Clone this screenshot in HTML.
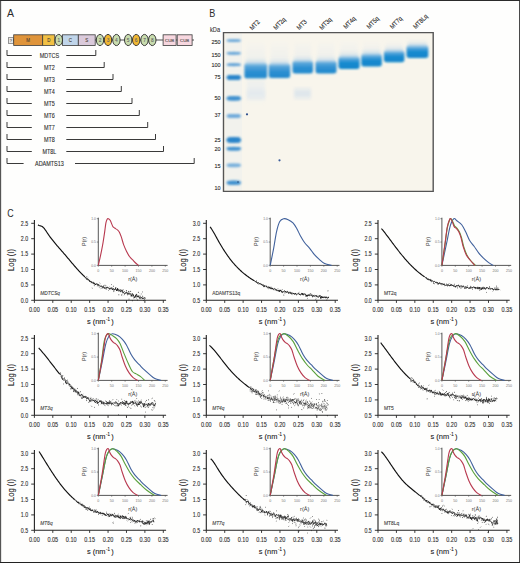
<!DOCTYPE html>
<html><head><meta charset="utf-8"><style>
html,body{margin:0;padding:0;background:#fff;}
body{width:520px;height:563px;overflow:hidden;}
svg{display:block;font-family:"Liberation Sans", sans-serif;}
</style></head><body>
<svg width="520" height="563" viewBox="0 0 520 563">
<rect x="0" y="0" width="520" height="563" fill="#fefefd"/>
<text x="7.1" y="16.8" font-size="11.2" fill="#2a2a2a" textLength="7.02" lengthAdjust="spacingAndGlyphs">A</text>
<rect x="8.3" y="37.7" width="5.2" height="5.8" fill="#e6e6e6" stroke="#555" stroke-width="0.6"/>
<text x="9.79" y="42.3" font-size="4" fill="#555" textLength="2.22" lengthAdjust="spacingAndGlyphs" stroke="#555" stroke-width="0.1">?</text>
<line x1="13" y1="40" x2="194" y2="40" stroke="#222" stroke-width="0.8"/>
<rect x="13.7" y="34.8" width="29" height="10.600000000000001" fill="#df943b" stroke="#3a3a3a" stroke-width="0.8"/>
<text x="26.33" y="41.9" font-size="5" fill="#4a4030" textLength="3.75" lengthAdjust="spacingAndGlyphs" stroke="#4a4030" stroke-width="0.1">M</text>
<rect x="42.7" y="34.8" width="12.1" height="10.600000000000001" fill="#f1c044" stroke="#3a3a3a" stroke-width="0.8"/>
<text x="47.13" y="41.9" font-size="5" fill="#4a4030" textLength="3.25" lengthAdjust="spacingAndGlyphs" stroke="#4a4030" stroke-width="0.1">D</text>
<rect x="62.5" y="34.8" width="15.8" height="10.600000000000001" fill="#c0d5ea" stroke="#3a3a3a" stroke-width="0.8"/>
<text x="68.78" y="41.9" font-size="5" fill="#4a4030" textLength="3.25" lengthAdjust="spacingAndGlyphs" stroke="#4a4030" stroke-width="0.1">C</text>
<rect x="78.3" y="34.8" width="16.9" height="10.600000000000001" fill="#dacadb" stroke="#3a3a3a" stroke-width="0.8"/>
<text x="85.25" y="41.9" font-size="5" fill="#4a4030" textLength="3" lengthAdjust="spacingAndGlyphs" stroke="#4a4030" stroke-width="0.1">S</text>
<rect x="163.1" y="34.8" width="13" height="10.600000000000001" fill="#f7d7df" stroke="#3a3a3a" stroke-width="0.8"/>
<rect x="177.2" y="34.8" width="14.9" height="10.600000000000001" fill="#f7d7df" stroke="#3a3a3a" stroke-width="0.8"/>
<text x="165.06" y="41.7" font-size="4.3" fill="#444" textLength="9.08" lengthAdjust="spacingAndGlyphs" stroke="#444" stroke-width="0.1">CUB</text>
<text x="180.06" y="41.7" font-size="4.3" fill="#444" textLength="9.08" lengthAdjust="spacingAndGlyphs" stroke="#444" stroke-width="0.1">CUB</text>
<ellipse cx="58.8" cy="40" rx="3.7" ry="5.6" fill="#c8dcae" stroke="#2a2a2a" stroke-width="0.9"/>
<text x="57.47" y="41.8" font-size="4.8" fill="#666" textLength="2.67" lengthAdjust="spacingAndGlyphs" stroke="#666" stroke-width="0.1">1</text>
<ellipse cx="100" cy="40" rx="3.7" ry="5.6" fill="#c8dcae" stroke="#2a2a2a" stroke-width="0.9"/>
<text x="98.67" y="41.8" font-size="4.8" fill="#666" textLength="2.67" lengthAdjust="spacingAndGlyphs" stroke="#666" stroke-width="0.1">2</text>
<ellipse cx="108" cy="40" rx="3.7" ry="5.6" fill="#f0b733" stroke="#2a2a2a" stroke-width="0.9"/>
<text x="106.67" y="41.8" font-size="4.8" fill="#666" textLength="2.67" lengthAdjust="spacingAndGlyphs" stroke="#666" stroke-width="0.1">3</text>
<ellipse cx="116.4" cy="40" rx="3.7" ry="5.6" fill="#c8dcae" stroke="#2a2a2a" stroke-width="0.9"/>
<text x="115.07" y="41.8" font-size="4.8" fill="#666" textLength="2.67" lengthAdjust="spacingAndGlyphs" stroke="#666" stroke-width="0.1">4</text>
<ellipse cx="128.2" cy="40" rx="3.7" ry="5.6" fill="#c8dcae" stroke="#2a2a2a" stroke-width="0.9"/>
<text x="126.87" y="41.8" font-size="4.8" fill="#666" textLength="2.67" lengthAdjust="spacingAndGlyphs" stroke="#666" stroke-width="0.1">5</text>
<ellipse cx="136.2" cy="40" rx="3.7" ry="5.6" fill="#f0b733" stroke="#2a2a2a" stroke-width="0.9"/>
<text x="134.87" y="41.8" font-size="4.8" fill="#666" textLength="2.67" lengthAdjust="spacingAndGlyphs" stroke="#666" stroke-width="0.1">6</text>
<ellipse cx="144.5" cy="40" rx="3.7" ry="5.6" fill="#c8dcae" stroke="#2a2a2a" stroke-width="0.9"/>
<text x="143.17" y="41.8" font-size="4.8" fill="#666" textLength="2.67" lengthAdjust="spacingAndGlyphs" stroke="#666" stroke-width="0.1">7</text>
<ellipse cx="152.3" cy="40" rx="3.7" ry="5.6" fill="#c8dcae" stroke="#2a2a2a" stroke-width="0.9"/>
<text x="150.97" y="41.8" font-size="4.8" fill="#666" textLength="2.67" lengthAdjust="spacingAndGlyphs" stroke="#666" stroke-width="0.1">8</text>
<path d="M7 50 V55.5 H31.8 M66.3 55.5 H95.8 V50" fill="none" stroke="#3a3a3a" stroke-width="1"/>
<text x="39.69" y="57.85" font-size="6.5" fill="#2a2a2a" textLength="19.41" lengthAdjust="spacingAndGlyphs" stroke="#2a2a2a" stroke-width="0.1">MDTCS</text>
<path d="M7 62 V67.5 H31.8 M66.3 67.5 H104.2 V62" fill="none" stroke="#3a3a3a" stroke-width="1"/>
<text x="43.94" y="69.85" font-size="6.5" fill="#2a2a2a" textLength="10.92" lengthAdjust="spacingAndGlyphs" stroke="#2a2a2a" stroke-width="0.1">MT2</text>
<path d="M7 74 V79.5 H31.8 M66.3 79.5 H113 V74" fill="none" stroke="#3a3a3a" stroke-width="1"/>
<text x="43.94" y="81.85" font-size="6.5" fill="#2a2a2a" textLength="10.92" lengthAdjust="spacingAndGlyphs" stroke="#2a2a2a" stroke-width="0.1">MT3</text>
<path d="M7 86 V91.5 H31.8 M66.3 91.5 H121.3 V86" fill="none" stroke="#3a3a3a" stroke-width="1"/>
<text x="43.94" y="93.85" font-size="6.5" fill="#2a2a2a" textLength="10.92" lengthAdjust="spacingAndGlyphs" stroke="#2a2a2a" stroke-width="0.1">MT4</text>
<path d="M7 98 V103.5 H31.8 M66.3 103.5 H132 V98" fill="none" stroke="#3a3a3a" stroke-width="1"/>
<text x="43.94" y="105.85" font-size="6.5" fill="#2a2a2a" textLength="10.92" lengthAdjust="spacingAndGlyphs" stroke="#2a2a2a" stroke-width="0.1">MT5</text>
<path d="M7 110 V115.5 H31.8 M66.3 115.5 H139.3 V110" fill="none" stroke="#3a3a3a" stroke-width="1"/>
<text x="43.94" y="117.85" font-size="6.5" fill="#2a2a2a" textLength="10.92" lengthAdjust="spacingAndGlyphs" stroke="#2a2a2a" stroke-width="0.1">MT6</text>
<path d="M7 122 V127.5 H31.8 M66.3 127.5 H147.7 V122" fill="none" stroke="#3a3a3a" stroke-width="1"/>
<text x="43.94" y="129.85" font-size="6.5" fill="#2a2a2a" textLength="10.92" lengthAdjust="spacingAndGlyphs" stroke="#2a2a2a" stroke-width="0.1">MT7</text>
<path d="M7 134 V139.5 H31.8 M66.3 139.5 H155.5 V134" fill="none" stroke="#3a3a3a" stroke-width="1"/>
<text x="43.94" y="141.85" font-size="6.5" fill="#2a2a2a" textLength="10.92" lengthAdjust="spacingAndGlyphs" stroke="#2a2a2a" stroke-width="0.1">MT8</text>
<path d="M7 146 V151.5 H31.8 M66.3 151.5 H163.5 V146" fill="none" stroke="#3a3a3a" stroke-width="1"/>
<text x="42.42" y="153.85" font-size="6.5" fill="#2a2a2a" textLength="13.96" lengthAdjust="spacingAndGlyphs" stroke="#2a2a2a" stroke-width="0.1">MT8L</text>
<path d="M7 158 V163.5 H23.6 M75 163.5 H194.2 V158" fill="none" stroke="#3a3a3a" stroke-width="1"/>
<text x="34.99" y="165.85" font-size="6.5" fill="#2a2a2a" textLength="28.82" lengthAdjust="spacingAndGlyphs" stroke="#2a2a2a" stroke-width="0.1">ADAMTS13</text>
<text x="209.2" y="16.8" font-size="11.2" fill="#2a2a2a" textLength="6.05" lengthAdjust="spacingAndGlyphs">B</text>
<text x="210" y="31.6" font-size="6.4" fill="#333" textLength="10.02" lengthAdjust="spacingAndGlyphs" stroke="#333" stroke-width="0.1">kDa</text>
<rect x="223.5" y="32.6" width="209.7" height="158.8" fill="#f8f5ec"/>
<defs>
<filter id="bl" x="-20%" y="-100%" width="140%" height="300%"><feGaussianBlur stdDeviation="0.7 0.6"/></filter>
<filter id="bl3" x="-20%" y="-100%" width="140%" height="300%"><feGaussianBlur stdDeviation="0.9 0.8"/></filter>
<filter id="bl2" x="-30%" y="-30%" width="160%" height="160%"><feGaussianBlur stdDeviation="1.5 2.5"/></filter>
<linearGradient id="bandg" x1="0" y1="0" x2="0" y2="1">
 <stop offset="0" stop-color="#6ab0e2" stop-opacity="0.25"/>
 <stop offset="0.25" stop-color="#3d9ad8" stop-opacity="0.9"/>
 <stop offset="0.5" stop-color="#1a8bd0" stop-opacity="1"/>
 <stop offset="1" stop-color="#0f84ca" stop-opacity="1"/>
</linearGradient>
<linearGradient id="bandg2" x1="0" y1="0" x2="0" y2="1">
 <stop offset="0" stop-color="#6ab0e2" stop-opacity="0.3"/>
 <stop offset="0.22" stop-color="#4a9ed8" stop-opacity="0.92"/>
 <stop offset="0.55" stop-color="#2f90d2" stop-opacity="1"/>
 <stop offset="1" stop-color="#1f88cc" stop-opacity="1"/>
</linearGradient>
<linearGradient id="smear" x1="0" y1="0" x2="0" y2="1">
 <stop offset="0" stop-color="#e4ecf2" stop-opacity="0"/>
 <stop offset="0.25" stop-color="#e2eaf1" stop-opacity="0.6"/>
 <stop offset="1" stop-color="#cfe0ee" stop-opacity="1"/>
</linearGradient>
</defs>
<rect x="225.5" y="33.6" width="16.5" height="156.8" fill="#e9eef0" opacity="0.35" filter="url(#bl)"/>
<g filter="url(#bl2)"><rect x="246.4" y="40.6" width="18.7" height="25.6" fill="url(#smear)" opacity="0.3"/><rect x="270.8" y="40.6" width="17.4" height="26.2" fill="url(#smear)" opacity="0.3"/><rect x="294.5" y="40.6" width="16.5" height="23.3" fill="url(#smear)" opacity="0.3"/><rect x="317.5" y="40.6" width="17" height="23.4" fill="url(#smear)" opacity="0.3"/><rect x="340.5" y="40.6" width="17.1" height="19" fill="url(#smear)" opacity="0.3"/><rect x="363.3" y="40.6" width="16.5" height="16.4" fill="url(#smear)" opacity="0.3"/><rect x="385.9" y="40.6" width="16.5" height="13.1" fill="url(#smear)" opacity="0.3"/><rect x="408.5" y="40.6" width="17.8" height="8" fill="url(#smear)" opacity="0.3"/></g>
<g filter="url(#bl3)"><ellipse cx="233.8" cy="40.6" rx="7.6" ry="1.4" fill="#5fa2d8" opacity="0.85"/><rect x="227.5" y="39.4" width="12.6" height="2.4" rx="1" fill="#5fa2d8" opacity="0.85"/><ellipse cx="233.8" cy="53.3" rx="7.6" ry="1.5" fill="#5fa2d8" opacity="0.85"/><rect x="227.5" y="52" width="12.6" height="2.6" rx="1" fill="#5fa2d8" opacity="0.85"/><ellipse cx="233.8" cy="64.8" rx="7.6" ry="1.5" fill="#589ed6" opacity="0.85"/><rect x="227.5" y="63.5" width="12.6" height="2.6" rx="1" fill="#589ed6" opacity="0.85"/><ellipse cx="233.8" cy="77.5" rx="7.6" ry="2.6" fill="#2c85ca" opacity="1"/><rect x="227.5" y="75.1" width="12.6" height="4.8" rx="1" fill="#2c85ca" opacity="1"/><ellipse cx="233.8" cy="98.4" rx="7.6" ry="2.3" fill="#3f91d0" opacity="0.95"/><rect x="227.5" y="96.3" width="12.6" height="4.2" rx="1" fill="#3f91d0" opacity="0.95"/><ellipse cx="233.8" cy="116" rx="7.6" ry="2.1" fill="#6aa8da" opacity="0.8"/><rect x="227.5" y="114.1" width="12.6" height="3.8" rx="1" fill="#6aa8da" opacity="0.8"/><ellipse cx="233.8" cy="140" rx="7.6" ry="3" fill="#2c85ca" opacity="1"/><rect x="227.5" y="137.2" width="12.6" height="5.6" rx="1" fill="#2c85ca" opacity="1"/><ellipse cx="233.8" cy="148.7" rx="7.6" ry="1.9" fill="#3f91d0" opacity="0.95"/><rect x="227.5" y="147" width="12.6" height="3.4" rx="1" fill="#3f91d0" opacity="0.95"/><ellipse cx="233.8" cy="165.3" rx="7.6" ry="1.9" fill="#72acdb" opacity="0.8"/><rect x="227.5" y="163.6" width="12.6" height="3.4" rx="1" fill="#72acdb" opacity="0.8"/><ellipse cx="233.8" cy="182.7" rx="7.6" ry="2.2" fill="#3f91d0" opacity="0.95"/><rect x="227.5" y="180.7" width="12.6" height="4" rx="1" fill="#3f91d0" opacity="0.95"/></g>
<g filter="url(#bl2)"><rect x="245.4" y="61.7" width="20.7" height="4" fill="#8dbde4" opacity="0.55"/><rect x="269.8" y="62.3" width="19.4" height="4" fill="#8dbde4" opacity="0.55"/><rect x="293.5" y="59.4" width="18.5" height="4" fill="#8dbde4" opacity="0.55"/><rect x="316.5" y="59.5" width="19" height="4" fill="#8dbde4" opacity="0.55"/><rect x="339.5" y="55.1" width="19.1" height="4" fill="#8dbde4" opacity="0.55"/><rect x="362.3" y="52.5" width="18.5" height="4" fill="#8dbde4" opacity="0.55"/><rect x="384.9" y="49.2" width="18.5" height="4" fill="#8dbde4" opacity="0.55"/><rect x="407.5" y="44.1" width="19.8" height="4" fill="#8dbde4" opacity="0.55"/></g>
<g filter="url(#bl3)"><rect x="244.4" y="62.7" width="22.7" height="15.8" rx="3" ry="2.5" fill="url(#bandg2)"/><rect x="268.8" y="63.3" width="21.4" height="14.7" rx="3" ry="2.5" fill="url(#bandg2)"/><rect x="292.5" y="60.4" width="20.5" height="13" rx="3" ry="2.5" fill="url(#bandg2)"/><rect x="315.5" y="60.5" width="21" height="13" rx="3" ry="2.5" fill="url(#bandg2)"/><rect x="338.5" y="56.1" width="21.1" height="13" rx="3" ry="2.5" fill="url(#bandg)"/><rect x="361.3" y="53.5" width="20.5" height="13" rx="3" ry="2.5" fill="url(#bandg)"/><rect x="383.9" y="50.2" width="20.5" height="12.1" rx="3" ry="2.5" fill="url(#bandg)"/><rect x="406.5" y="45.1" width="21.8" height="13" rx="3" ry="2.5" fill="url(#bandg)"/></g>
<rect x="294" y="89" width="17" height="9" fill="#d3e0ec" opacity="0.7" filter="url(#bl2)"/>
<rect x="247" y="90" width="18" height="8" fill="#d8e3ed" opacity="0.6" filter="url(#bl2)"/>
<rect x="247" y="80" width="18" height="20" fill="#e3eaf0" opacity="0.5" filter="url(#bl2)"/>
<circle cx="247" cy="114.3" r="1.1" fill="#2a4a8a"/><circle cx="279.5" cy="160.3" r="1.1" fill="#3a5a9a"/><circle cx="238" cy="182" r="0.7" fill="#223a6a"/>
<path d="M223.5 191.4 V32.6 H433.2 V191.4 Z" fill="none" stroke="#555" stroke-width="1.4"/>
<text x="211.5" y="43.7" font-size="6.2" fill="#2a2a2a" textLength="9.1" lengthAdjust="spacingAndGlyphs" stroke="#2a2a2a" stroke-width="0.1">250</text>
<text x="211.5" y="56.9" font-size="6.2" fill="#2a2a2a" textLength="9.1" lengthAdjust="spacingAndGlyphs" stroke="#2a2a2a" stroke-width="0.1">150</text>
<text x="211.5" y="66.8" font-size="6.2" fill="#2a2a2a" textLength="9.1" lengthAdjust="spacingAndGlyphs" stroke="#2a2a2a" stroke-width="0.1">100</text>
<text x="214.53" y="78.9" font-size="6.2" fill="#2a2a2a" textLength="6.07" lengthAdjust="spacingAndGlyphs" stroke="#2a2a2a" stroke-width="0.1">75</text>
<text x="214.53" y="100.2" font-size="6.2" fill="#2a2a2a" textLength="6.07" lengthAdjust="spacingAndGlyphs" stroke="#2a2a2a" stroke-width="0.1">50</text>
<text x="214.53" y="116.7" font-size="6.2" fill="#2a2a2a" textLength="6.07" lengthAdjust="spacingAndGlyphs" stroke="#2a2a2a" stroke-width="0.1">37</text>
<text x="214.53" y="142.2" font-size="6.2" fill="#2a2a2a" textLength="6.07" lengthAdjust="spacingAndGlyphs" stroke="#2a2a2a" stroke-width="0.1">25</text>
<text x="214.53" y="150.5" font-size="6.2" fill="#2a2a2a" textLength="6.07" lengthAdjust="spacingAndGlyphs" stroke="#2a2a2a" stroke-width="0.1">20</text>
<text x="214.53" y="167.7" font-size="6.2" fill="#2a2a2a" textLength="6.07" lengthAdjust="spacingAndGlyphs" stroke="#2a2a2a" stroke-width="0.1">15</text>
<text x="214.53" y="189.7" font-size="6.2" fill="#2a2a2a" textLength="6.07" lengthAdjust="spacingAndGlyphs" stroke="#2a2a2a" stroke-width="0.1">10</text>
<text transform="translate(252.2 30.6) rotate(-45)" x="0" y="0" font-size="6.6" fill="#222" textLength="11.35" lengthAdjust="spacingAndGlyphs" stroke="#222" stroke-width="0.1">MT2</text>
<text transform="translate(275.9 30.2) rotate(-45)" x="0" y="0" font-size="6.6" fill="#222" textLength="14.51" lengthAdjust="spacingAndGlyphs" stroke="#222" stroke-width="0.1">MT2q</text>
<text transform="translate(299.3 30.2) rotate(-45)" x="0" y="0" font-size="6.6" fill="#222" textLength="11.35" lengthAdjust="spacingAndGlyphs" stroke="#222" stroke-width="0.1">MT3</text>
<text transform="translate(322 30.2) rotate(-45)" x="0" y="0" font-size="6.6" fill="#222" textLength="14.51" lengthAdjust="spacingAndGlyphs" stroke="#222" stroke-width="0.1">MT3q</text>
<text transform="translate(345.9 29.3) rotate(-45)" x="0" y="0" font-size="6.6" fill="#222" textLength="14.51" lengthAdjust="spacingAndGlyphs" stroke="#222" stroke-width="0.1">MT4q</text>
<text transform="translate(369.2 29.3) rotate(-45)" x="0" y="0" font-size="6.6" fill="#222" textLength="14.51" lengthAdjust="spacingAndGlyphs" stroke="#222" stroke-width="0.1">MT5q</text>
<text transform="translate(392.5 29.3) rotate(-45)" x="0" y="0" font-size="6.6" fill="#222" textLength="14.51" lengthAdjust="spacingAndGlyphs" stroke="#222" stroke-width="0.1">MT7q</text>
<text transform="translate(415.7 29.3) rotate(-45)" x="0" y="0" font-size="6.6" fill="#222" textLength="17.66" lengthAdjust="spacingAndGlyphs" stroke="#222" stroke-width="0.1">MT8Lq</text>
<text x="7.3" y="216.7" font-size="10.8" fill="#2a2a2a" textLength="6.4" lengthAdjust="spacingAndGlyphs">C</text>
<path d="M34.4 220.1 V300.3 H166.1" fill="none" stroke="#222" stroke-width="1.1"/>
<line x1="31.2" y1="223.3" x2="34.4" y2="223.3" stroke="#222" stroke-width="0.9"/>
<text x="20.86" y="225.65" font-size="6.6" fill="#2a2a2a" textLength="7.34" lengthAdjust="spacingAndGlyphs" stroke="#2a2a2a" stroke-width="0.1">2.5</text>
<line x1="31.2" y1="238.7" x2="34.4" y2="238.7" stroke="#222" stroke-width="0.9"/>
<text x="20.86" y="241.05" font-size="6.6" fill="#2a2a2a" textLength="7.34" lengthAdjust="spacingAndGlyphs" stroke="#2a2a2a" stroke-width="0.1">2.0</text>
<line x1="31.2" y1="254.1" x2="34.4" y2="254.1" stroke="#222" stroke-width="0.9"/>
<text x="20.86" y="256.45" font-size="6.6" fill="#2a2a2a" textLength="7.34" lengthAdjust="spacingAndGlyphs" stroke="#2a2a2a" stroke-width="0.1">1.5</text>
<line x1="31.2" y1="269.5" x2="34.4" y2="269.5" stroke="#222" stroke-width="0.9"/>
<text x="20.86" y="271.85" font-size="6.6" fill="#2a2a2a" textLength="7.34" lengthAdjust="spacingAndGlyphs" stroke="#2a2a2a" stroke-width="0.1">1.0</text>
<line x1="31.2" y1="284.9" x2="34.4" y2="284.9" stroke="#222" stroke-width="0.9"/>
<text x="20.86" y="287.25" font-size="6.6" fill="#2a2a2a" textLength="7.34" lengthAdjust="spacingAndGlyphs" stroke="#2a2a2a" stroke-width="0.1">0.5</text>
<line x1="31.2" y1="300.3" x2="34.4" y2="300.3" stroke="#222" stroke-width="0.9"/>
<text x="20.86" y="302.65" font-size="6.6" fill="#2a2a2a" textLength="7.34" lengthAdjust="spacingAndGlyphs" stroke="#2a2a2a" stroke-width="0.1">0.0</text>
<line x1="34.4" y1="300.3" x2="34.4" y2="302.9" stroke="#222" stroke-width="0.9"/>
<text x="29.02" y="311.9" font-size="6.5" fill="#2a2a2a" textLength="10.75" lengthAdjust="spacingAndGlyphs" stroke="#2a2a2a" stroke-width="0.1">0.00</text>
<line x1="52.81" y1="300.3" x2="52.81" y2="302.9" stroke="#222" stroke-width="0.9"/>
<text x="47.44" y="311.9" font-size="6.5" fill="#2a2a2a" textLength="10.75" lengthAdjust="spacingAndGlyphs" stroke="#2a2a2a" stroke-width="0.1">0.05</text>
<line x1="71.23" y1="300.3" x2="71.23" y2="302.9" stroke="#222" stroke-width="0.9"/>
<text x="65.85" y="311.9" font-size="6.5" fill="#2a2a2a" textLength="10.75" lengthAdjust="spacingAndGlyphs" stroke="#2a2a2a" stroke-width="0.1">0.10</text>
<line x1="89.65" y1="300.3" x2="89.65" y2="302.9" stroke="#222" stroke-width="0.9"/>
<text x="84.27" y="311.9" font-size="6.5" fill="#2a2a2a" textLength="10.75" lengthAdjust="spacingAndGlyphs" stroke="#2a2a2a" stroke-width="0.1">0.15</text>
<line x1="108.06" y1="300.3" x2="108.06" y2="302.9" stroke="#222" stroke-width="0.9"/>
<text x="102.68" y="311.9" font-size="6.5" fill="#2a2a2a" textLength="10.75" lengthAdjust="spacingAndGlyphs" stroke="#2a2a2a" stroke-width="0.1">0.20</text>
<line x1="126.47" y1="300.3" x2="126.47" y2="302.9" stroke="#222" stroke-width="0.9"/>
<text x="121.1" y="311.9" font-size="6.5" fill="#2a2a2a" textLength="10.75" lengthAdjust="spacingAndGlyphs" stroke="#2a2a2a" stroke-width="0.1">0.25</text>
<line x1="144.89" y1="300.3" x2="144.89" y2="302.9" stroke="#222" stroke-width="0.9"/>
<text x="139.51" y="311.9" font-size="6.5" fill="#2a2a2a" textLength="10.75" lengthAdjust="spacingAndGlyphs" stroke="#2a2a2a" stroke-width="0.1">0.30</text>
<line x1="163.31" y1="300.3" x2="163.31" y2="302.9" stroke="#222" stroke-width="0.9"/>
<text x="157.93" y="311.9" font-size="6.5" fill="#2a2a2a" textLength="10.75" lengthAdjust="spacingAndGlyphs" stroke="#2a2a2a" stroke-width="0.1">0.35</text>
<text transform="translate(14.2 260.05) rotate(-90)" x="-11.05" y="0" font-size="9" fill="#1a1a1a" textLength="22.11" lengthAdjust="spacingAndGlyphs" stroke="#1a1a1a" stroke-width="0.1">Log (I)</text>
<text x="86.9" y="323.9" font-size="8.1" fill="#1a1a1a" textLength="18.63" lengthAdjust="spacingAndGlyphs" stroke="#1a1a1a" stroke-width="0.1">s (nm</text>
<text x="106.1" y="321.3" font-size="4.8" fill="#1a1a1a" textLength="3.84" lengthAdjust="spacingAndGlyphs" stroke="#1a1a1a" stroke-width="0.1">-1</text>
<text x="111.3" y="323.9" font-size="8.1" fill="#1a1a1a" textLength="2.48" lengthAdjust="spacingAndGlyphs" stroke="#1a1a1a" stroke-width="0.1">)</text>
<text x="40.3" y="295" font-size="4.8" fill="#444" font-style="italic" textLength="19.73" lengthAdjust="spacingAndGlyphs" stroke="#444" stroke-width="0.1">MDTCSq</text>
<path d="M38 224.74 L38.6 225.19 L39.2 225.49 L39.8 225.7 L40.4 225.86 L41 226.02 L41.6 226.23 L42.2 226.55 L42.8 226.99 L43.4 227.56 L44 228.22 L44.6 228.97 L45.2 229.79 L45.8 230.65 L46.4 231.55 L47 232.45 L47.6 233.36 L48.2 234.24 L48.8 235.11 L49.4 235.96 L50 236.79 L50.6 237.61 L51.2 238.41 L51.8 239.19 L52.4 239.97 L53 240.73 L53.6 241.48 L54.2 242.22 L54.8 242.95 L55.4 243.67 L56 244.38 L56.6 245.09 L57.2 245.79 L57.8 246.48 L58.4 247.17 L59 247.86 L59.6 248.54 L60.2 249.23 L60.8 249.91 L61.4 250.59 L62 251.28 L62.6 251.96 L63.2 252.65 L63.8 253.34 L64.4 254.04 L65 254.74 L65.6 255.44 L66.2 256.15 L66.8 256.86 L67.4 257.57 L68 258.28 L68.6 258.99 L69.2 259.71 L69.8 260.42 L70.4 261.13 L71 261.84 L71.6 262.55 L72.2 263.26 L72.8 263.97 L73.4 264.67 L74 265.37 L74.6 266.06 L75.2 266.75 L75.8 267.44 L76.4 268.12 L77 268.79 L77.6 269.46 L78.2 270.12 L78.8 270.78 L79.4 271.42 L80 272.06 L80.6 272.69 L81.2 273.31 L81.8 273.92 L82.4 274.52 L83 275.11 L83.6 275.68 L84.2 276.25 L84.8 276.8" fill="none" stroke="#111" stroke-width="1.15" stroke-linejoin="round"/>
<path d="M84.8 276.8 L85.5 277.3 L86.2 278.31 L86.9 278.52 L87.6 279.05 L88.3 279.28 L89 280.19 L89.7 281.41 L90.4 281.53 L91.1 282.34 L91.8 282.35 L92.5 282.85 L93.2 283.13 L93.9 282.45 L94.6 284.26 L95.3 284.4 L96 284.73 L96.7 283.72 L97.4 283.97 L98.1 284.76 L98.8 285.27 L99.5 286 L100.2 286.02 L100.9 286.6 L101.6 286.07 L102.3 286.88 L103 287.13 L103.7 286.62 L104.4 288.37 L105.1 287.77 L105.8 288.37 L106.5 287.3 L107.2 287.37 L107.9 287.79 L108.6 288.1 L109.3 288.76 L110 288.64 L110.7 288.28 L111.4 288.06 L112.1 288.51 L112.8 289.94 L113.5 288.59 L114.2 289.53 L114.9 289.83 L115.6 288.55 L116.3 289.88 L117 291.03 L117.7 288.65 L118.4 290.16 L119.1 290.53 L119.8 290.18 L120.5 291.45 L121.2 291.24 L121.9 290.35 L122.6 292.46 L123.3 292.59 L124 293.08 L124.7 293.76 L125.4 293.13 L126.1 293.2 L126.8 292.26 L127.5 294.16 L128.2 293.37 L128.9 293.77 L129.6 293.32 L130.3 293.83 L131 294.46 L131.7 296.33 L132.4 293.59 L133.1 294.33 L133.8 296.08 L134.5 297.39 L135.2 296.8 L135.9 294.69 L136.6 294.27 L137.3 297.11 L138 296.22 L138.7 295.97 L139.4 298.08 L140.1 298.29 L140.8 297.45 L141.5 297.58 L142.2 297.79 L142.9 298.93 L143.6 297.95 L144.3 297.81 L145 297.76" fill="none" stroke="#151515" stroke-width="0.95" stroke-linejoin="round"/>
<path d="M85.28 278.01l-0.6 -0.31M85.6 277.95l-0.6 -0.31M86.1 279.51l0.8 -0.58M86.42 276.84l0.8 -0.02M87.03 279.63l0.6 0.15M87.47 279.13l-0.6 0.63M88.13 277.94l-0.6 0.42M88.61 280.48l0.8 -0.03M89.1 281.32l0.8 -0.22M89.36 280.33l0.8 0.05M90.21 281.73l0.6 -0.49M90.6 281.7l0.6 -0.04M90.9 282.68l0.6 -0.58M91.19 281.68l0.6 -0.03M91.88 282.9l0.6 -0.49M92.46 288.25l-0.6 -0.28M93.11 283.64l0.8 -0.2M93.48 282.21l-0.6 -0.24M93.85 285.29l0.8 0.45M94.57 283.56l-0.6 -0.01M95.28 284.38l0.8 0.27M96.14 283.37l-0.6 0.68M97 285l0.8 -0.23M97.54 285.83l-0.6 0.48M98.08 285.43l-0.6 -0.53M98.56 285.05l0.8 -0.03M98.9 284.64l-0.6 -0.15M99.39 287.48l-0.6 -0.48M100.28 283.46l-0.6 -0.5M101.05 285.63l-0.6 0.61M101.38 288.42l-0.6 0.21M101.95 286.86l0.6 0.68M102.3 287.46l-0.6 -0.36M102.92 286.99l0.6 0.47M103.18 288.3l-0.6 -0.11M104.01 286.09l-0.6 -0.49M104.58 287.55l0.8 -0.46M105.11 285.77l-0.6 -0.61M105.79 285.46l-0.6 -0.62M106.14 288.22l0.8 0.01M106.74 288.92l-0.6 0.66M107.36 287.2l0.6 -0.07M107.94 289.86l0.6 0.59M108.76 287.49l0.6 -0.51M109.06 289.12l0.8 -0.4M109.49 288.78l0.8 0.62M110.14 288.47l0.6 -0.39M110.99 289.38l0.6 -0.47M111.66 287.64l0.6 -0.23M112.01 284.73l-0.6 -0.19M112.46 288.58l-0.6 0.17M113.03 285.87l0.8 0.66M113.32 291.46l0.6 0.36M114.09 289.91l-0.6 0.45M114.48 290.99l-0.6 -0.24M114.89 288.62l0.8 -0.1M115.16 287.89l0.8 0.15M115.53 287.75l0.8 -0.06M115.98 290.77l0.8 -0.64M116.67 289.43l0.8 -0.33M117.02 288.8l0.8 -0.29M117.57 288.88l0.6 0.43M118.46 294.77l0.8 0.02M118.84 290.74l-0.6 0.45M119.35 291.45l-0.6 -0.27M119.72 289.51l0.8 0.47M120.41 289.87l0.8 0.47M120.65 291.89l0.6 -0.1M120.9 289.87l0.6 0.14M121.59 294.53l0.8 -0.48M122.11 295.64l-0.6 -0.25M122.35 290.71l0.8 -0.2M122.58 289.96l0.8 -0.35M123.32 292.34l0.8 -0.5M123.93 291.59l0.8 0.12M124.5 294.63l-0.6 0.55M125.25 293l0.6 -0.49M125.95 290.46l0.8 0.45M126.65 291.01l-0.6 -0.5M127.22 294.63l0.8 0.46M127.84 292.72l0.8 -0.58M128.09 291.52l0.8 -0.17M128.61 299.18l0.8 -0.01M128.83 294.39l-0.6 0.61M129.65 291.68l0.6 -0.35M129.93 294.09l-0.6 0.36M130.3 291.48l0.8 -0.03M130.98 295.75l-0.6 0.19M131.33 293.82l-0.6 -0.27M131.94 300.77l0.8 -0.02M132.81 295.96l-0.6 0.02M133.34 297.73l0.8 0.69M133.93 297.63l0.6 -0.06M134.7 297.17l0.6 0.69M135.18 296.91l0.8 -0.5M135.75 296.11l0.8 0.14M136.39 297.9l0.6 0.56M136.94 299.55l0.8 0.63M137.61 296.56l0.6 -0.26M138.4 292.18l0.6 0.47M138.7 296.11l0.6 -0.35M138.96 293.13l-0.6 -0.59M139.8 298.13l0.8 0.47M140.22 296.01l0.8 0.66M140.73 297.78l0.6 0.54M141.49 293.98l-0.6 0.07M142.19 296.77l0.8 0.2M142.61 292.04l-0.6 -0.52M143.14 296.4l-0.6 -0.34M143.8 300.43l-0.6 0.24M144.11 299.39l0.6 0.07M144.63 298.33l0.6 -0.1M145.22 298.35l0.6 -0.37" stroke="#111" stroke-width="0.75" fill="none"/>
<path d="M98.3 217.7 V265.4 H167.6" fill="none" stroke="#444" stroke-width="0.9"/>
<line x1="96.8" y1="265.4" x2="98.3" y2="265.4" stroke="#444" stroke-width="0.6"/>
<text x="96" y="266.6" font-size="3.4" fill="#777" text-anchor="end">0.0</text>
<line x1="96.8" y1="242.05" x2="98.3" y2="242.05" stroke="#444" stroke-width="0.6"/>
<text x="96" y="243.25" font-size="3.4" fill="#777" text-anchor="end">0.5</text>
<line x1="96.8" y1="218.7" x2="98.3" y2="218.7" stroke="#444" stroke-width="0.6"/>
<text x="96" y="219.9" font-size="3.4" fill="#777" text-anchor="end">1.0</text>
<line x1="98.3" y1="265.4" x2="98.3" y2="266.7" stroke="#444" stroke-width="0.6"/>
<text x="98.3" y="272" font-size="3.6" fill="#777" text-anchor="middle">0</text>
<line x1="111.7" y1="265.4" x2="111.7" y2="266.7" stroke="#444" stroke-width="0.6"/>
<text x="111.7" y="272" font-size="3.6" fill="#777" text-anchor="middle">50</text>
<line x1="125.1" y1="265.4" x2="125.1" y2="266.7" stroke="#444" stroke-width="0.6"/>
<text x="125.1" y="272" font-size="3.6" fill="#777" text-anchor="middle">100</text>
<line x1="138.5" y1="265.4" x2="138.5" y2="266.7" stroke="#444" stroke-width="0.6"/>
<text x="138.5" y="272" font-size="3.6" fill="#777" text-anchor="middle">150</text>
<line x1="151.9" y1="265.4" x2="151.9" y2="266.7" stroke="#444" stroke-width="0.6"/>
<text x="151.9" y="272" font-size="3.6" fill="#777" text-anchor="middle">200</text>
<line x1="165.3" y1="265.4" x2="165.3" y2="266.7" stroke="#444" stroke-width="0.6"/>
<text x="165.3" y="272" font-size="3.6" fill="#777" text-anchor="middle">250</text>
<text transform="translate(85.9 241.4) rotate(-90)" x="0" y="0" font-size="5.4" fill="#333" text-anchor="middle">P(r)</text>
<text x="132.8" y="280.7" font-size="5.6" fill="#333" text-anchor="middle">r(Å)</text>
<path d="M98.3 265.4 C98.57 264.23 99.36 260.89 99.91 258.4 C100.46 255.9 101.06 253.18 101.6 250.46 C102.13 247.73 102.64 244.93 103.12 242.05 C103.61 239.17 104.03 236.37 104.49 233.18 C104.96 229.99 105.47 225.24 105.91 222.9 C106.35 220.57 106.73 219.87 107.14 219.17 C107.56 218.47 107.88 218.47 108.4 218.7 C108.93 218.93 109.59 219.32 110.31 220.57 C111.02 221.81 111.98 224.93 112.69 226.17 C113.41 227.42 113.79 227.42 114.59 228.04 C115.39 228.66 116.69 229.21 117.49 229.91 C118.29 230.61 118.76 231.08 119.39 232.24 C120.03 233.41 120.58 234.81 121.29 236.91 C122.01 239.01 122.82 242.44 123.71 244.85 C124.59 247.26 125.64 249.44 126.6 251.39 C127.57 253.34 128.36 254.97 129.5 256.53 C130.63 258.08 132.29 259.56 133.41 260.73 C134.52 261.9 135.32 262.75 136.2 263.53 C137.08 264.31 138.27 265.09 138.69 265.4" fill="none" stroke="#b8394f" stroke-width="1.1"/>
<path d="M206.3 220.1 V300.3 H338" fill="none" stroke="#222" stroke-width="1.1"/>
<line x1="203.1" y1="223.3" x2="206.3" y2="223.3" stroke="#222" stroke-width="0.9"/>
<text x="192.76" y="225.65" font-size="6.6" fill="#2a2a2a" textLength="7.34" lengthAdjust="spacingAndGlyphs" stroke="#2a2a2a" stroke-width="0.1">3.0</text>
<line x1="203.1" y1="238.7" x2="206.3" y2="238.7" stroke="#222" stroke-width="0.9"/>
<text x="192.76" y="241.05" font-size="6.6" fill="#2a2a2a" textLength="7.34" lengthAdjust="spacingAndGlyphs" stroke="#2a2a2a" stroke-width="0.1">2.5</text>
<line x1="203.1" y1="254.1" x2="206.3" y2="254.1" stroke="#222" stroke-width="0.9"/>
<text x="192.76" y="256.45" font-size="6.6" fill="#2a2a2a" textLength="7.34" lengthAdjust="spacingAndGlyphs" stroke="#2a2a2a" stroke-width="0.1">2.0</text>
<line x1="203.1" y1="269.5" x2="206.3" y2="269.5" stroke="#222" stroke-width="0.9"/>
<text x="192.76" y="271.85" font-size="6.6" fill="#2a2a2a" textLength="7.34" lengthAdjust="spacingAndGlyphs" stroke="#2a2a2a" stroke-width="0.1">1.5</text>
<line x1="203.1" y1="284.9" x2="206.3" y2="284.9" stroke="#222" stroke-width="0.9"/>
<text x="192.76" y="287.25" font-size="6.6" fill="#2a2a2a" textLength="7.34" lengthAdjust="spacingAndGlyphs" stroke="#2a2a2a" stroke-width="0.1">1.0</text>
<line x1="203.1" y1="300.3" x2="206.3" y2="300.3" stroke="#222" stroke-width="0.9"/>
<text x="192.76" y="302.65" font-size="6.6" fill="#2a2a2a" textLength="7.34" lengthAdjust="spacingAndGlyphs" stroke="#2a2a2a" stroke-width="0.1">0.5</text>
<line x1="206.3" y1="300.3" x2="206.3" y2="302.9" stroke="#222" stroke-width="0.9"/>
<text x="200.92" y="311.9" font-size="6.5" fill="#2a2a2a" textLength="10.75" lengthAdjust="spacingAndGlyphs" stroke="#2a2a2a" stroke-width="0.1">0.00</text>
<line x1="224.72" y1="300.3" x2="224.72" y2="302.9" stroke="#222" stroke-width="0.9"/>
<text x="219.34" y="311.9" font-size="6.5" fill="#2a2a2a" textLength="10.75" lengthAdjust="spacingAndGlyphs" stroke="#2a2a2a" stroke-width="0.1">0.05</text>
<line x1="243.13" y1="300.3" x2="243.13" y2="302.9" stroke="#222" stroke-width="0.9"/>
<text x="237.75" y="311.9" font-size="6.5" fill="#2a2a2a" textLength="10.75" lengthAdjust="spacingAndGlyphs" stroke="#2a2a2a" stroke-width="0.1">0.10</text>
<line x1="261.55" y1="300.3" x2="261.55" y2="302.9" stroke="#222" stroke-width="0.9"/>
<text x="256.17" y="311.9" font-size="6.5" fill="#2a2a2a" textLength="10.75" lengthAdjust="spacingAndGlyphs" stroke="#2a2a2a" stroke-width="0.1">0.15</text>
<line x1="279.96" y1="300.3" x2="279.96" y2="302.9" stroke="#222" stroke-width="0.9"/>
<text x="274.58" y="311.9" font-size="6.5" fill="#2a2a2a" textLength="10.75" lengthAdjust="spacingAndGlyphs" stroke="#2a2a2a" stroke-width="0.1">0.20</text>
<line x1="298.38" y1="300.3" x2="298.38" y2="302.9" stroke="#222" stroke-width="0.9"/>
<text x="293" y="311.9" font-size="6.5" fill="#2a2a2a" textLength="10.75" lengthAdjust="spacingAndGlyphs" stroke="#2a2a2a" stroke-width="0.1">0.25</text>
<line x1="316.79" y1="300.3" x2="316.79" y2="302.9" stroke="#222" stroke-width="0.9"/>
<text x="311.41" y="311.9" font-size="6.5" fill="#2a2a2a" textLength="10.75" lengthAdjust="spacingAndGlyphs" stroke="#2a2a2a" stroke-width="0.1">0.30</text>
<line x1="335.21" y1="300.3" x2="335.21" y2="302.9" stroke="#222" stroke-width="0.9"/>
<text x="329.83" y="311.9" font-size="6.5" fill="#2a2a2a" textLength="10.75" lengthAdjust="spacingAndGlyphs" stroke="#2a2a2a" stroke-width="0.1">0.35</text>
<text transform="translate(186.1 260.05) rotate(-90)" x="-11.05" y="0" font-size="9" fill="#1a1a1a" textLength="22.11" lengthAdjust="spacingAndGlyphs" stroke="#1a1a1a" stroke-width="0.1">Log (I)</text>
<text x="258.8" y="323.9" font-size="8.1" fill="#1a1a1a" textLength="18.63" lengthAdjust="spacingAndGlyphs" stroke="#1a1a1a" stroke-width="0.1">s (nm</text>
<text x="278" y="321.3" font-size="4.8" fill="#1a1a1a" textLength="3.84" lengthAdjust="spacingAndGlyphs" stroke="#1a1a1a" stroke-width="0.1">-1</text>
<text x="283.2" y="323.9" font-size="8.1" fill="#1a1a1a" textLength="2.48" lengthAdjust="spacingAndGlyphs" stroke="#1a1a1a" stroke-width="0.1">)</text>
<text x="212.2" y="295" font-size="5" fill="#444" textLength="28.01" lengthAdjust="spacingAndGlyphs" stroke="#444" stroke-width="0.1">ADAMTS13q</text>
<path d="M210.1 226.89 L210.7 227.7 L211.3 228.56 L211.9 229.48 L212.5 230.44 L213.1 231.43 L213.7 232.46 L214.3 233.52 L214.9 234.59 L215.5 235.68 L216.1 236.77 L216.7 237.87 L217.3 238.96 L217.9 240.04 L218.5 241.11 L219.1 242.17 L219.7 243.21 L220.3 244.24 L220.9 245.26 L221.5 246.26 L222.1 247.25 L222.7 248.23 L223.3 249.19 L223.9 250.14 L224.5 251.07 L225.1 251.99 L225.7 252.89 L226.3 253.78 L226.9 254.65 L227.5 255.51 L228.1 256.35 L228.7 257.18 L229.3 257.99 L229.9 258.78 L230.5 259.56 L231.1 260.33 L231.7 261.08 L232.3 261.82 L232.9 262.54 L233.5 263.25 L234.1 263.94 L234.7 264.62 L235.3 265.29 L235.9 265.94 L236.5 266.59 L237.1 267.21 L237.7 267.83 L238.3 268.43 L238.9 269.02 L239.5 269.6 L240.1 270.17 L240.7 270.73 L241.3 271.27 L241.9 271.81 L242.5 272.33 L243.1 272.84 L243.7 273.35 L244.3 273.84 L244.9 274.32 L245.5 274.8 L246.1 275.26 L246.7 275.71 L247.3 276.16 L247.9 276.59 L248.5 277.02 L249.1 277.44 L249.7 277.85 L250.3 278.25 L250.9 278.65 L251.5 279.04 L252.1 279.42 L252.7 279.79 L253.3 280.16 L253.9 280.52 L254.5 280.87" fill="none" stroke="#111" stroke-width="1.15" stroke-linejoin="round"/>
<path d="M254.5 280.87 L255.2 281.73 L255.9 281.64 L256.6 282.59 L257.3 282.96 L258 282.36 L258.7 282.8 L259.4 283.75 L260.1 283.46 L260.8 284.15 L261.5 284.46 L262.2 284.99 L262.9 284.98 L263.6 286.62 L264.3 286.15 L265 286.46 L265.7 285.76 L266.4 286 L267.1 287 L267.8 287.54 L268.5 287.46 L269.2 288.17 L269.9 286.87 L270.6 288.58 L271.3 288.98 L272 287.88 L272.7 289 L273.4 289.12 L274.1 289.05 L274.8 288.52 L275.5 289.08 L276.2 290.02 L276.9 290.6 L277.6 290.29 L278.3 291.31 L279 290.23 L279.7 291.65 L280.4 289.92 L281.1 291.15 L281.8 291.55 L282.5 291.81 L283.2 292.13 L283.9 291.24 L284.6 290.76 L285.3 291.9 L286 291.42 L286.7 292.35 L287.4 291.84 L288.1 292.4 L288.8 292.62 L289.5 292.86 L290.2 292.51 L290.9 293.7 L291.6 292.73 L292.3 293.13 L293 293.6 L293.7 293.42 L294.4 294.33 L295.1 293.53 L295.8 293.45 L296.5 294.44 L297.2 294.2 L297.9 293.49 L298.6 293.79 L299.3 294.29 L300 295.03 L300.7 294.82 L301.4 294.44 L302.1 293.03 L302.8 294.94 L303.5 293.88 L304.2 293.74 L304.9 294.36 L305.6 294.95 L306.3 294.98 L307 296.59 L307.7 294.96 L308.4 294.67 L309.1 295.98 L309.8 295.43 L310.5 295.11 L311.2 294.9 L311.9 295.52 L312.6 296.59 L313.3 296.13 L314 295.59 L314.7 296.45 L315.4 296.09 L316.1 295.18 L316.8 296.6 L317.5 296.59 L318.2 297.42 L318.9 296.34 L319.6 295.69 L320.3 297.06 L321 298.37 L321.7 296.29 L322.4 298.02 L323.1 297.02 L323.8 297.55 L324.5 297.21 L325.2 296.71 L325.9 298.17 L326.6 297.27 L327.3 297.82 L328 298.21 L328.7 296.97" fill="none" stroke="#151515" stroke-width="0.95" stroke-linejoin="round"/>
<path d="M255.78 282.05l0.6 -0.62M256.14 280.97l0.8 -0.15M257.37 282.97l-0.6 -0.54M257.78 283.03l-0.6 0.34M258.15 283.74l0.6 0.47M259.47 283.76l0.8 -0.21M260.76 284.35l0.8 -0.17M261.86 284.8l-0.6 -0.04M262.56 284.76l0.8 -0.25M263.63 285.16l-0.6 0.37M264.01 285.29l0.8 0.42M264.4 286.69l0.6 -0.32M265.69 286.73l0.6 0.35M266.72 286.45l-0.6 0.58M267.68 288.23l0.8 0.46M268.13 286.11l0.6 0.58M269.27 288l0.6 -0.44M270.41 288.68l-0.6 -0.37M271.6 287.39l-0.6 -0.59M272.13 288.71l0.8 -0.03M273.01 289.25l0.6 0.54M274.33 289.68l0.6 0.68M275.64 289.93l0.8 -0.12M276.59 290l-0.6 0.36M277.71 288.79l0.6 0.09M278.41 290.69l0.8 -0.37M279.03 291.23l0.8 -0.24M279.76 290.25l0.8 0.21M281.08 291.12l0.6 0.54M281.65 290.09l0.8 -0.53M282.17 292.59l-0.6 -0.43M282.58 291.97l-0.6 0.62M283.02 292.59l-0.6 -0.21M283.39 295.05l0.8 0.14M284.37 292.83l0.8 0.45M285.11 291.75l0.8 0.41M286 291.93l0.8 0.41M286.99 291.12l0.6 0.27M287.74 292.21l0.6 -0.12M288.12 293.22l0.8 0.51M289.45 292.16l0.8 -0.15M290.19 292.42l0.8 0.45M290.93 293.22l0.6 0.38M291.39 294.11l0.6 -0.58M292.35 294.52l-0.6 -0.46M293.03 293.49l0.6 -0.01M294.17 293.8l0.8 -0.28M295.34 294.35l-0.6 0.6M296.06 293.32l-0.6 0.26M297.28 294.73l-0.6 0.48M298.45 293.01l0.8 -0.64M299.72 293.86l-0.6 0.44M300.24 294.7l-0.6 -0.65M301.41 293.4l-0.6 0.39M302.4 293.79l0.8 -0.1M303.39 294.43l-0.6 0.68M304.19 294.8l-0.6 0.39M304.98 294.33l0.8 -0.2M305.68 294.97l-0.6 0.01M306.05 296.37l-0.6 0.02M306.44 295.79l0.6 0.21M307.56 298.35l-0.6 0.44M308.08 295.73l0.6 -0.3M309.23 294.62l0.8 -0.61M309.91 293.8l0.8 -0.25M310.86 294.67l0.6 -0.41M311.46 295.73l0.6 -0.18M311.99 295.01l0.6 0.55M312.49 294.97l0.8 0.38M312.87 296.83l-0.6 0.11M314.09 295.56l-0.6 0.18M314.82 295.58l-0.6 -0.5M315.48 299.31l0.8 -0.45M316.56 296.46l-0.6 0.65M317.76 295.47l0.6 0.33M318.84 295.98l0.6 0.02M320.07 298.08l0.8 0.16M320.45 295.71l-0.6 -0.2M321.01 296.27l-0.6 -0.51M321.71 296.87l0.8 0.29M322.49 297.04l0.8 0.52M323.61 297.02l-0.6 0.45M324.83 297.4l-0.6 -0.08M326.1 297.45l0.8 -0.61M326.46 300.05l0.8 -0.62M327.57 290.92l0.8 -0.12M328.42 296.92l-0.6 0.2" stroke="#111" stroke-width="0.75" fill="none"/>
<path d="M270.2 217.7 V265.4 H339.5" fill="none" stroke="#444" stroke-width="0.9"/>
<line x1="268.7" y1="265.4" x2="270.2" y2="265.4" stroke="#444" stroke-width="0.6"/>
<text x="267.9" y="266.6" font-size="3.4" fill="#777" text-anchor="end">0.0</text>
<line x1="268.7" y1="242.05" x2="270.2" y2="242.05" stroke="#444" stroke-width="0.6"/>
<text x="267.9" y="243.25" font-size="3.4" fill="#777" text-anchor="end">0.5</text>
<line x1="268.7" y1="218.7" x2="270.2" y2="218.7" stroke="#444" stroke-width="0.6"/>
<text x="267.9" y="219.9" font-size="3.4" fill="#777" text-anchor="end">1.0</text>
<line x1="270.2" y1="265.4" x2="270.2" y2="266.7" stroke="#444" stroke-width="0.6"/>
<text x="270.2" y="272" font-size="3.6" fill="#777" text-anchor="middle">0</text>
<line x1="283.6" y1="265.4" x2="283.6" y2="266.7" stroke="#444" stroke-width="0.6"/>
<text x="283.6" y="272" font-size="3.6" fill="#777" text-anchor="middle">50</text>
<line x1="297" y1="265.4" x2="297" y2="266.7" stroke="#444" stroke-width="0.6"/>
<text x="297" y="272" font-size="3.6" fill="#777" text-anchor="middle">100</text>
<line x1="310.4" y1="265.4" x2="310.4" y2="266.7" stroke="#444" stroke-width="0.6"/>
<text x="310.4" y="272" font-size="3.6" fill="#777" text-anchor="middle">150</text>
<line x1="323.8" y1="265.4" x2="323.8" y2="266.7" stroke="#444" stroke-width="0.6"/>
<text x="323.8" y="272" font-size="3.6" fill="#777" text-anchor="middle">200</text>
<line x1="337.2" y1="265.4" x2="337.2" y2="266.7" stroke="#444" stroke-width="0.6"/>
<text x="337.2" y="272" font-size="3.6" fill="#777" text-anchor="middle">250</text>
<text transform="translate(257.8 241.4) rotate(-90)" x="0" y="0" font-size="5.4" fill="#333" text-anchor="middle">P(r)</text>
<text x="304.7" y="280.7" font-size="5.6" fill="#333" text-anchor="middle">r(Å)</text>
<path d="M270.2 265.4 C270.77 262.6 272.53 254.27 273.6 248.59 C274.68 242.91 275.6 235.82 276.63 231.31 C277.66 226.79 278.61 223.6 279.77 221.5 C280.93 219.4 282.2 219.01 283.6 218.7 C285 218.39 286.59 218.93 288.16 219.63 C289.72 220.33 291.55 221.42 292.98 222.9 C294.41 224.38 295.48 226.33 296.73 228.51 C297.98 230.69 299.19 233.64 300.48 235.98 C301.78 238.31 302.94 240.42 304.5 242.52 C306.07 244.62 308.21 246.56 309.86 248.59 C311.52 250.61 312.86 252.87 314.42 254.66 C315.98 256.45 317.55 257.85 319.24 259.33 C320.94 260.81 322.55 262.52 324.6 263.53 C326.66 264.54 330.41 265.09 331.57 265.4" fill="none" stroke="#40619c" stroke-width="1.1"/>
<path d="M378 220.1 V300.3 H509.7" fill="none" stroke="#222" stroke-width="1.1"/>
<line x1="374.8" y1="223.3" x2="378" y2="223.3" stroke="#222" stroke-width="0.9"/>
<text x="364.46" y="225.65" font-size="6.6" fill="#2a2a2a" textLength="7.34" lengthAdjust="spacingAndGlyphs" stroke="#2a2a2a" stroke-width="0.1">2.5</text>
<line x1="374.8" y1="238.7" x2="378" y2="238.7" stroke="#222" stroke-width="0.9"/>
<text x="364.46" y="241.05" font-size="6.6" fill="#2a2a2a" textLength="7.34" lengthAdjust="spacingAndGlyphs" stroke="#2a2a2a" stroke-width="0.1">2.0</text>
<line x1="374.8" y1="254.1" x2="378" y2="254.1" stroke="#222" stroke-width="0.9"/>
<text x="364.46" y="256.45" font-size="6.6" fill="#2a2a2a" textLength="7.34" lengthAdjust="spacingAndGlyphs" stroke="#2a2a2a" stroke-width="0.1">1.5</text>
<line x1="374.8" y1="269.5" x2="378" y2="269.5" stroke="#222" stroke-width="0.9"/>
<text x="364.46" y="271.85" font-size="6.6" fill="#2a2a2a" textLength="7.34" lengthAdjust="spacingAndGlyphs" stroke="#2a2a2a" stroke-width="0.1">1.0</text>
<line x1="374.8" y1="284.9" x2="378" y2="284.9" stroke="#222" stroke-width="0.9"/>
<text x="364.46" y="287.25" font-size="6.6" fill="#2a2a2a" textLength="7.34" lengthAdjust="spacingAndGlyphs" stroke="#2a2a2a" stroke-width="0.1">0.5</text>
<line x1="374.8" y1="300.3" x2="378" y2="300.3" stroke="#222" stroke-width="0.9"/>
<text x="364.46" y="302.65" font-size="6.6" fill="#2a2a2a" textLength="7.34" lengthAdjust="spacingAndGlyphs" stroke="#2a2a2a" stroke-width="0.1">0.0</text>
<line x1="378" y1="300.3" x2="378" y2="302.9" stroke="#222" stroke-width="0.9"/>
<text x="372.62" y="311.9" font-size="6.5" fill="#2a2a2a" textLength="10.75" lengthAdjust="spacingAndGlyphs" stroke="#2a2a2a" stroke-width="0.1">0.00</text>
<line x1="396.42" y1="300.3" x2="396.42" y2="302.9" stroke="#222" stroke-width="0.9"/>
<text x="391.04" y="311.9" font-size="6.5" fill="#2a2a2a" textLength="10.75" lengthAdjust="spacingAndGlyphs" stroke="#2a2a2a" stroke-width="0.1">0.05</text>
<line x1="414.83" y1="300.3" x2="414.83" y2="302.9" stroke="#222" stroke-width="0.9"/>
<text x="409.45" y="311.9" font-size="6.5" fill="#2a2a2a" textLength="10.75" lengthAdjust="spacingAndGlyphs" stroke="#2a2a2a" stroke-width="0.1">0.10</text>
<line x1="433.25" y1="300.3" x2="433.25" y2="302.9" stroke="#222" stroke-width="0.9"/>
<text x="427.87" y="311.9" font-size="6.5" fill="#2a2a2a" textLength="10.75" lengthAdjust="spacingAndGlyphs" stroke="#2a2a2a" stroke-width="0.1">0.15</text>
<line x1="451.66" y1="300.3" x2="451.66" y2="302.9" stroke="#222" stroke-width="0.9"/>
<text x="446.28" y="311.9" font-size="6.5" fill="#2a2a2a" textLength="10.75" lengthAdjust="spacingAndGlyphs" stroke="#2a2a2a" stroke-width="0.1">0.20</text>
<line x1="470.07" y1="300.3" x2="470.07" y2="302.9" stroke="#222" stroke-width="0.9"/>
<text x="464.7" y="311.9" font-size="6.5" fill="#2a2a2a" textLength="10.75" lengthAdjust="spacingAndGlyphs" stroke="#2a2a2a" stroke-width="0.1">0.25</text>
<line x1="488.49" y1="300.3" x2="488.49" y2="302.9" stroke="#222" stroke-width="0.9"/>
<text x="483.11" y="311.9" font-size="6.5" fill="#2a2a2a" textLength="10.75" lengthAdjust="spacingAndGlyphs" stroke="#2a2a2a" stroke-width="0.1">0.30</text>
<line x1="506.91" y1="300.3" x2="506.91" y2="302.9" stroke="#222" stroke-width="0.9"/>
<text x="501.53" y="311.9" font-size="6.5" fill="#2a2a2a" textLength="10.75" lengthAdjust="spacingAndGlyphs" stroke="#2a2a2a" stroke-width="0.1">0.35</text>
<text transform="translate(357.8 260.05) rotate(-90)" x="-11.05" y="0" font-size="9" fill="#1a1a1a" textLength="22.11" lengthAdjust="spacingAndGlyphs" stroke="#1a1a1a" stroke-width="0.1">Log (I)</text>
<text x="430.5" y="323.9" font-size="8.1" fill="#1a1a1a" textLength="18.63" lengthAdjust="spacingAndGlyphs" stroke="#1a1a1a" stroke-width="0.1">s (nm</text>
<text x="449.7" y="321.3" font-size="4.8" fill="#1a1a1a" textLength="3.84" lengthAdjust="spacingAndGlyphs" stroke="#1a1a1a" stroke-width="0.1">-1</text>
<text x="454.9" y="323.9" font-size="8.1" fill="#1a1a1a" textLength="2.48" lengthAdjust="spacingAndGlyphs" stroke="#1a1a1a" stroke-width="0.1">)</text>
<text x="383.9" y="295" font-size="5" fill="#444" textLength="12.52" lengthAdjust="spacingAndGlyphs" stroke="#444" stroke-width="0.1">MT2q</text>
<path d="M381.4 228.53 L382 229.25 L382.6 229.97 L383.2 230.71 L383.8 231.46 L384.4 232.22 L385 232.98 L385.6 233.76 L386.2 234.54 L386.8 235.32 L387.4 236.12 L388 236.91 L388.6 237.71 L389.2 238.52 L389.8 239.32 L390.4 240.13 L391 240.94 L391.6 241.75 L392.2 242.55 L392.8 243.36 L393.4 244.17 L394 244.97 L394.6 245.77 L395.2 246.56 L395.8 247.35 L396.4 248.14 L397 248.92 L397.6 249.7 L398.2 250.48 L398.8 251.24 L399.4 252.01 L400 252.77 L400.6 253.52 L401.2 254.26 L401.8 255 L402.4 255.74 L403 256.46 L403.6 257.18 L404.2 257.89 L404.8 258.59 L405.4 259.29 L406 259.98 L406.6 260.65 L407.2 261.32 L407.8 261.98 L408.4 262.64 L409 263.28 L409.6 263.91 L410.2 264.54 L410.8 265.15 L411.4 265.76 L412 266.35 L412.6 266.94 L413.2 267.52 L413.8 268.09 L414.4 268.66 L415 269.21 L415.6 269.75 L416.2 270.29 L416.8 270.81 L417.4 271.33 L418 271.84 L418.6 272.34 L419.2 272.83 L419.8 273.31 L420.4 273.79 L421 274.25 L421.6 274.71 L422.2 275.15 L422.8 275.59 L423.4 276.01 L424 276.43 L424.6 276.84" fill="none" stroke="#111" stroke-width="1.15" stroke-linejoin="round"/>
<path d="M424.6 276.84 L425.3 277.39 L426 277.51 L426.7 278.04 L427.4 278.9 L428.1 279.8 L428.8 279.62 L429.5 279.85 L430.2 279.41 L430.9 281.22 L431.6 280.75 L432.3 281.01 L433 280.83 L433.7 281.58 L434.4 281.39 L435.1 282.15 L435.8 282.57 L436.5 282.61 L437.2 282.95 L437.9 282.64 L438.6 283.88 L439.3 283.12 L440 282.76 L440.7 283.69 L441.4 283.58 L442.1 283.62 L442.8 284.08 L443.5 284.53 L444.2 283.96 L444.9 284.58 L445.6 285.47 L446.3 285.22 L447 284.93 L447.7 285.17 L448.4 285.15 L449.1 285.29 L449.8 285.78 L450.5 285.46 L451.2 284.37 L451.9 285.67 L452.6 285.31 L453.3 286.19 L454 285.62 L454.7 286.1 L455.4 287.24 L456.1 285.63 L456.8 285.66 L457.5 285.58 L458.2 285.13 L458.9 285.47 L459.6 286.76 L460.3 286.28 L461 285.68 L461.7 285.95 L462.4 287.18 L463.1 286.48 L463.8 286.77 L464.5 287.22 L465.2 287.87 L465.9 288.27 L466.6 287.82 L467.3 287.37 L468 287.45 L468.7 288.45 L469.4 288.3 L470.1 287.34 L470.8 287.85 L471.5 287.8 L472.2 287.72 L472.9 287.44 L473.6 287 L474.3 287.52 L475 286.96 L475.7 288.69 L476.4 288.32 L477.1 287.31 L477.8 288.95 L478.5 288.69 L479.2 287 L479.9 289.38 L480.6 288.79 L481.3 289.63 L482 287.59 L482.7 288.75 L483.4 288.73 L484.1 288.63 L484.8 288.65 L485.5 289.26 L486.2 287.65 L486.9 287.85 L487.6 287.79 L488.3 288.38 L489 288.38 L489.7 289.07 L490.4 289.04 L491.1 288.92 L491.8 288.48 L492.5 288.68 L493.2 289.66 L493.9 289.57 L494.6 289.16 L495.3 288.9 L496 290.23 L496.7 288.79 L497.4 289.69 L498.1 290.08 L498.8 289.12" fill="none" stroke="#151515" stroke-width="0.95" stroke-linejoin="round"/>
<path d="M425.78 278.22l0.6 0.03M426.22 277.99l0.8 0.05M426.77 279.16l0.8 -0.09M427.62 279.33l0.8 -0.69M428.45 279.28l0.6 0.13M429.74 279.45l-0.6 0.62M430.35 279.91l0.8 0.61M431.46 279.93l-0.6 0.09M431.89 282.08l-0.6 -0.58M433.11 283.49l0.8 -0.28M433.88 282.56l-0.6 -0.37M434.67 283.64l-0.6 0.35M435.65 282.13l0.6 0.23M436.73 283.02l0.6 0.26M437.32 282.36l-0.6 -0.37M437.84 283.87l-0.6 0.46M438.79 284.38l-0.6 0.03M439.29 283.24l0.8 -0.34M440.57 284.28l0.8 -0.16M441.89 284.95l-0.6 -0.28M442.5 284.68l0.6 -0.05M442.84 283.94l0.6 0.27M443.68 284.03l-0.6 0.33M444.02 284.58l0.6 0.28M444.94 285.28l-0.6 0.53M446.05 283.94l0.8 0.25M447.02 284.6l0.8 0.55M447.6 286.08l-0.6 0.18M448.18 284.16l0.6 0.03M449.17 285.62l-0.6 -0.24M449.52 285.68l0.6 0.06M450.01 285.24l0.8 0.03M450.45 284.3l-0.6 -0.68M451.57 285.32l0.6 -0.13M452.85 285.48l0.8 0.32M453.8 285.18l0.6 -0.32M454.53 284.17l-0.6 0.24M455.45 286.52l0.6 0.34M456.72 286.53l0.6 -0.05M457.22 287.75l0.8 0.43M458.19 285.86l0.8 -0.21M459.16 286.29l0.6 -0.04M459.79 287.7l0.6 0.4M460.35 287.76l-0.6 -0.35M461.11 288.07l0.6 -0.2M462.1 286.83l0.6 -0.1M463.07 285.62l0.6 -0.62M464.23 288.53l0.8 0.04M464.91 286.75l0.8 0.22M465.49 286.63l0.8 0.5M466.01 287.31l0.6 0.41M466.51 286.63l-0.6 0.67M466.93 286.05l0.6 -0.42M467.96 286.96l-0.6 0.47M468.97 288.12l0.8 -0.04M469.86 288.14l0.8 0.28M470.44 286.35l0.8 0.48M471.24 286.74l-0.6 -0.28M472.04 289.06l0.8 0.19M473.01 287.75l-0.6 -0.64M474.08 287.98l0.6 -0.02M475.31 287.53l-0.6 -0.12M475.77 287.48l-0.6 0.08M477.01 287.31l0.6 -0.11M477.9 287.62l0.6 -0.23M479.22 289.94l0.6 0.66M480.2 287.84l0.6 -0.52M481.51 289.09l0.8 -0.14M482.4 287.5l0.8 -0.69M482.92 287.98l-0.6 0.37M483.32 287.52l0.8 0.18M484.35 288.25l-0.6 -0.58M484.72 288.1l-0.6 -0.45M485.09 288.12l-0.6 -0.68M486.29 288.05l0.6 -0.44M486.66 292.39l-0.6 0.2M487.93 288.46l0.8 0.38M488.68 288.65l0.6 -0.07M489.03 286.74l0.8 -0.03M489.78 287.49l-0.6 -0.04M491 288.77l-0.6 -0.53M492.3 289.03l0.8 -0.52M492.66 289.07l0.8 0.59M493.35 290.75l-0.6 0.5M494.42 287.91l0.6 0.24M495.64 287.91l0.8 0.3M495.99 286.24l0.8 -0.16M496.63 287.57l0.6 0.15M497.28 289.06l0.8 -0.5M498.41 288.06l-0.6 -0.47M499.55 289.56l0.6 0.4" stroke="#111" stroke-width="0.75" fill="none"/>
<path d="M441.9 217.7 V265.4 H511.2" fill="none" stroke="#444" stroke-width="0.9"/>
<line x1="440.4" y1="265.4" x2="441.9" y2="265.4" stroke="#444" stroke-width="0.6"/>
<text x="439.6" y="266.6" font-size="3.4" fill="#777" text-anchor="end">0.0</text>
<line x1="440.4" y1="242.05" x2="441.9" y2="242.05" stroke="#444" stroke-width="0.6"/>
<text x="439.6" y="243.25" font-size="3.4" fill="#777" text-anchor="end">0.5</text>
<line x1="440.4" y1="218.7" x2="441.9" y2="218.7" stroke="#444" stroke-width="0.6"/>
<text x="439.6" y="219.9" font-size="3.4" fill="#777" text-anchor="end">1.0</text>
<line x1="441.9" y1="265.4" x2="441.9" y2="266.7" stroke="#444" stroke-width="0.6"/>
<text x="441.9" y="272" font-size="3.6" fill="#777" text-anchor="middle">0</text>
<line x1="455.3" y1="265.4" x2="455.3" y2="266.7" stroke="#444" stroke-width="0.6"/>
<text x="455.3" y="272" font-size="3.6" fill="#777" text-anchor="middle">50</text>
<line x1="468.7" y1="265.4" x2="468.7" y2="266.7" stroke="#444" stroke-width="0.6"/>
<text x="468.7" y="272" font-size="3.6" fill="#777" text-anchor="middle">100</text>
<line x1="482.1" y1="265.4" x2="482.1" y2="266.7" stroke="#444" stroke-width="0.6"/>
<text x="482.1" y="272" font-size="3.6" fill="#777" text-anchor="middle">150</text>
<line x1="495.5" y1="265.4" x2="495.5" y2="266.7" stroke="#444" stroke-width="0.6"/>
<text x="495.5" y="272" font-size="3.6" fill="#777" text-anchor="middle">200</text>
<line x1="508.9" y1="265.4" x2="508.9" y2="266.7" stroke="#444" stroke-width="0.6"/>
<text x="508.9" y="272" font-size="3.6" fill="#777" text-anchor="middle">250</text>
<text transform="translate(429.5 241.4) rotate(-90)" x="0" y="0" font-size="5.4" fill="#333" text-anchor="middle">P(r)</text>
<text x="476.4" y="280.7" font-size="5.6" fill="#333" text-anchor="middle">r(Å)</text>
<path d="M441.9 265.4 C442.66 261.82 445.05 250.53 446.46 243.92 C447.86 237.3 449.08 229.91 450.32 225.71 C451.55 221.5 452.71 219.48 453.85 218.7 C455 217.92 455.86 220.02 457.18 221.04 C458.49 222.05 460.32 222.98 461.73 224.77 C463.15 226.56 464.38 229.21 465.67 231.78 C466.97 234.34 468.11 237.77 469.5 240.18 C470.9 242.59 472.54 244.15 474.06 246.25 C475.58 248.35 477.1 250.85 478.62 252.79 C480.13 254.74 481.5 256.29 483.17 257.93 C484.85 259.56 486.99 261.35 488.67 262.6 C490.35 263.84 492.48 264.93 493.25 265.4" fill="none" stroke="#40619c" stroke-width="1.1"/>
<path d="M441.9 265.4 C442.41 261.98 444.06 251.08 444.96 244.85 C445.85 238.63 446.49 232.17 447.26 228.04 C448.03 223.91 448.94 221.66 449.56 220.1 C450.19 218.54 450.46 218.39 451.01 218.7 C451.57 219.01 452.31 220.8 452.89 221.97 C453.47 223.14 453.83 224.69 454.5 225.71 C455.17 226.72 456.1 227.03 456.91 228.04 C457.71 229.05 458.54 230.14 459.32 231.78 C460.1 233.41 460.84 235.28 461.6 237.85 C462.36 240.42 462.98 244.31 463.88 247.19 C464.77 250.07 465.8 252.87 466.96 255.13 C468.12 257.38 469.44 259.02 470.84 260.73 C472.25 262.44 474.64 264.62 475.4 265.4" fill="none" stroke="#5aa03c" stroke-width="1.1"/>
<path d="M441.9 265.4 C442.41 261.82 444.06 250.3 444.96 243.92 C445.85 237.54 446.49 231.15 447.26 227.11 C448.03 223.06 448.98 221.04 449.56 219.63 C450.15 218.23 450.23 218.23 450.74 218.7 C451.25 219.17 452.05 221.11 452.62 222.44 C453.19 223.76 453.54 225.63 454.17 226.64 C454.81 227.65 455.68 227.65 456.45 228.51 C457.22 229.36 458.02 230.22 458.78 231.78 C459.55 233.33 460.3 235.28 461.06 237.85 C461.82 240.42 462.45 244.31 463.34 247.19 C464.23 250.07 465.26 252.95 466.42 255.13 C467.58 257.31 468.9 258.55 470.31 260.26 C471.71 261.98 474.1 264.54 474.86 265.4" fill="none" stroke="#b8394f" stroke-width="1.1"/>
<path d="M34.4 335.1 V415.3 H166.1" fill="none" stroke="#222" stroke-width="1.1"/>
<line x1="31.2" y1="338.3" x2="34.4" y2="338.3" stroke="#222" stroke-width="0.9"/>
<text x="20.86" y="340.65" font-size="6.6" fill="#2a2a2a" textLength="7.34" lengthAdjust="spacingAndGlyphs" stroke="#2a2a2a" stroke-width="0.1">2.5</text>
<line x1="31.2" y1="353.7" x2="34.4" y2="353.7" stroke="#222" stroke-width="0.9"/>
<text x="20.86" y="356.05" font-size="6.6" fill="#2a2a2a" textLength="7.34" lengthAdjust="spacingAndGlyphs" stroke="#2a2a2a" stroke-width="0.1">2.0</text>
<line x1="31.2" y1="369.1" x2="34.4" y2="369.1" stroke="#222" stroke-width="0.9"/>
<text x="20.86" y="371.45" font-size="6.6" fill="#2a2a2a" textLength="7.34" lengthAdjust="spacingAndGlyphs" stroke="#2a2a2a" stroke-width="0.1">1.5</text>
<line x1="31.2" y1="384.5" x2="34.4" y2="384.5" stroke="#222" stroke-width="0.9"/>
<text x="20.86" y="386.85" font-size="6.6" fill="#2a2a2a" textLength="7.34" lengthAdjust="spacingAndGlyphs" stroke="#2a2a2a" stroke-width="0.1">1.0</text>
<line x1="31.2" y1="399.9" x2="34.4" y2="399.9" stroke="#222" stroke-width="0.9"/>
<text x="20.86" y="402.25" font-size="6.6" fill="#2a2a2a" textLength="7.34" lengthAdjust="spacingAndGlyphs" stroke="#2a2a2a" stroke-width="0.1">0.5</text>
<line x1="31.2" y1="415.3" x2="34.4" y2="415.3" stroke="#222" stroke-width="0.9"/>
<text x="20.86" y="417.65" font-size="6.6" fill="#2a2a2a" textLength="7.34" lengthAdjust="spacingAndGlyphs" stroke="#2a2a2a" stroke-width="0.1">0.0</text>
<line x1="34.4" y1="415.3" x2="34.4" y2="417.9" stroke="#222" stroke-width="0.9"/>
<text x="29.02" y="426.9" font-size="6.5" fill="#2a2a2a" textLength="10.75" lengthAdjust="spacingAndGlyphs" stroke="#2a2a2a" stroke-width="0.1">0.00</text>
<line x1="52.81" y1="415.3" x2="52.81" y2="417.9" stroke="#222" stroke-width="0.9"/>
<text x="47.44" y="426.9" font-size="6.5" fill="#2a2a2a" textLength="10.75" lengthAdjust="spacingAndGlyphs" stroke="#2a2a2a" stroke-width="0.1">0.05</text>
<line x1="71.23" y1="415.3" x2="71.23" y2="417.9" stroke="#222" stroke-width="0.9"/>
<text x="65.85" y="426.9" font-size="6.5" fill="#2a2a2a" textLength="10.75" lengthAdjust="spacingAndGlyphs" stroke="#2a2a2a" stroke-width="0.1">0.10</text>
<line x1="89.65" y1="415.3" x2="89.65" y2="417.9" stroke="#222" stroke-width="0.9"/>
<text x="84.27" y="426.9" font-size="6.5" fill="#2a2a2a" textLength="10.75" lengthAdjust="spacingAndGlyphs" stroke="#2a2a2a" stroke-width="0.1">0.15</text>
<line x1="108.06" y1="415.3" x2="108.06" y2="417.9" stroke="#222" stroke-width="0.9"/>
<text x="102.68" y="426.9" font-size="6.5" fill="#2a2a2a" textLength="10.75" lengthAdjust="spacingAndGlyphs" stroke="#2a2a2a" stroke-width="0.1">0.20</text>
<line x1="126.47" y1="415.3" x2="126.47" y2="417.9" stroke="#222" stroke-width="0.9"/>
<text x="121.1" y="426.9" font-size="6.5" fill="#2a2a2a" textLength="10.75" lengthAdjust="spacingAndGlyphs" stroke="#2a2a2a" stroke-width="0.1">0.25</text>
<line x1="144.89" y1="415.3" x2="144.89" y2="417.9" stroke="#222" stroke-width="0.9"/>
<text x="139.51" y="426.9" font-size="6.5" fill="#2a2a2a" textLength="10.75" lengthAdjust="spacingAndGlyphs" stroke="#2a2a2a" stroke-width="0.1">0.30</text>
<line x1="163.31" y1="415.3" x2="163.31" y2="417.9" stroke="#222" stroke-width="0.9"/>
<text x="157.93" y="426.9" font-size="6.5" fill="#2a2a2a" textLength="10.75" lengthAdjust="spacingAndGlyphs" stroke="#2a2a2a" stroke-width="0.1">0.35</text>
<text transform="translate(14.2 375.05) rotate(-90)" x="-11.05" y="0" font-size="9" fill="#1a1a1a" textLength="22.11" lengthAdjust="spacingAndGlyphs" stroke="#1a1a1a" stroke-width="0.1">Log (I)</text>
<text x="86.9" y="438.9" font-size="8.1" fill="#1a1a1a" textLength="18.63" lengthAdjust="spacingAndGlyphs" stroke="#1a1a1a" stroke-width="0.1">s (nm</text>
<text x="106.1" y="436.3" font-size="4.8" fill="#1a1a1a" textLength="3.84" lengthAdjust="spacingAndGlyphs" stroke="#1a1a1a" stroke-width="0.1">-1</text>
<text x="111.3" y="438.9" font-size="8.1" fill="#1a1a1a" textLength="2.48" lengthAdjust="spacingAndGlyphs" stroke="#1a1a1a" stroke-width="0.1">)</text>
<text x="40.3" y="410" font-size="4.8" fill="#444" font-style="italic" textLength="12.27" lengthAdjust="spacingAndGlyphs" stroke="#444" stroke-width="0.1">MT3q</text>
<path d="M38.7 347.98 L39.3 348.64 L39.9 349.31 L40.5 349.98 L41.1 350.67 L41.7 351.37 L42.3 352.07 L42.9 352.78 L43.5 353.5 L44.1 354.23 L44.7 354.96 L45.3 355.7 L45.9 356.44 L46.5 357.19 L47.1 357.95 L47.7 358.71 L48.3 359.47 L48.9 360.24 L49.5 361.01 L50.1 361.78 L50.7 362.55 L51.3 363.33 L51.9 364.11 L52.5 364.88 L53.1 365.66 L53.7 366.44 L54.3 367.22 L54.9 367.99 L55.5 368.77 L56.1 369.54 L56.7 370.31 L57.3 371.08 L57.9 371.84 L58.5 372.6 L59.1 373.35 L59.7 374.1" fill="none" stroke="#111" stroke-width="1.15" stroke-linejoin="round"/>
<path d="M59.7 374.1 L60.4 374.21 L61.1 375.29 L61.8 376.44 L62.5 379.31 L63.2 379.07 L63.9 378.79 L64.6 378.69 L65.3 380.3 L66 382.43 L66.7 383.71 L67.4 382.91 L68.1 383.35 L68.8 384.22 L69.5 383.92 L70.2 386.7 L70.9 385.92 L71.6 388.21 L72.3 386.79 L73 387.78 L73.7 389.6 L74.4 389.42 L75.1 391.22 L75.8 391.22 L76.5 390.89 L77.2 392.85 L77.9 393.57 L78.6 391.96 L79.3 395.4 L80 394.87 L80.7 395.56 L81.4 393.96 L82.1 395.32 L82.8 396.05 L83.5 397.61 L84.2 395.98 L84.9 396.82 L85.6 396.26 L86.3 398.06 L87 398.87 L87.7 397.53 L88.4 398.72 L89.1 399.92 L89.8 401.08 L90.5 400.58 L91.2 400.03 L91.9 399.53 L92.6 399.95 L93.3 400.38 L94 401.26 L94.7 401.28 L95.4 402.91 L96.1 401.9 L96.8 400.88 L97.5 403.27 L98.2 402.89 L98.9 402.28 L99.6 401.68 L100.3 400.78 L101 401.61 L101.7 403.39 L102.4 401.97 L103.1 401.58 L103.8 402.99 L104.5 403.09 L105.2 403.47 L105.9 403.56 L106.6 404.29 L107.3 402.31 L108 403.98 L108.7 402.24 L109.4 403.79 L110.1 403.35 L110.8 403.43 L111.5 404.12 L112.2 403.24 L112.9 404.3 L113.6 404.1 L114.3 403.42 L115 402.78 L115.7 402.62 L116.4 402.83 L117.1 403.15 L117.8 403.32 L118.5 406.17 L119.2 403.96 L119.9 404.09 L120.6 402.54 L121.3 402.68 L122 403.06 L122.7 403.55 L123.4 402.37 L124.1 404.93 L124.8 402.82 L125.5 404.43 L126.2 401.09 L126.9 403.37 L127.6 403.66 L128.3 403.58 L129 403.99 L129.7 403.68 L130.4 403.57 L131.1 401.52 L131.8 402.71 L132.5 401.08 L133.2 404.08 L133.9 403.78 L134.6 403.28 L135.3 402.66 L136 402.93 L136.7 405.43 L137.4 405.35 L138.1 403.54 L138.8 404.96 L139.5 402.02 L140.2 401.69 L140.9 403.23 L141.6 402.87 L142.3 403.24 L143 404.07 L143.7 407.11 L144.4 403.28 L145.1 404.09 L145.8 404.4 L146.5 404.14 L147.2 405.24 L147.9 406.22 L148.6 403.07 L149.3 404.66 L150 404.29 L150.7 405.06 L151.4 403.11 L152.1 402.96 L152.8 402.46 L153.5 405.67 L154.2 405.43 L154.9 405.42 L155.6 402.86" fill="none" stroke="#151515" stroke-width="0.75" stroke-linejoin="round"/>
<path d="M60.17 372.98l0.8 -0.04M60.49 373.98l0.6 -0.03M60.72 376.5l0.8 -0.04M61.3 377.51l0.8 0.6M61.55 378.09l0.8 0.39M62.15 375.2l0.6 0.48M62.59 376.41l0.6 -0.54M62.92 379.96l-0.6 -0.62M63.4 380.13l0.6 -0.11M63.67 383.86l-0.6 0.48M63.98 378.18l0.6 -0.54M64.58 380.12l-0.6 0.6M64.99 381.98l0.6 -0.1M65.27 382.19l0.8 -0.56M65.56 382.97l0.6 -0.5M66 382.3l-0.6 -0.22M66.22 383.74l0.8 -0.2M66.4 380.66l0.6 0.1M66.61 382.51l0.8 0.14M67.15 380.84l-0.6 -0.01M67.43 381.61l0.8 0.12M67.68 380.14l-0.6 0.03M68.22 382.8l0.6 0.48M68.77 384.43l0.8 -0.13M69.28 384.59l-0.6 0.46M69.6 384.57l0.6 0.1M70.15 389.12l0.8 -0.53M70.64 385.03l0.6 0.39M71.19 387.89l0.8 0.64M71.57 386.73l-0.6 0.43M71.79 389.16l0.8 -0.56M72.06 388.83l0.8 -0.67M72.64 388.22l-0.6 0.11M73.03 391.31l0.8 -0.21M73.23 388.73l-0.6 0M73.51 390.7l0.6 0.54M73.92 389.86l0.6 0.35M74.15 391.77l-0.6 -0.16M74.5 388.75l0.8 0.39M74.81 390.14l0.6 0.3M75.35 392.03l0.6 0.49M75.53 390.88l-0.6 0.61M75.8 390.34l-0.6 -0.44M76.1 390.5l-0.6 -0.67M76.32 392.19l-0.6 -0.63M76.92 388.94l0.8 -0.65M77.37 392.02l-0.6 0.43M77.54 391.64l0.8 0.03M77.9 392.64l-0.6 -0.47M78.08 394.21l-0.6 0.56M78.27 394.57l-0.6 -0.52M78.56 392.8l0.6 -0.32M79.06 393.44l-0.6 0.1M79.51 395.63l-0.6 -0.19M80.07 391.94l0.8 -0.36M80.33 395.07l0.6 0.66M80.67 396.78l0.6 0.08M81.05 398.19l0.8 -0.29M81.56 398.18l0.6 0.22M81.95 396.98l0.6 0.33M82.16 398.2l0.8 -0.12M82.62 395.62l0.8 0.16M83.16 394.19l-0.6 0.59M83.78 396.64l-0.6 0.29M84.35 397.33l-0.6 0.12M84.74 397.35l-0.6 -0.49M85.28 397.22l0.6 0.27M85.57 397.39l0.6 -0.15M85.98 396.96l0.6 -0.17M86.27 400.58l0.8 -0.09M86.6 398.97l-0.6 0.47M87.2 397.48l0.6 0.55M87.79 398.62l0.6 0.59M88.3 402.36l0.6 0.02M88.69 398.25l-0.6 0.25M89.06 401.75l0.8 0.04M89.26 397.99l-0.6 -0.48M89.5 400.79l0.6 -0.08M89.94 398.79l0.8 -0.46M90.24 401.49l0.6 0.02M90.45 398.97l-0.6 0.54M90.79 397.51l0.6 0.44M91.04 399.77l-0.6 0.14M91.36 400.62l-0.6 0.31M91.83 406.54l-0.6 -0.69M92.13 400.63l-0.6 -0.68M92.3 400.87l-0.6 0.55M92.69 398.77l0.8 -0.12M92.9 400.86l0.8 -0.59M93.49 400.26l0.6 0.16M94.01 407.81l0.6 -0.5M94.28 401.42l0.8 -0.33M94.48 400l0.6 0.17M94.64 400.58l0.6 0.12M95.24 400.58l0.8 -0.48M95.66 400.73l0.8 0.56M96.19 398.46l0.6 0.67M96.38 399.3l-0.6 0.31M96.63 403.06l0.8 -0.58M96.87 400.52l0.8 0.66M97.15 403.35l0.6 -0.23M97.61 403.27l0.6 0.46M97.92 402.49l0.8 -0.09M98.21 405.13l0.8 -0.36M98.42 399.4l-0.6 -0.08M98.96 401.41l0.8 -0.18M99.21 400.78l0.6 0.63M99.6 400.76l0.6 0.25M100.19 400.95l0.6 0.05M100.53 401.45l0.8 0.52M100.74 401.22l0.6 -0.66M101.23 402.19l0.8 -0.15M101.42 403.41l-0.6 0.55M101.6 401.42l-0.6 0.36M101.85 403.76l-0.6 -0.14M102.17 403.36l0.6 0.38M102.73 403.6l0.8 -0.19M103.25 403.75l0.6 -0.66M103.73 404.49l-0.6 -0.56M104.02 402.83l-0.6 0.33M104.5 405.28l0.8 0.36M104.73 403.14l-0.6 -0.26M105.17 404.09l-0.6 0.03M105.75 401.12l-0.6 -0.21M105.91 403.21l0.8 0.53M106.33 401.64l0.8 0.25M106.5 403.28l0.8 -0.12M107 401.51l-0.6 0.46M107.28 404.75l0.6 0.27M107.78 402.5l-0.6 0.18M108.17 403.81l0.8 -0.01M108.41 405.58l-0.6 -0.33M108.82 401.74l0.8 0.65M109.05 401.51l0.8 -0.42M109.34 402.47l0.8 0.29M109.5 400.69l0.8 0.61M109.82 403.89l-0.6 -0.36M110.26 402.56l0.6 0.36M110.49 401.63l0.6 0.46M110.7 402.09l0.6 -0.02M110.87 402.93l0.6 -0.07M111.08 404.01l0.6 0.1M111.37 405.11l0.6 -0.58M111.85 403.8l-0.6 -0.33M112.3 400.2l0.6 -0.69M112.88 403.49l-0.6 0.16M113.37 402.87l-0.6 -0.66M113.88 402.7l0.6 -0.18M114.48 405.43l0.8 0.4M115.02 401.67l0.6 -0.17M115.47 403.44l0.6 0.47M115.74 405.72l0.8 0.09M116.19 402.25l0.8 -0.01M116.57 399.58l0.6 0.14M117.01 403.47l-0.6 0.66M117.21 405.77l0.6 -0.03M117.46 405.77l-0.6 -0.1M117.75 403.84l-0.6 0.3M118.31 414.67l0.8 0.57M118.54 403.6l0.6 0.43M119.01 401.12l-0.6 -0.06M119.61 403.8l0.8 0.66M120.21 403.6l-0.6 -0.24M120.67 402.76l0.6 0.63M121.04 402.85l-0.6 -0.66M121.28 404.98l0.6 0.27M121.5 399.2l0.6 0.04M121.92 401.86l0.8 -0.38M122.52 403.37l0.6 0.21M122.76 402.05l-0.6 -0.02M123.17 402.55l-0.6 0.57M123.58 402.97l-0.6 -0.6M123.94 400.55l0.8 0.18M124.54 402.44l0.6 0.46M124.87 405.72l0.8 -0.51M125.39 401.86l0.8 -0.63M125.56 405.39l0.8 0.29M125.91 402.8l-0.6 0.68M126.16 403.13l0.6 0.34M126.47 401.62l-0.6 -0.68M126.74 401.07l0.6 0.31M126.91 403.19l0.8 -0.2M127.22 407.48l0.8 -0.34M127.46 404.28l-0.6 -0.08M127.98 404.71l0.8 0.08M128.27 404.05l0.6 0.47M128.69 406.65l0.6 0.63M128.85 403.34l0.8 -0.02M129.23 404.38l-0.6 0.45M129.7 402.75l0.6 0.65M130.17 404.04l-0.6 -0.59M130.48 408.26l0.8 0.12M130.65 402.01l-0.6 -0.04M131.24 405.1l0.6 0.11M131.55 389.56l0.8 0.18M132.04 404.88l0.6 -0.32M132.42 401.25l0.8 0.69M132.59 402.43l0.8 0.52M133.1 402.21l0.6 0.41M133.36 402.05l0.8 0.25M133.66 403.3l-0.6 -0.36M134.22 401.11l0.6 -0.62M134.52 405.75l0.6 0.55M135.05 403.33l0.8 -0.51M135.21 401.43l-0.6 0.38M135.79 404.14l0.8 -0.28M136.09 399.05l0.6 -0.6M136.33 402.04l-0.6 -0.45M136.75 401.39l0.6 0.31M137.33 406.29l0.6 0.56M137.61 404.77l0.6 -0.37M137.78 404.02l0.6 -0.42M138.21 402.8l-0.6 -0.62M138.42 400.92l0.8 0.43M138.98 404.49l-0.6 0.2M139.14 404.64l0.8 -0.4M139.44 402.43l-0.6 0.42M139.68 402l0.8 -0.58M140.12 405.75l0.6 0.52M140.28 403.54l-0.6 0.68M140.46 403.42l0.8 -0.67M140.71 401.92l0.8 -0.2M141.03 401.99l0.8 0.22M141.46 400.04l-0.6 0.17M141.99 406.72l-0.6 0.38M142.6 404.43l0.6 -0.19M143 403.82l0.8 0.22M143.51 406.57l-0.6 -0.38M144.01 405.05l0.8 0.06M144.26 404.17l0.6 0.62M144.58 405.5l0.8 0.04M144.9 407.1l0.6 0.68M145.28 401.95l0.6 -0.4M145.8 411.94l-0.6 0.33M145.98 400.69l0.8 -0.38M146.31 406.59l0.6 0.62M146.75 404.18l0.6 -0.36M147.07 405.88l0.6 0.2M147.36 404.83l0.8 -0.03M147.95 407.03l0.8 0.45M148.23 399.89l0.8 -0.25M148.67 404.82l0.8 0.11M149.23 405.98l0.6 -0.44M149.78 403.19l0.6 0.26M150.31 405.6l0.6 -0.49M150.8 404.08l0.8 -0.05M151.14 402.73l0.6 0.53M151.74 398.58l0.8 -0.42M152.19 409.72l-0.6 -0.1M152.39 410.39l0.6 -0.61M152.59 407.56l0.8 -0.45M153.07 404.54l-0.6 0.06M153.68 408.06l0.8 -0.21M153.93 400.52l0.8 0.32M154.21 405.14l0.8 -0.42M154.39 406.08l0.6 -0.33M154.69 401.02l0.6 0.27M155.3 405.93l-0.6 -0.32" stroke="#111" stroke-width="0.75" fill="none"/>
<path d="M98.3 332.7 V380.4 H167.6" fill="none" stroke="#444" stroke-width="0.9"/>
<line x1="96.8" y1="380.4" x2="98.3" y2="380.4" stroke="#444" stroke-width="0.6"/>
<text x="96" y="381.6" font-size="3.4" fill="#777" text-anchor="end">0.0</text>
<line x1="96.8" y1="357.05" x2="98.3" y2="357.05" stroke="#444" stroke-width="0.6"/>
<text x="96" y="358.25" font-size="3.4" fill="#777" text-anchor="end">0.5</text>
<line x1="96.8" y1="333.7" x2="98.3" y2="333.7" stroke="#444" stroke-width="0.6"/>
<text x="96" y="334.9" font-size="3.4" fill="#777" text-anchor="end">1.0</text>
<line x1="98.3" y1="380.4" x2="98.3" y2="381.7" stroke="#444" stroke-width="0.6"/>
<text x="98.3" y="387" font-size="3.6" fill="#777" text-anchor="middle">0</text>
<line x1="111.7" y1="380.4" x2="111.7" y2="381.7" stroke="#444" stroke-width="0.6"/>
<text x="111.7" y="387" font-size="3.6" fill="#777" text-anchor="middle">50</text>
<line x1="125.1" y1="380.4" x2="125.1" y2="381.7" stroke="#444" stroke-width="0.6"/>
<text x="125.1" y="387" font-size="3.6" fill="#777" text-anchor="middle">100</text>
<line x1="138.5" y1="380.4" x2="138.5" y2="381.7" stroke="#444" stroke-width="0.6"/>
<text x="138.5" y="387" font-size="3.6" fill="#777" text-anchor="middle">150</text>
<line x1="151.9" y1="380.4" x2="151.9" y2="381.7" stroke="#444" stroke-width="0.6"/>
<text x="151.9" y="387" font-size="3.6" fill="#777" text-anchor="middle">200</text>
<line x1="165.3" y1="380.4" x2="165.3" y2="381.7" stroke="#444" stroke-width="0.6"/>
<text x="165.3" y="387" font-size="3.6" fill="#777" text-anchor="middle">250</text>
<text transform="translate(85.9 356.4) rotate(-90)" x="0" y="0" font-size="5.4" fill="#333" text-anchor="middle">P(r)</text>
<text x="132.8" y="395.7" font-size="5.6" fill="#333" text-anchor="middle">r(Å)</text>
<path d="M98.3 380.4 C98.93 377.44 100.8 368.73 102.05 362.65 C103.3 356.58 104.64 348.41 105.8 343.97 C106.97 339.54 107.9 337.75 109.02 336.03 C110.14 334.32 111.03 333.78 112.5 333.7 C113.98 333.62 116.21 334.63 117.86 335.57 C119.52 336.5 120.99 337.75 122.42 339.3 C123.85 340.86 125.01 342.42 126.44 344.91 C127.87 347.4 129.61 351.76 131 354.25 C132.38 356.74 133.32 358.06 134.75 359.85 C136.18 361.64 138.01 363.35 139.57 364.99 C141.14 366.62 142.48 368.1 144.13 369.66 C145.78 371.22 147.7 372.85 149.49 374.33 C151.27 375.81 152.93 377.52 154.85 378.53 C156.77 379.54 159.98 380.09 161.01 380.4" fill="none" stroke="#40619c" stroke-width="1.1"/>
<path d="M98.3 380.4 C98.81 377.36 100.35 368.88 101.38 362.19 C102.41 355.49 103.33 344.99 104.46 340.24 C105.6 335.49 106.79 334.4 108.22 333.7 C109.65 333 111.61 335.18 113.04 336.03 C114.47 336.89 115.63 337.59 116.79 338.84 C117.95 340.08 118.85 341.17 120.01 343.51 C121.17 345.84 122.38 349.5 123.76 352.85 C125.14 356.19 126.89 360.47 128.32 363.59 C129.75 366.7 131.04 369.81 132.34 371.53 C133.63 373.24 134.7 373.01 136.09 373.86 C137.47 374.72 139.21 375.57 140.64 376.66 C142.07 377.75 143.99 379.78 144.66 380.4" fill="none" stroke="#5aa03c" stroke-width="1.1"/>
<path d="M98.3 380.4 C98.61 378.69 99.53 373.71 100.18 370.13 C100.82 366.55 101.53 362.81 102.16 358.92 C102.78 355.03 103.41 350.2 103.93 346.78 C104.45 343.35 104.82 340.39 105.27 338.37 C105.71 336.35 106.1 335.41 106.61 334.63 C107.12 333.86 107.79 333.23 108.32 333.7 C108.86 334.17 109.26 336.27 109.82 337.44 C110.39 338.6 111.07 339.85 111.7 340.7 C112.33 341.56 113 342.11 113.58 342.57 C114.16 343.04 114.51 342.96 115.18 343.51 C115.85 344.05 116.79 344.75 117.6 345.84 C118.4 346.93 119.25 348.18 120.01 350.05 C120.77 351.91 121.26 354.4 122.15 357.05 C123.05 359.7 124.21 363.28 125.37 365.92 C126.53 368.57 127.82 370.98 129.12 372.93 C130.42 374.87 131.71 376.35 133.14 377.6 C134.57 378.84 136.94 379.93 137.7 380.4" fill="none" stroke="#b8394f" stroke-width="1.1"/>
<path d="M206.3 335.1 V415.3 H338" fill="none" stroke="#222" stroke-width="1.1"/>
<line x1="203.1" y1="338.3" x2="206.3" y2="338.3" stroke="#222" stroke-width="0.9"/>
<text x="192.76" y="340.65" font-size="6.6" fill="#2a2a2a" textLength="7.34" lengthAdjust="spacingAndGlyphs" stroke="#2a2a2a" stroke-width="0.1">3.0</text>
<line x1="203.1" y1="353.7" x2="206.3" y2="353.7" stroke="#222" stroke-width="0.9"/>
<text x="192.76" y="356.05" font-size="6.6" fill="#2a2a2a" textLength="7.34" lengthAdjust="spacingAndGlyphs" stroke="#2a2a2a" stroke-width="0.1">2.5</text>
<line x1="203.1" y1="369.1" x2="206.3" y2="369.1" stroke="#222" stroke-width="0.9"/>
<text x="192.76" y="371.45" font-size="6.6" fill="#2a2a2a" textLength="7.34" lengthAdjust="spacingAndGlyphs" stroke="#2a2a2a" stroke-width="0.1">2.0</text>
<line x1="203.1" y1="384.5" x2="206.3" y2="384.5" stroke="#222" stroke-width="0.9"/>
<text x="192.76" y="386.85" font-size="6.6" fill="#2a2a2a" textLength="7.34" lengthAdjust="spacingAndGlyphs" stroke="#2a2a2a" stroke-width="0.1">1.5</text>
<line x1="203.1" y1="399.9" x2="206.3" y2="399.9" stroke="#222" stroke-width="0.9"/>
<text x="192.76" y="402.25" font-size="6.6" fill="#2a2a2a" textLength="7.34" lengthAdjust="spacingAndGlyphs" stroke="#2a2a2a" stroke-width="0.1">1.0</text>
<line x1="203.1" y1="415.3" x2="206.3" y2="415.3" stroke="#222" stroke-width="0.9"/>
<text x="192.76" y="417.65" font-size="6.6" fill="#2a2a2a" textLength="7.34" lengthAdjust="spacingAndGlyphs" stroke="#2a2a2a" stroke-width="0.1">0.5</text>
<line x1="206.3" y1="415.3" x2="206.3" y2="417.9" stroke="#222" stroke-width="0.9"/>
<text x="200.92" y="426.9" font-size="6.5" fill="#2a2a2a" textLength="10.75" lengthAdjust="spacingAndGlyphs" stroke="#2a2a2a" stroke-width="0.1">0.00</text>
<line x1="224.72" y1="415.3" x2="224.72" y2="417.9" stroke="#222" stroke-width="0.9"/>
<text x="219.34" y="426.9" font-size="6.5" fill="#2a2a2a" textLength="10.75" lengthAdjust="spacingAndGlyphs" stroke="#2a2a2a" stroke-width="0.1">0.05</text>
<line x1="243.13" y1="415.3" x2="243.13" y2="417.9" stroke="#222" stroke-width="0.9"/>
<text x="237.75" y="426.9" font-size="6.5" fill="#2a2a2a" textLength="10.75" lengthAdjust="spacingAndGlyphs" stroke="#2a2a2a" stroke-width="0.1">0.10</text>
<line x1="261.55" y1="415.3" x2="261.55" y2="417.9" stroke="#222" stroke-width="0.9"/>
<text x="256.17" y="426.9" font-size="6.5" fill="#2a2a2a" textLength="10.75" lengthAdjust="spacingAndGlyphs" stroke="#2a2a2a" stroke-width="0.1">0.15</text>
<line x1="279.96" y1="415.3" x2="279.96" y2="417.9" stroke="#222" stroke-width="0.9"/>
<text x="274.58" y="426.9" font-size="6.5" fill="#2a2a2a" textLength="10.75" lengthAdjust="spacingAndGlyphs" stroke="#2a2a2a" stroke-width="0.1">0.20</text>
<line x1="298.38" y1="415.3" x2="298.38" y2="417.9" stroke="#222" stroke-width="0.9"/>
<text x="293" y="426.9" font-size="6.5" fill="#2a2a2a" textLength="10.75" lengthAdjust="spacingAndGlyphs" stroke="#2a2a2a" stroke-width="0.1">0.25</text>
<line x1="316.79" y1="415.3" x2="316.79" y2="417.9" stroke="#222" stroke-width="0.9"/>
<text x="311.41" y="426.9" font-size="6.5" fill="#2a2a2a" textLength="10.75" lengthAdjust="spacingAndGlyphs" stroke="#2a2a2a" stroke-width="0.1">0.30</text>
<line x1="335.21" y1="415.3" x2="335.21" y2="417.9" stroke="#222" stroke-width="0.9"/>
<text x="329.83" y="426.9" font-size="6.5" fill="#2a2a2a" textLength="10.75" lengthAdjust="spacingAndGlyphs" stroke="#2a2a2a" stroke-width="0.1">0.35</text>
<text transform="translate(186.1 375.05) rotate(-90)" x="-11.05" y="0" font-size="9" fill="#1a1a1a" textLength="22.11" lengthAdjust="spacingAndGlyphs" stroke="#1a1a1a" stroke-width="0.1">Log (I)</text>
<text x="258.8" y="438.9" font-size="8.1" fill="#1a1a1a" textLength="18.63" lengthAdjust="spacingAndGlyphs" stroke="#1a1a1a" stroke-width="0.1">s (nm</text>
<text x="278" y="436.3" font-size="4.8" fill="#1a1a1a" textLength="3.84" lengthAdjust="spacingAndGlyphs" stroke="#1a1a1a" stroke-width="0.1">-1</text>
<text x="283.2" y="438.9" font-size="8.1" fill="#1a1a1a" textLength="2.48" lengthAdjust="spacingAndGlyphs" stroke="#1a1a1a" stroke-width="0.1">)</text>
<text x="212.2" y="410" font-size="4.8" fill="#444" font-style="italic" textLength="12.27" lengthAdjust="spacingAndGlyphs" stroke="#444" stroke-width="0.1">MT4q</text>
<path d="M209.4 345.35 L210 345.87 L210.6 346.42 L211.2 347 L211.8 347.6 L212.4 348.23 L213 348.88 L213.6 349.54 L214.2 350.23 L214.8 350.93 L215.4 351.65 L216 352.38 L216.6 353.12 L217.2 353.87 L217.8 354.63 L218.4 355.39 L219 356.16 L219.6 356.93 L220.2 357.7 L220.8 358.48 L221.4 359.25 L222 360.02 L222.6 360.8 L223.2 361.57 L223.8 362.33 L224.4 363.1 L225 363.86 L225.6 364.62 L226.2 365.37 L226.8 366.11 L227.4 366.85 L228 367.58 L228.6 368.3 L229.2 369.01 L229.8 369.72 L230.4 370.41 L231 371.09 L231.6 371.76 L232.2 372.42 L232.8 373.07 L233.4 373.71 L234 374.33 L234.6 374.95 L235.2 375.55 L235.8 376.15 L236.4 376.74 L237 377.31 L237.6 377.88 L238.2 378.44 L238.8 378.99 L239.4 379.53 L240 380.07 L240.6 380.6 L241.2 381.12 L241.8 381.63 L242.4 382.13 L243 382.63 L243.6 383.13 L244.2 383.61 L244.8 384.09 L245.4 384.57 L246 385.04 L246.6 385.51 L247.2 385.97 L247.8 386.42 L248.4 386.87 L249 387.32 L249.6 387.77" fill="none" stroke="#111" stroke-width="1.15" stroke-linejoin="round"/>
<path d="M249.6 387.77 L250.3 387.29 L251 389.33 L251.7 388.91 L252.4 390.16 L253.1 390.43 L253.8 388.86 L254.5 391.94 L255.2 389.83 L255.9 391.75 L256.6 392.14 L257.3 390.23 L258 393.54 L258.7 393.44 L259.4 392.9 L260.1 396.66 L260.8 395.08 L261.5 395.34 L262.2 395.54 L262.9 396.06 L263.6 396.39 L264.3 396.65 L265 396.12 L265.7 395.94 L266.4 397.09 L267.1 396.42 L267.8 398.66 L268.5 396.95 L269.2 398.87 L269.9 397.1 L270.6 399.06 L271.3 397.95 L272 399.25 L272.7 398.14 L273.4 398.97 L274.1 400.28 L274.8 397.69 L275.5 400.26 L276.2 398.83 L276.9 402.55 L277.6 400.96 L278.3 399.61 L279 401.53 L279.7 400.08 L280.4 399.51 L281.1 400.47 L281.8 398.32 L282.5 401.84 L283.2 399.13 L283.9 399.93 L284.6 402.47 L285.3 400.9 L286 399.36 L286.7 398.94 L287.4 399.49 L288.1 400.87 L288.8 400.48 L289.5 400.61 L290.2 399.44 L290.9 400.95 L291.6 401.58 L292.3 399.67 L293 402.5 L293.7 402.29 L294.4 402.89 L295.1 402.86 L295.8 404.48 L296.5 402.95 L297.2 400.41 L297.9 403.08 L298.6 401.63 L299.3 400.69 L300 404.66 L300.7 401.52 L301.4 403.57 L302.1 402.75 L302.8 402.04 L303.5 402.15 L304.2 405.22 L304.9 402.69 L305.6 403.87 L306.3 403.63 L307 403.43 L307.7 404.18 L308.4 406.24 L309.1 406.46 L309.8 406.39 L310.5 405.12 L311.2 404.49 L311.9 405.38 L312.6 405.66 L313.3 406.97 L314 407.19 L314.7 404.95 L315.4 404.41 L316.1 403.61 L316.8 405.97 L317.5 406.41 L318.2 408.45 L318.9 407.76 L319.6 406.64 L320.3 405.56 L321 405.98 L321.7 403.39 L322.4 405.75 L323.1 406.65 L323.8 407.89 L324.5 404.84 L325.2 407.29 L325.9 405.8 L326.6 406.41 L327.3 409.06 L328 409.06" fill="none" stroke="#151515" stroke-width="0.25" stroke-linejoin="round"/>
<path d="M249.77 389.71l0.6 -0.19M250.06 387.11l0.6 -0.1M250.31 388.47l0.8 0.59M250.46 390.95l-0.6 0.11M250.56 388.82l0.6 -0.17M250.8 388.23l-0.6 0.36M250.9 387.28l0.6 -0.12M251.12 389.22l0.6 -0.14M251.24 389.93l0.8 -0.14M251.35 389.1l-0.6 -0.24M251.54 391.37l-0.6 0.44M251.66 392.74l0.8 0.09M251.77 388.97l0.8 0.07M252.06 388.06l0.8 0.7M252.38 390.52l-0.6 0.68M252.52 390.85l-0.6 -0.33M252.69 391.1l-0.6 0.54M252.97 388.87l0.8 0.51M253.28 390.38l0.8 -0.41M253.55 391.53l-0.6 -0.02M253.8 391.08l-0.6 0.08M253.9 389.99l-0.6 -0.61M254.25 392.05l0.6 -0.29M254.54 391.51l-0.6 0.16M254.74 391.7l0.8 -0.09M255.01 393.86l0.8 0.44M255.23 390.75l0.8 -0M255.51 389.71l0.6 0.42M255.74 392.5l-0.6 -0.56M255.86 390l0.8 -0.12M256.13 394.15l0.8 0.52M256.47 391.39l0.8 0.47M256.64 391.62l-0.6 0.31M256.82 392.2l-0.6 0.48M256.95 394.31l0.8 -0.24M257.09 392.81l-0.6 0.06M257.2 392.86l-0.6 -0.14M257.3 391.63l-0.6 0.59M257.67 392.18l0.6 -0.68M257.97 393.35l0.8 -0.42M258.14 391.55l0.8 -0.5M258.3 392.53l0.8 0.11M258.47 393.91l0.8 0.62M258.74 394.13l0.6 -0.21M258.97 393.69l0.6 0.43M259.26 394.85l-0.6 0.07M259.56 394.12l-0.6 0.11M259.76 394.7l0.6 0.11M259.95 394.26l0.8 0.23M260.07 392.9l-0.6 0.52M260.29 397.43l0.8 -0.49M260.45 396.69l0.6 -0.05M260.59 393.66l0.8 -0.3M260.83 395.14l0.8 0.32M261.07 395.91l0.8 -0.02M261.38 395.89l-0.6 0.34M261.49 398.43l0.6 -0.15M261.72 391.19l0.8 -0.58M261.97 393.62l-0.6 0.45M262.29 392.23l0.6 0.68M262.39 395.01l0.6 -0.58M262.69 393.55l0.8 -0.68M263.03 395.77l0.8 -0.49M263.26 396.78l0.6 0.38M263.41 395.55l0.8 0.7M263.72 394.4l0.6 0.04M263.9 395.6l-0.6 -0.63M264.09 396.45l-0.6 0.3M264.27 399.12l-0.6 -0.01M264.44 396.44l0.6 0.57M264.73 397.72l0.6 -0.16M265 395.19l-0.6 -0.28M265.35 398.02l0.6 0.35M265.67 397.15l-0.6 -0.06M265.83 399.47l-0.6 -0.63M266.1 396.25l-0.6 0.26M266.45 397.12l-0.6 0.24M266.75 398.16l0.6 0.41M266.84 398.58l0.6 -0.11M267.1 397.97l0.6 0.06M267.21 397.53l0.6 -0.58M267.38 398.07l0.6 -0.13M267.62 398.52l0.6 0.45M267.76 400.29l0.8 -0.19M267.91 395.52l0.6 -0.27M268.09 396.01l-0.6 -0.43M268.4 398.23l0.8 -0.55M268.56 398.31l-0.6 -0.35M268.75 390.74l-0.6 0.23M268.88 397.35l0.6 0.23M268.99 394.59l0.6 -0.27M269.27 399.91l-0.6 0.43M269.38 396.03l0.8 -0.62M269.7 398.7l-0.6 -0.17M269.87 399.93l0.6 -0.65M270.05 400.51l0.6 -0.5M270.31 400.3l-0.6 0.13M270.66 399.29l0.8 -0.29M270.9 401.23l-0.6 0.2M271.13 398.57l0.6 0.27M271.3 396.17l-0.6 -0.21M271.42 397.54l0.8 -0.47M271.72 398.8l0.6 0.66M272.02 399.58l-0.6 -0.44M272.2 399.57l0.6 -0.14M272.47 400.54l0.6 -0.16M272.83 400.25l0.6 0M273.03 402.77l0.6 -0.64M273.19 397.51l0.6 0.35M273.36 396.48l0.6 0.04M273.53 399.12l0.8 0.05M273.81 402.26l-0.6 0.62M273.98 401.31l-0.6 0.25M274.18 400.3l0.8 0.6M274.31 398.93l0.8 0.38M274.51 396.65l-0.6 0.47M274.71 397.67l-0.6 0.52M274.95 402.43l-0.6 0.6M275.12 397.87l0.8 0M275.44 395.96l-0.6 -0.09M275.59 400.12l0.8 -0.49M275.87 397.02l-0.6 -0.53M276.03 409.45l0.6 0.53M276.16 398.85l-0.6 -0.16M276.5 399.96l-0.6 -0.32M276.64 397.29l0.8 -0.2M276.89 400.01l-0.6 -0.6M277.21 399.88l0.8 -0.06M277.51 394.87l-0.6 0.08M277.82 399.49l0.6 -0.55M277.97 398.91l-0.6 -0.38M278.22 401.12l0.6 0.48M278.53 402.83l0.8 0.44M278.69 400.4l-0.6 -0.32M278.81 391.25l0.6 -0.38M279.13 402.67l0.6 0.65M279.31 401.7l0.8 -0.1M279.67 400.76l-0.6 -0.06M279.85 398.68l0.8 -0.59M280.19 402.02l0.8 0.41M280.48 400.84l0.6 0.35M280.83 402.85l-0.6 0.16M280.93 396.94l-0.6 0.31M281.19 401.67l0.6 0.18M281.44 399.45l-0.6 -0.45M281.62 400.67l-0.6 -0.06M281.74 404.51l0.6 -0.02M281.86 402.62l0.6 -0.03M282.17 401.85l-0.6 -0.16M282.36 401.53l0.8 0.29M282.71 397.27l0.6 -0.47M283.04 401.23l0.8 -0.68M283.19 399.89l0.8 -0.05M283.29 400.25l-0.6 0.58M283.62 398.16l-0.6 0.57M283.71 399.34l0.6 -0.16M283.83 400.98l0.6 0.1M284.17 401.02l0.6 0.37M284.42 400.88l-0.6 0.24M284.71 399.28l-0.6 -0.04M285.04 401.81l0.6 -0.61M285.19 401.69l0.8 -0.69M285.44 400.71l-0.6 -0.65M285.55 403.28l0.8 -0.65M285.66 401.43l-0.6 -0.64M285.9 399.67l0.6 -0.33M286.03 400.35l-0.6 -0.56M286.16 399.36l-0.6 0.02M286.28 403.54l0.8 -0.6M286.38 397.55l0.8 0M286.64 400.53l0.8 0.23M286.9 399.57l-0.6 -0.69M287.2 404.55l0.6 -0.41M287.48 397.26l-0.6 -0.1M287.6 398.64l0.8 -0.58M287.76 399.87l0.8 -0.57M287.92 399.75l-0.6 0.67M288.22 405.86l0.8 -0.64M288.5 400.88l0.6 0.59M288.75 402.35l-0.6 0.35M288.86 407.85l-0.6 0.25M289.18 401.67l0.8 -0.45M289.53 400.15l0.6 0.48M289.63 399.13l0.8 -0.08M289.99 403.66l0.6 -0.32M290.15 399.25l0.8 -0.22M290.39 400.71l0.8 0.55M290.69 400.6l0.8 -0.65M291.02 400.37l0.8 0.65M291.15 401.39l-0.6 0.23M291.31 402.98l-0.6 -0.57M291.46 399.8l0.8 0.3M291.67 407.34l-0.6 0.26M291.95 400l0.6 -0.35M292.11 399.67l0.6 0.17M292.38 399.67l0.8 0.22M292.63 400.76l0.8 0.05M292.74 402.75l-0.6 -0.54M292.97 400.44l0.6 -0.45M293.09 399.58l0.6 0.28M293.22 404.01l0.6 -0.22M293.54 394.16l0.8 -0.55M293.69 399.73l0.8 -0.6M293.8 403.66l-0.6 0.12M294.08 401.83l0.8 -0.16M294.34 402.04l0.8 -0.61M294.52 405.7l0.6 -0.19M294.8 399.38l-0.6 -0.35M295 402.63l0.8 -0.3M295.19 402.49l0.8 0.21M295.52 402.48l0.6 -0.33M295.62 398.52l0.6 0.47M295.77 399.23l0.6 0.08M296 402.04l0.6 -0.03M296.13 400.72l0.8 -0.33M296.35 402.11l0.6 0.08M296.46 401.66l0.6 -0.55M296.8 399.15l0.8 0.03M297.03 403.8l0.6 0.59M297.25 403.36l0.8 0.43M297.51 400.23l0.8 -0.53M297.87 405.72l0.8 0.01M298.14 404.62l-0.6 0.34M298.37 400.46l0.6 0.23M298.5 398.88l0.6 0.34M298.83 405.19l-0.6 -0.45M298.98 403.06l0.8 0.49M299.15 401.88l0.8 -0.27M299.32 402.87l0.8 -0.68M299.67 402.71l0.6 -0.18M300 401.91l0.8 -0.43M300.22 401.35l0.6 -0.32M300.57 404.06l0.6 0.24M300.67 403.04l0.8 -0.37M300.99 403.96l0.6 0.09M301.28 400.19l0.8 0.09M301.44 409.55l0.8 0.11M301.77 392.63l0.8 -0.11M301.89 403.49l-0.6 0.23M302.21 401.55l0.6 0.65M302.5 393.96l0.8 0.57M302.61 404.86l0.8 0.52M302.81 405.63l-0.6 0.29M303.06 400.15l0.6 0.22M303.31 407.97l0.8 -0.09M303.57 400.17l0.6 -0.45M303.85 403.77l-0.6 -0.34M304.16 405.77l0.8 0.17M304.38 403.82l0.6 -0.22M304.68 403.51l0.8 -0.05M304.86 404.8l0.8 0.06M305.06 403.77l-0.6 -0.37M305.35 402.01l0.8 0.7M305.62 400.79l0.8 -0.65M305.74 403.29l-0.6 -0.06M305.92 404.56l0.6 0.29M306.13 403.76l-0.6 0.39M306.33 404.35l-0.6 0.37M306.65 401.98l0.8 -0.18M306.97 401.76l0.8 0.45M307.23 406.59l0.8 0.56M307.48 402.39l-0.6 -0.32M307.59 408.6l0.8 -0.46M307.73 407.68l0.8 -0.67M307.85 405.87l0.6 -0.6M308.04 404.41l-0.6 -0.03M308.2 407.62l0.8 -0.61M308.31 405.4l0.8 0.41M308.6 403.32l-0.6 0.43M308.89 404.94l0.6 -0.16M309.18 406.13l0.8 -0.61M309.31 401.01l0.6 0.43M309.62 407.86l-0.6 -0.09M309.71 406.93l0.8 -0.55M309.98 404.98l-0.6 -0.24M310.08 407.56l0.8 -0.39M310.25 404.03l0.8 -0.41M310.43 402.24l0.6 -0.52M310.54 403.33l-0.6 0.64M310.84 408.38l0.6 0.03M311.02 404.57l0.6 0.02M311.15 407.15l0.8 -0.05M311.29 398.35l0.6 0.26M311.52 405.33l0.8 -0.55M311.63 403.71l-0.6 0.02M311.84 405.71l-0.6 -0.11M312.12 406.28l0.6 0.17M312.24 401.91l-0.6 0.59M312.37 408.44l0.8 -0.05M312.63 404.64l0.8 0.49M312.9 404.43l-0.6 -0.57M313.25 405.39l0.6 0.57M313.53 405.22l-0.6 0.15M313.73 403.93l0.6 0.37M313.94 407.19l-0.6 -0.54M314.1 407.19l-0.6 0.57M314.32 404.43l0.6 -0.15M314.46 404.82l-0.6 -0.43M314.82 408.18l0.8 -0.66M315.05 404.11l-0.6 -0.49M315.37 408.01l0.6 0.26M315.64 414.97l0.8 0.51M315.89 406.93l0.8 0.63M316.07 402.99l0.6 0.63M316.24 404.74l0.8 -0.68M316.52 407.54l-0.6 0.36M316.68 408.81l-0.6 -0.46M316.81 399.39l-0.6 0.22M317 408.4l0.6 0.24M317.11 408.65l0.8 0.49M317.44 410.15l-0.6 0.06M317.78 404.95l-0.6 0.67M318.13 402.57l0.8 0.32M318.32 408.94l0.8 -0.24M318.41 406.67l0.8 -0M318.52 407.47l-0.6 -0.14M318.83 405.3l-0.6 -0.04M319.17 409.83l0.6 0.33M319.35 399.65l-0.6 -0.6M319.56 393.98l-0.6 -0.38M319.71 409.89l0.8 0.22M319.96 405.06l-0.6 -0.09M320.25 409.19l-0.6 0.4M320.43 408.33l-0.6 0.15M320.54 410.47l0.8 -0.17M320.82 405.24l0.8 -0.24M321.19 409.55l-0.6 -0.68M321.51 406.2l0.6 0.7M321.76 408.94l-0.6 0.53M321.88 411.73l0.8 0.59M322.03 393.31l-0.6 0.64M322.26 406.63l-0.6 -0.4M322.39 408.04l-0.6 -0.34M322.56 406.96l-0.6 0.18M322.66 408.47l0.8 0.35M322.82 401.55l-0.6 0.45M322.97 411.48l-0.6 0.31M323.27 401.73l-0.6 -0.4M323.59 403.75l0.8 -0.08M323.7 406.16l-0.6 0.25M323.83 400.99l0.6 -0.13M324.12 399.89l0.8 -0.47M324.32 406.13l0.8 -0.08M324.45 408.05l0.8 0.01M324.59 400.24l0.6 -0.04M324.76 409.13l0.6 0.13M324.89 410.14l0.8 -0.14M325.08 408.33l0.6 0.29M325.4 401.79l-0.6 -0.69M325.72 407.55l0.6 0.01M326 409.88l0.8 0.08M326.28 405.37l-0.6 -0.5M326.47 407.28l-0.6 -0.39M326.78 403.02l-0.6 -0.14M326.92 415.62l0.8 0.16M327.23 403.49l0.6 -0.19M327.56 400.37l-0.6 0.61M327.68 405.01l-0.6 0.15M327.99 404.38l0.6 0.43" stroke="#111" stroke-width="0.75" fill="none"/>
<path d="M270.2 332.7 V380.4 H339.5" fill="none" stroke="#444" stroke-width="0.9"/>
<line x1="268.7" y1="380.4" x2="270.2" y2="380.4" stroke="#444" stroke-width="0.6"/>
<text x="267.9" y="381.6" font-size="3.4" fill="#777" text-anchor="end">0.0</text>
<line x1="268.7" y1="357.05" x2="270.2" y2="357.05" stroke="#444" stroke-width="0.6"/>
<text x="267.9" y="358.25" font-size="3.4" fill="#777" text-anchor="end">0.5</text>
<line x1="268.7" y1="333.7" x2="270.2" y2="333.7" stroke="#444" stroke-width="0.6"/>
<text x="267.9" y="334.9" font-size="3.4" fill="#777" text-anchor="end">1.0</text>
<line x1="270.2" y1="380.4" x2="270.2" y2="381.7" stroke="#444" stroke-width="0.6"/>
<text x="270.2" y="387" font-size="3.6" fill="#777" text-anchor="middle">0</text>
<line x1="283.6" y1="380.4" x2="283.6" y2="381.7" stroke="#444" stroke-width="0.6"/>
<text x="283.6" y="387" font-size="3.6" fill="#777" text-anchor="middle">50</text>
<line x1="297" y1="380.4" x2="297" y2="381.7" stroke="#444" stroke-width="0.6"/>
<text x="297" y="387" font-size="3.6" fill="#777" text-anchor="middle">100</text>
<line x1="310.4" y1="380.4" x2="310.4" y2="381.7" stroke="#444" stroke-width="0.6"/>
<text x="310.4" y="387" font-size="3.6" fill="#777" text-anchor="middle">150</text>
<line x1="323.8" y1="380.4" x2="323.8" y2="381.7" stroke="#444" stroke-width="0.6"/>
<text x="323.8" y="387" font-size="3.6" fill="#777" text-anchor="middle">200</text>
<line x1="337.2" y1="380.4" x2="337.2" y2="381.7" stroke="#444" stroke-width="0.6"/>
<text x="337.2" y="387" font-size="3.6" fill="#777" text-anchor="middle">250</text>
<text transform="translate(257.8 356.4) rotate(-90)" x="0" y="0" font-size="5.4" fill="#333" text-anchor="middle">P(r)</text>
<text x="304.7" y="395.7" font-size="5.6" fill="#333" text-anchor="middle">r(Å)</text>
<path d="M270.2 380.4 C270.83 377.44 272.7 368.73 273.95 362.65 C275.2 356.58 276.54 348.41 277.7 343.97 C278.87 339.54 279.8 337.75 280.92 336.03 C282.04 334.32 282.93 333.78 284.4 333.7 C285.88 333.62 288.11 334.63 289.76 335.57 C291.42 336.5 292.89 337.75 294.32 339.3 C295.75 340.86 296.91 342.42 298.34 344.91 C299.77 347.4 301.51 351.76 302.9 354.25 C304.28 356.74 305.22 358.06 306.65 359.85 C308.08 361.64 309.91 363.35 311.47 364.99 C313.04 366.62 314.38 368.1 316.03 369.66 C317.68 371.22 319.6 372.85 321.39 374.33 C323.17 375.81 324.83 377.52 326.75 378.53 C328.67 379.54 331.88 380.09 332.91 380.4" fill="none" stroke="#40619c" stroke-width="1.1"/>
<path d="M270.2 380.4 C270.83 376.9 272.61 366.31 273.95 359.38 C275.29 352.46 276.68 343.12 278.24 338.84 C279.8 334.56 281.59 334.09 283.33 333.7 C285.07 333.31 287.04 335.18 288.69 336.5 C290.34 337.83 291.68 339.23 293.25 341.64 C294.81 344.05 296.51 348.1 298.07 350.98 C299.64 353.86 301.11 356.58 302.63 358.92 C304.15 361.25 305.64 363.2 307.18 364.99 C308.72 366.78 310.06 367.79 311.87 369.66 C313.69 371.53 315.88 374.41 318.06 376.2 C320.25 377.99 323.85 379.7 325.01 380.4" fill="none" stroke="#5aa03c" stroke-width="1.1"/>
<path d="M270.2 380.4 C270.51 378.69 271.43 373.71 272.08 370.13 C272.72 366.55 273.43 362.81 274.06 358.92 C274.68 355.03 275.31 350.2 275.83 346.78 C276.35 343.35 276.72 340.39 277.17 338.37 C277.61 336.35 278 335.41 278.51 334.63 C279.02 333.86 279.69 333.23 280.22 333.7 C280.76 334.17 281.16 336.27 281.72 337.44 C282.29 338.6 282.97 339.85 283.6 340.7 C284.23 341.56 284.9 342.11 285.48 342.57 C286.06 343.04 286.41 342.96 287.08 343.51 C287.75 344.05 288.69 344.75 289.5 345.84 C290.3 346.93 291.15 348.18 291.91 350.05 C292.67 351.91 293.16 354.4 294.05 357.05 C294.95 359.7 296.11 363.28 297.27 365.92 C298.43 368.57 299.72 370.98 301.02 372.93 C302.32 374.87 303.61 376.35 305.04 377.6 C306.47 378.84 308.84 379.93 309.6 380.4" fill="none" stroke="#b8394f" stroke-width="1.1"/>
<path d="M378 335.1 V415.3 H509.7" fill="none" stroke="#222" stroke-width="1.1"/>
<line x1="374.8" y1="338.3" x2="378" y2="338.3" stroke="#222" stroke-width="0.9"/>
<text x="364.46" y="340.65" font-size="6.6" fill="#2a2a2a" textLength="7.34" lengthAdjust="spacingAndGlyphs" stroke="#2a2a2a" stroke-width="0.1">3.0</text>
<line x1="374.8" y1="353.7" x2="378" y2="353.7" stroke="#222" stroke-width="0.9"/>
<text x="364.46" y="356.05" font-size="6.6" fill="#2a2a2a" textLength="7.34" lengthAdjust="spacingAndGlyphs" stroke="#2a2a2a" stroke-width="0.1">2.5</text>
<line x1="374.8" y1="369.1" x2="378" y2="369.1" stroke="#222" stroke-width="0.9"/>
<text x="364.46" y="371.45" font-size="6.6" fill="#2a2a2a" textLength="7.34" lengthAdjust="spacingAndGlyphs" stroke="#2a2a2a" stroke-width="0.1">2.0</text>
<line x1="374.8" y1="384.5" x2="378" y2="384.5" stroke="#222" stroke-width="0.9"/>
<text x="364.46" y="386.85" font-size="6.6" fill="#2a2a2a" textLength="7.34" lengthAdjust="spacingAndGlyphs" stroke="#2a2a2a" stroke-width="0.1">1.5</text>
<line x1="374.8" y1="399.9" x2="378" y2="399.9" stroke="#222" stroke-width="0.9"/>
<text x="364.46" y="402.25" font-size="6.6" fill="#2a2a2a" textLength="7.34" lengthAdjust="spacingAndGlyphs" stroke="#2a2a2a" stroke-width="0.1">1.0</text>
<line x1="374.8" y1="415.3" x2="378" y2="415.3" stroke="#222" stroke-width="0.9"/>
<text x="364.46" y="417.65" font-size="6.6" fill="#2a2a2a" textLength="7.34" lengthAdjust="spacingAndGlyphs" stroke="#2a2a2a" stroke-width="0.1">0.5</text>
<line x1="378" y1="415.3" x2="378" y2="417.9" stroke="#222" stroke-width="0.9"/>
<text x="372.62" y="426.9" font-size="6.5" fill="#2a2a2a" textLength="10.75" lengthAdjust="spacingAndGlyphs" stroke="#2a2a2a" stroke-width="0.1">0.00</text>
<line x1="396.42" y1="415.3" x2="396.42" y2="417.9" stroke="#222" stroke-width="0.9"/>
<text x="391.04" y="426.9" font-size="6.5" fill="#2a2a2a" textLength="10.75" lengthAdjust="spacingAndGlyphs" stroke="#2a2a2a" stroke-width="0.1">0.05</text>
<line x1="414.83" y1="415.3" x2="414.83" y2="417.9" stroke="#222" stroke-width="0.9"/>
<text x="409.45" y="426.9" font-size="6.5" fill="#2a2a2a" textLength="10.75" lengthAdjust="spacingAndGlyphs" stroke="#2a2a2a" stroke-width="0.1">0.10</text>
<line x1="433.25" y1="415.3" x2="433.25" y2="417.9" stroke="#222" stroke-width="0.9"/>
<text x="427.87" y="426.9" font-size="6.5" fill="#2a2a2a" textLength="10.75" lengthAdjust="spacingAndGlyphs" stroke="#2a2a2a" stroke-width="0.1">0.15</text>
<line x1="451.66" y1="415.3" x2="451.66" y2="417.9" stroke="#222" stroke-width="0.9"/>
<text x="446.28" y="426.9" font-size="6.5" fill="#2a2a2a" textLength="10.75" lengthAdjust="spacingAndGlyphs" stroke="#2a2a2a" stroke-width="0.1">0.20</text>
<line x1="470.07" y1="415.3" x2="470.07" y2="417.9" stroke="#222" stroke-width="0.9"/>
<text x="464.7" y="426.9" font-size="6.5" fill="#2a2a2a" textLength="10.75" lengthAdjust="spacingAndGlyphs" stroke="#2a2a2a" stroke-width="0.1">0.25</text>
<line x1="488.49" y1="415.3" x2="488.49" y2="417.9" stroke="#222" stroke-width="0.9"/>
<text x="483.11" y="426.9" font-size="6.5" fill="#2a2a2a" textLength="10.75" lengthAdjust="spacingAndGlyphs" stroke="#2a2a2a" stroke-width="0.1">0.30</text>
<line x1="506.91" y1="415.3" x2="506.91" y2="417.9" stroke="#222" stroke-width="0.9"/>
<text x="501.53" y="426.9" font-size="6.5" fill="#2a2a2a" textLength="10.75" lengthAdjust="spacingAndGlyphs" stroke="#2a2a2a" stroke-width="0.1">0.35</text>
<text transform="translate(357.8 375.05) rotate(-90)" x="-11.05" y="0" font-size="9" fill="#1a1a1a" textLength="22.11" lengthAdjust="spacingAndGlyphs" stroke="#1a1a1a" stroke-width="0.1">Log (I)</text>
<text x="430.5" y="438.9" font-size="8.1" fill="#1a1a1a" textLength="18.63" lengthAdjust="spacingAndGlyphs" stroke="#1a1a1a" stroke-width="0.1">s (nm</text>
<text x="449.7" y="436.3" font-size="4.8" fill="#1a1a1a" textLength="3.84" lengthAdjust="spacingAndGlyphs" stroke="#1a1a1a" stroke-width="0.1">-1</text>
<text x="454.9" y="438.9" font-size="8.1" fill="#1a1a1a" textLength="2.48" lengthAdjust="spacingAndGlyphs" stroke="#1a1a1a" stroke-width="0.1">)</text>
<text x="383.9" y="410" font-size="5" fill="#444" textLength="9.8" lengthAdjust="spacingAndGlyphs" stroke="#444" stroke-width="0.1">MT5</text>
<path d="M380.7 342.71 L381.3 343.5 L381.9 344.3 L382.5 345.1 L383.1 345.9 L383.7 346.71 L384.3 347.52 L384.9 348.33 L385.5 349.14 L386.1 349.96 L386.7 350.78 L387.3 351.59 L387.9 352.41 L388.5 353.23 L389.1 354.05 L389.7 354.86 L390.3 355.68 L390.9 356.49 L391.5 357.3 L392.1 358.1 L392.7 358.91 L393.3 359.7 L393.9 360.5 L394.5 361.29 L395.1 362.07 L395.7 362.85 L396.3 363.62 L396.9 364.39 L397.5 365.14 L398.1 365.89 L398.7 366.64 L399.3 367.37 L399.9 368.09 L400.5 368.81 L401.1 369.51 L401.7 370.2 L402.3 370.89 L402.9 371.56 L403.5 372.22 L404.1 372.86 L404.7 373.5 L405.3 374.12 L405.9 374.74 L406.5 375.34 L407.1 375.93 L407.7 376.51 L408.3 377.07 L408.9 377.63 L409.5 378.17" fill="none" stroke="#111" stroke-width="1.15" stroke-linejoin="round"/>
<path d="M409.5 378.17 L410.2 379.23 L410.9 379.34 L411.6 379.93 L412.3 380.97 L413 380.82 L413.7 380.23 L414.4 382.28 L415.1 382.58 L415.8 383.44 L416.5 384.02 L417.2 385.25 L417.9 385.07 L418.6 385.61 L419.3 385.75 L420 386.74 L420.7 387.73 L421.4 388.1 L422.1 387.54 L422.8 387.49 L423.5 388.56 L424.2 389.07 L424.9 389.89 L425.6 388.9 L426.3 390.19 L427 390.78 L427.7 390.82 L428.4 390.54 L429.1 390.53 L429.8 390.17 L430.5 390.41 L431.2 390.61 L431.9 391.81 L432.6 392.22 L433.3 392.02 L434 392.61 L434.7 392.64 L435.4 392.9 L436.1 392.39 L436.8 394.07 L437.5 393.65 L438.2 394.12 L438.9 393.95 L439.6 394.01 L440.3 392.74 L441 395.36 L441.7 394.22 L442.4 394.58 L443.1 394.75 L443.8 393.92 L444.5 393.86 L445.2 395.11 L445.9 394.59 L446.6 394.88 L447.3 394.19 L448 393.58 L448.7 396 L449.4 396.69 L450.1 395.66 L450.8 394.4 L451.5 395.09 L452.2 394.96 L452.9 394.54 L453.6 394.69 L454.3 396.23 L455 395.14 L455.7 396.36 L456.4 396.29 L457.1 396.35 L457.8 396.7 L458.5 395.96 L459.2 395.99 L459.9 396.56 L460.6 397.13 L461.3 398.71 L462 397.88 L462.7 396.59 L463.4 397.6 L464.1 397.65 L464.8 397.51 L465.5 397.5 L466.2 397.44 L466.9 399.57 L467.6 397.88 L468.3 400.2 L469 398.13 L469.7 398 L470.4 400.07 L471.1 399.46 L471.8 400.06 L472.5 398.96 L473.2 398.8 L473.9 398.43 L474.6 399.86 L475.3 400.34 L476 399.84 L476.7 400.47 L477.4 399.73 L478.1 400.81 L478.8 400.23 L479.5 399.68 L480.2 399.31 L480.9 401.69 L481.6 400.56 L482.3 399.96 L483 401.82 L483.7 399.09 L484.4 400.08 L485.1 400.09 L485.8 401.81 L486.5 398.5 L487.2 400.09 L487.9 402.58 L488.6 398.51 L489.3 398.92 L490 400.8 L490.7 401.66 L491.4 400.92 L492.1 401.45 L492.8 401.01 L493.5 400.12 L494.2 401.49 L494.9 400.24 L495.6 400.07 L496.3 399.59" fill="none" stroke="#151515" stroke-width="0.8" stroke-linejoin="round"/>
<path d="M409.83 378.18l-0.6 0.52M410.19 378.72l-0.6 -0.18M410.36 380.57l0.6 -0.4M410.81 377.76l-0.6 0.7M411.16 381.29l-0.6 0.36M411.53 377.9l0.6 0.64M411.7 381.54l-0.6 -0.29M412.13 380.24l0.6 0.19M412.46 378.28l-0.6 -0.65M412.84 382.32l0.8 -0.4M413.27 379.58l0.8 0.32M413.58 381.82l0.8 0.2M414.12 382.54l0.8 -0.47M414.7 382.64l0.8 -0.39M415.28 382.1l0.8 0.18M415.67 382.72l0.6 0.43M416.14 383.68l0.8 0.21M416.52 384.06l-0.6 0.26M416.93 384.85l0.8 0.58M417.5 385.73l0.8 0.08M418 384.21l0.8 -0.22M418.2 387.13l0.6 0.12M418.8 387.2l-0.6 -0.45M419.31 382.93l0.6 0.18M419.72 386.61l-0.6 0.27M420.1 387.03l-0.6 0.24M420.42 388.99l0.6 -0.29M420.9 385.58l0.8 0.07M421.15 386.13l0.8 0.35M421.41 386.77l0.8 0.25M421.9 388.45l0.8 0.66M422.09 388.67l-0.6 -0.12M422.66 386.51l0.8 -0.68M422.91 387.99l0.8 -0.33M423.47 387.56l0.6 0.24M423.8 389.74l-0.6 0.67M424 388.57l0.6 0.02M424.36 388.75l0.8 0.69M424.8 388.74l0.8 -0.18M425.12 389.85l-0.6 -0.5M425.35 388.42l-0.6 0.42M425.56 388.58l0.6 -0.12M425.96 388.72l0.8 -0.37M426.18 391.9l0.6 -0.36M426.38 389.55l0.6 -0.1M426.75 398.9l0.8 -0.07M427.14 389.22l-0.6 0.6M427.38 390.21l0.6 0.21M427.73 388.05l-0.6 0.39M428.09 390.82l0.8 0.29M428.44 391.5l0.8 -0M429.06 390.49l0.8 -0.3M429.23 385.01l-0.6 0.34M429.71 391.76l0.6 -0.34M430.08 392.6l0.6 -0.7M430.33 391.27l-0.6 -0.3M430.65 391.72l-0.6 0.24M430.91 390.81l0.8 -0.58M431.09 390.15l0.6 0.59M431.29 390.62l-0.6 0.59M431.7 391.65l0.8 0.61M432.23 392.68l0.8 0.22M432.4 392.95l-0.6 -0.64M432.88 392.83l0.8 -0.39M433.48 392.9l0.8 0.27M433.8 391.67l0.6 -0.45M434.01 395.83l0.6 0.51M434.46 393.88l0.8 0.43M434.66 391.04l0.8 -0.64M434.97 393.74l-0.6 0.4M435.53 392.73l-0.6 0.4M436.07 392.57l-0.6 -0.23M436.39 393.81l-0.6 0.69M436.83 393.29l0.6 0.23M437.07 393.36l0.6 -0.53M437.52 392.19l-0.6 0.6M437.91 394.42l0.6 -0.29M438.44 393.34l-0.6 -0.4M438.81 394.72l0.6 -0.06M439 392.16l0.6 0.22M439.47 391.61l-0.6 -0.68M439.87 392.54l-0.6 0.03M440.34 394.63l0.8 -0.22M440.71 393.85l0.8 -0.18M440.99 393.1l-0.6 -0.52M441.3 395.12l0.8 -0.26M441.9 393.84l0.8 -0.21M442.08 394.18l0.8 0.55M442.43 394.6l0.6 0.01M442.64 389.75l0.6 0.68M442.97 394.02l0.8 0.33M443.18 394.61l-0.6 -0.44M443.34 394.64l-0.6 -0.38M443.54 395.01l0.6 0.12M443.96 393.63l0.8 0.1M444.35 395.85l0.8 -0.4M444.65 395.41l0.6 -0.68M444.91 392.96l0.6 -0.36M445.34 395.9l0.8 0.03M445.74 392.54l0.6 0.68M445.92 395.2l0.8 0.14M446.16 391.31l0.8 0.42M446.36 395.51l-0.6 -0.08M446.97 393.96l0.8 -0.61M447.54 395.23l0.8 -0.09M447.93 394.54l-0.6 -0.46M448.32 393.44l0.6 -0.29M448.72 393.02l-0.6 0.16M449.14 397.06l0.8 0.17M449.62 392.49l-0.6 -0.24M449.93 398.49l0.6 -0.47M450.09 395.38l-0.6 -0.42M450.49 395.54l0.6 -0.37M451.01 396.2l-0.6 -0.62M451.34 394.29l0.6 0.26M451.8 394.64l0.8 -0.61M452.04 395.82l-0.6 0M452.52 394.09l0.6 0.07M452.73 393.22l-0.6 -0.54M453.01 397.03l-0.6 0.47M453.47 399.75l0.6 0.09M453.98 392.17l0.8 0.21M454.18 397.27l0.8 0.13M454.65 397.73l0.8 -0.45M455.19 398.38l0.8 0.17M455.45 396.99l0.8 0.51M455.69 394.76l0.6 0.14M455.91 396.57l-0.6 -0.53M456.14 396.16l0.6 -0.28M456.63 397.53l-0.6 0.41M456.91 400.27l0.8 0.33M457.17 398.27l-0.6 0.14M457.73 395.73l-0.6 -0.05M458.25 398.01l0.6 -0.32M458.84 400.54l0.8 0.27M459.18 397.69l0.6 -0.05M459.5 400.79l-0.6 0.35M459.99 396.37l0.6 -0.01M460.57 398.01l0.8 0.03M460.79 395.34l0.8 0.22M461.06 397.59l0.8 -0.33M461.38 396.89l0.8 -0.26M461.9 399.53l0.6 -0.34M462.44 395.71l0.8 0.28M462.67 396.22l0.8 0.4M463.14 395.42l0.6 -0.44M463.34 398.63l-0.6 0.56M463.64 396.55l0.8 -0.44M464.06 398.36l0.6 0.12M464.3 397.14l0.8 -0.08M464.87 398.05l0.8 0.05M465.12 397.12l0.8 0.62M465.36 400.57l0.8 -0.03M465.54 397.78l-0.6 0.44M466.06 395.99l-0.6 0.52M466.24 399.34l0.8 -0.33M466.48 399.89l0.6 -0.39M466.74 395.97l0.8 -0.54M467.24 399.88l0.6 0.39M467.86 401.3l0.6 0.21M468.26 399.27l0.6 -0.6M468.85 397.06l-0.6 0.46M469.22 399.47l0.6 0.57M469.75 400.03l-0.6 0.56M470.37 399.37l0.8 -0.59M470.69 399.34l-0.6 -0.02M470.92 399.07l0.8 0.52M471.27 400.04l0.6 0.22M471.73 398.28l0.6 0.31M472.12 399.81l0.8 -0.3M472.64 399.62l-0.6 0.26M472.87 395.87l0.6 -0.66M473.36 395.05l0.8 0.16M473.81 400.27l0.6 -0.28M474.41 399.14l0.6 0.6M474.74 396.98l0.6 -0.15M475.24 400.14l0.8 0.12M475.69 400.77l0.6 0.37M475.98 399.44l-0.6 -0.46M476.2 400.41l0.8 -0.12M476.37 399.18l0.6 0.58M476.72 402.55l0.6 -0.28M477.21 404.86l0.6 -0.19M477.73 402.22l-0.6 -0.59M477.93 400.51l-0.6 -0.6M478.21 397.97l0.6 0.48M478.39 401.07l0.8 0.06M478.85 401.08l0.6 -0.61M479.32 400.63l-0.6 0.51M479.79 400.03l0.6 0.12M480.08 400.22l-0.6 0.01M480.28 399.47l0.6 0.01M480.66 401.92l0.6 -0.35M481.24 398.46l0.8 0.69M481.83 399.15l-0.6 0.42M482.04 402.88l0.8 -0.59M482.6 403.02l0.6 0.27M483.18 401.87l0.6 0.22M483.38 403.04l-0.6 0.04M483.73 402.46l-0.6 -0.11M484.05 400.2l-0.6 0.67M484.34 399.19l0.6 0.63M484.94 401.83l-0.6 -0.05M485.48 400.6l0.8 0.47M486.04 397.77l0.6 -0.03M486.34 401.86l-0.6 0.24M486.57 397.3l-0.6 0.04M486.95 399.72l-0.6 -0.39M487.49 400.6l0.6 -0.28M487.77 402.79l0.6 -0.05M488.13 400.92l0.8 -0.57M488.72 400.9l0.6 0.29M489.14 403.31l0.8 -0.07M489.39 399.64l0.8 0.37M489.82 400.5l-0.6 0.43M490.29 401.12l-0.6 -0.05M490.6 399.64l0.8 0.29M491.02 398.83l0.8 0.44M491.44 398.73l-0.6 -0.18M491.64 399.39l-0.6 -0.34M491.92 396.24l-0.6 -0.08M492.29 400.17l-0.6 -0.45M492.49 401.4l-0.6 0.55M492.71 398.75l0.6 0.7M493.07 400.56l-0.6 0.47M493.59 398.69l0.8 -0.68M493.97 400.63l0.8 -0.12M494.52 399.06l0.6 0.18M494.86 398.38l-0.6 -0.69M495.03 398.97l0.8 -0.66M495.58 400.75l0.6 0.28M496.18 397.81l0.8 0.64M496.62 398.63l0.8 -0" stroke="#111" stroke-width="0.75" fill="none"/>
<path d="M441.9 332.7 V380.4 H511.2" fill="none" stroke="#444" stroke-width="0.9"/>
<line x1="440.4" y1="380.4" x2="441.9" y2="380.4" stroke="#444" stroke-width="0.6"/>
<text x="439.6" y="381.6" font-size="3.4" fill="#777" text-anchor="end">0.0</text>
<line x1="440.4" y1="357.05" x2="441.9" y2="357.05" stroke="#444" stroke-width="0.6"/>
<text x="439.6" y="358.25" font-size="3.4" fill="#777" text-anchor="end">0.5</text>
<line x1="440.4" y1="333.7" x2="441.9" y2="333.7" stroke="#444" stroke-width="0.6"/>
<text x="439.6" y="334.9" font-size="3.4" fill="#777" text-anchor="end">1.0</text>
<line x1="441.9" y1="380.4" x2="441.9" y2="381.7" stroke="#444" stroke-width="0.6"/>
<text x="441.9" y="387" font-size="3.6" fill="#777" text-anchor="middle">0</text>
<line x1="455.3" y1="380.4" x2="455.3" y2="381.7" stroke="#444" stroke-width="0.6"/>
<text x="455.3" y="387" font-size="3.6" fill="#777" text-anchor="middle">50</text>
<line x1="468.7" y1="380.4" x2="468.7" y2="381.7" stroke="#444" stroke-width="0.6"/>
<text x="468.7" y="387" font-size="3.6" fill="#777" text-anchor="middle">100</text>
<line x1="482.1" y1="380.4" x2="482.1" y2="381.7" stroke="#444" stroke-width="0.6"/>
<text x="482.1" y="387" font-size="3.6" fill="#777" text-anchor="middle">150</text>
<line x1="495.5" y1="380.4" x2="495.5" y2="381.7" stroke="#444" stroke-width="0.6"/>
<text x="495.5" y="387" font-size="3.6" fill="#777" text-anchor="middle">200</text>
<line x1="508.9" y1="380.4" x2="508.9" y2="381.7" stroke="#444" stroke-width="0.6"/>
<text x="508.9" y="387" font-size="3.6" fill="#777" text-anchor="middle">250</text>
<text transform="translate(429.5 356.4) rotate(-90)" x="0" y="0" font-size="5.4" fill="#333" text-anchor="middle">P(r)</text>
<text x="476.4" y="395.7" font-size="5.6" fill="#333" text-anchor="middle">r(Å)</text>
<path d="M441.9 380.4 C442.53 377.44 444.4 368.73 445.65 362.65 C446.9 356.58 448.24 348.41 449.4 343.97 C450.57 339.54 451.5 337.75 452.62 336.03 C453.74 334.32 454.63 333.78 456.1 333.7 C457.58 333.62 459.81 334.63 461.46 335.57 C463.12 336.5 464.59 337.75 466.02 339.3 C467.45 340.86 468.61 342.42 470.04 344.91 C471.47 347.4 473.21 351.76 474.6 354.25 C475.98 356.74 476.92 358.06 478.35 359.85 C479.78 361.64 481.61 363.35 483.17 364.99 C484.74 366.62 486.08 368.1 487.73 369.66 C489.38 371.22 491.3 372.85 493.09 374.33 C494.87 375.81 496.53 377.52 498.45 378.53 C500.37 379.54 503.58 380.09 504.61 380.4" fill="none" stroke="#40619c" stroke-width="1.1"/>
<path d="M441.9 380.4 C442.53 376.9 444.31 366.31 445.65 359.38 C446.99 352.46 448.38 343.12 449.94 338.84 C451.5 334.56 453.29 334.09 455.03 333.7 C456.77 333.31 458.74 335.18 460.39 336.5 C462.04 337.83 463.38 339.23 464.95 341.64 C466.51 344.05 468.21 348.1 469.77 350.98 C471.34 353.86 472.81 356.58 474.33 358.92 C475.85 361.25 477.34 363.2 478.88 364.99 C480.42 366.78 481.76 367.79 483.57 369.66 C485.39 371.53 487.58 374.41 489.76 376.2 C491.95 377.99 495.55 379.7 496.71 380.4" fill="none" stroke="#5aa03c" stroke-width="1.1"/>
<path d="M441.9 380.4 C442.21 378.69 443.13 373.71 443.78 370.13 C444.42 366.55 445.13 362.81 445.76 358.92 C446.38 355.03 447.01 350.2 447.53 346.78 C448.05 343.35 448.42 340.39 448.87 338.37 C449.31 336.35 449.7 335.41 450.21 334.63 C450.72 333.86 451.39 333.23 451.92 333.7 C452.46 334.17 452.86 336.27 453.42 337.44 C453.99 338.6 454.67 339.85 455.3 340.7 C455.93 341.56 456.6 342.11 457.18 342.57 C457.76 343.04 458.11 342.96 458.78 343.51 C459.45 344.05 460.39 344.75 461.2 345.84 C462 346.93 462.85 348.18 463.61 350.05 C464.37 351.91 464.86 354.4 465.75 357.05 C466.65 359.7 467.81 363.28 468.97 365.92 C470.13 368.57 471.42 370.98 472.72 372.93 C474.02 374.87 475.31 376.35 476.74 377.6 C478.17 378.84 480.54 379.93 481.3 380.4" fill="none" stroke="#b8394f" stroke-width="1.1"/>
<path d="M34.4 450.1 V530.3 H166.1" fill="none" stroke="#222" stroke-width="1.1"/>
<line x1="31.2" y1="453.3" x2="34.4" y2="453.3" stroke="#222" stroke-width="0.9"/>
<text x="20.86" y="455.65" font-size="6.6" fill="#2a2a2a" textLength="7.34" lengthAdjust="spacingAndGlyphs" stroke="#2a2a2a" stroke-width="0.1">3.0</text>
<line x1="31.2" y1="468.7" x2="34.4" y2="468.7" stroke="#222" stroke-width="0.9"/>
<text x="20.86" y="471.05" font-size="6.6" fill="#2a2a2a" textLength="7.34" lengthAdjust="spacingAndGlyphs" stroke="#2a2a2a" stroke-width="0.1">2.5</text>
<line x1="31.2" y1="484.1" x2="34.4" y2="484.1" stroke="#222" stroke-width="0.9"/>
<text x="20.86" y="486.45" font-size="6.6" fill="#2a2a2a" textLength="7.34" lengthAdjust="spacingAndGlyphs" stroke="#2a2a2a" stroke-width="0.1">2.0</text>
<line x1="31.2" y1="499.5" x2="34.4" y2="499.5" stroke="#222" stroke-width="0.9"/>
<text x="20.86" y="501.85" font-size="6.6" fill="#2a2a2a" textLength="7.34" lengthAdjust="spacingAndGlyphs" stroke="#2a2a2a" stroke-width="0.1">1.5</text>
<line x1="31.2" y1="514.9" x2="34.4" y2="514.9" stroke="#222" stroke-width="0.9"/>
<text x="20.86" y="517.25" font-size="6.6" fill="#2a2a2a" textLength="7.34" lengthAdjust="spacingAndGlyphs" stroke="#2a2a2a" stroke-width="0.1">1.0</text>
<line x1="31.2" y1="530.3" x2="34.4" y2="530.3" stroke="#222" stroke-width="0.9"/>
<text x="20.86" y="532.65" font-size="6.6" fill="#2a2a2a" textLength="7.34" lengthAdjust="spacingAndGlyphs" stroke="#2a2a2a" stroke-width="0.1">0.5</text>
<line x1="34.4" y1="530.3" x2="34.4" y2="532.9" stroke="#222" stroke-width="0.9"/>
<text x="29.02" y="541.9" font-size="6.5" fill="#2a2a2a" textLength="10.75" lengthAdjust="spacingAndGlyphs" stroke="#2a2a2a" stroke-width="0.1">0.00</text>
<line x1="52.81" y1="530.3" x2="52.81" y2="532.9" stroke="#222" stroke-width="0.9"/>
<text x="47.44" y="541.9" font-size="6.5" fill="#2a2a2a" textLength="10.75" lengthAdjust="spacingAndGlyphs" stroke="#2a2a2a" stroke-width="0.1">0.05</text>
<line x1="71.23" y1="530.3" x2="71.23" y2="532.9" stroke="#222" stroke-width="0.9"/>
<text x="65.85" y="541.9" font-size="6.5" fill="#2a2a2a" textLength="10.75" lengthAdjust="spacingAndGlyphs" stroke="#2a2a2a" stroke-width="0.1">0.10</text>
<line x1="89.65" y1="530.3" x2="89.65" y2="532.9" stroke="#222" stroke-width="0.9"/>
<text x="84.27" y="541.9" font-size="6.5" fill="#2a2a2a" textLength="10.75" lengthAdjust="spacingAndGlyphs" stroke="#2a2a2a" stroke-width="0.1">0.15</text>
<line x1="108.06" y1="530.3" x2="108.06" y2="532.9" stroke="#222" stroke-width="0.9"/>
<text x="102.68" y="541.9" font-size="6.5" fill="#2a2a2a" textLength="10.75" lengthAdjust="spacingAndGlyphs" stroke="#2a2a2a" stroke-width="0.1">0.20</text>
<line x1="126.47" y1="530.3" x2="126.47" y2="532.9" stroke="#222" stroke-width="0.9"/>
<text x="121.1" y="541.9" font-size="6.5" fill="#2a2a2a" textLength="10.75" lengthAdjust="spacingAndGlyphs" stroke="#2a2a2a" stroke-width="0.1">0.25</text>
<line x1="144.89" y1="530.3" x2="144.89" y2="532.9" stroke="#222" stroke-width="0.9"/>
<text x="139.51" y="541.9" font-size="6.5" fill="#2a2a2a" textLength="10.75" lengthAdjust="spacingAndGlyphs" stroke="#2a2a2a" stroke-width="0.1">0.30</text>
<line x1="163.31" y1="530.3" x2="163.31" y2="532.9" stroke="#222" stroke-width="0.9"/>
<text x="157.93" y="541.9" font-size="6.5" fill="#2a2a2a" textLength="10.75" lengthAdjust="spacingAndGlyphs" stroke="#2a2a2a" stroke-width="0.1">0.35</text>
<text transform="translate(14.2 490.05) rotate(-90)" x="-11.05" y="0" font-size="9" fill="#1a1a1a" textLength="22.11" lengthAdjust="spacingAndGlyphs" stroke="#1a1a1a" stroke-width="0.1">Log (I)</text>
<text x="86.9" y="553.9" font-size="8.1" fill="#1a1a1a" textLength="18.63" lengthAdjust="spacingAndGlyphs" stroke="#1a1a1a" stroke-width="0.1">s (nm</text>
<text x="106.1" y="551.3" font-size="4.8" fill="#1a1a1a" textLength="3.84" lengthAdjust="spacingAndGlyphs" stroke="#1a1a1a" stroke-width="0.1">-1</text>
<text x="111.3" y="553.9" font-size="8.1" fill="#1a1a1a" textLength="2.48" lengthAdjust="spacingAndGlyphs" stroke="#1a1a1a" stroke-width="0.1">)</text>
<text x="40.3" y="525" font-size="4.8" fill="#444" font-style="italic" textLength="12.27" lengthAdjust="spacingAndGlyphs" stroke="#444" stroke-width="0.1">MT6q</text>
<path d="M39.1 451.48 L39.7 452.45 L40.3 453.43 L40.9 454.4 L41.5 455.38 L42.1 456.36 L42.7 457.34 L43.3 458.31 L43.9 459.29 L44.5 460.26 L45.1 461.23 L45.7 462.2 L46.3 463.17 L46.9 464.13 L47.5 465.09 L48.1 466.05 L48.7 467 L49.3 467.95 L49.9 468.9 L50.5 469.83 L51.1 470.77 L51.7 471.69 L52.3 472.61 L52.9 473.52 L53.5 474.43 L54.1 475.33 L54.7 476.22 L55.3 477.1 L55.9 477.97 L56.5 478.84 L57.1 479.69 L57.7 480.54 L58.3 481.37 L58.9 482.19 L59.5 483.01 L60.1 483.81 L60.7 484.6 L61.3 485.37 L61.9 486.14 L62.5 486.89 L63.1 487.63 L63.7 488.36 L64.3 489.07 L64.9 489.78 L65.5 490.47 L66.1 491.15 L66.7 491.82 L67.3 492.48 L67.9 493.12 L68.5 493.76 L69.1 494.38 L69.7 494.99 L70.3 495.6 L70.9 496.19 L71.5 496.76 L72.1 497.33 L72.7 497.89 L73.3 498.43 L73.9 498.97 L74.5 499.49" fill="none" stroke="#111" stroke-width="1.15" stroke-linejoin="round"/>
<path d="M74.5 499.49 L75.2 499.86 L75.9 500.64 L76.6 501.86 L77.3 502.24 L78 501.79 L78.7 502.88 L79.4 503.27 L80.1 503.89 L80.8 504.31 L81.5 504.25 L82.2 505.42 L82.9 504.72 L83.6 505.95 L84.3 507.32 L85 506.37 L85.7 507.78 L86.4 507.79 L87.1 508.15 L87.8 507.35 L88.5 509.09 L89.2 508.85 L89.9 510.09 L90.6 510.53 L91.3 510.68 L92 510.33 L92.7 510.65 L93.4 510.88 L94.1 511.71 L94.8 511.83 L95.5 511.25 L96.2 512.85 L96.9 511.54 L97.6 512.12 L98.3 512.12 L99 513.53 L99.7 512.46 L100.4 512.94 L101.1 513.25 L101.8 513.54 L102.5 513.21 L103.2 514.07 L103.9 513.95 L104.6 513.98 L105.3 515.3 L106 515.11 L106.7 515.46 L107.4 514.42 L108.1 513.8 L108.8 515.06 L109.5 516.61 L110.2 515.52 L110.9 515.83 L111.6 515.34 L112.3 514.29 L113 515.68 L113.7 514.72 L114.4 517.13 L115.1 515.9 L115.8 515.88 L116.5 516.03 L117.2 516.86 L117.9 515.28 L118.6 517.28 L119.3 517.24 L120 518.26 L120.7 515.86 L121.4 517.63 L122.1 517.97 L122.8 518.51 L123.5 516.02 L124.2 517.58 L124.9 518.62 L125.6 516.75 L126.3 518.02 L127 518.8 L127.7 518.74 L128.4 518.82 L129.1 518.96 L129.8 519.79 L130.5 518.36 L131.2 519.56 L131.9 519.07 L132.6 520.66 L133.3 520.49 L134 521.25 L134.7 520.11 L135.4 522.31 L136.1 521.3 L136.8 521.6 L137.5 520.5 L138.2 521.38 L138.9 520.57 L139.6 521.88 L140.3 521.42 L141 522.26 L141.7 521.69 L142.4 521.45 L143.1 523.87 L143.8 523.99 L144.5 522.9 L145.2 522.21 L145.9 524.15 L146.6 522.69 L147.3 523.13 L148 520.68 L148.7 521.96 L149.4 524.48 L150.1 521.66 L150.8 522.23 L151.5 522.09 L152.2 521.26 L152.9 520.43 L153.6 521.88 L154.3 521.86" fill="none" stroke="#151515" stroke-width="0.85" stroke-linejoin="round"/>
<path d="M74.97 499.49l-0.6 0.5M75.7 500.2l-0.6 -0.67M76.43 501.08l0.6 -0.56M76.8 501.49l0.6 0.43M77.32 502.52l0.8 -0.47M77.56 502.47l0.8 0.57M78 502.09l0.6 0.18M78.27 502.63l0.8 -0.36M78.95 503.28l-0.6 0.49M79.67 502.56l0.6 -0.3M80.32 503.72l-0.6 0.41M80.7 504.93l0.8 0.62M81.17 505.06l0.6 -0.15M81.51 504.35l-0.6 -0.48M81.97 504.31l0.6 -0.17M82.24 505.44l-0.6 -0.58M82.68 505.23l0.6 -0.08M83.16 506.17l-0.6 -0.03M83.94 507.53l0.8 -0.12M84.73 505.34l-0.6 0.45M85.16 507.46l0.6 0.69M85.79 508.96l-0.6 0.32M86.05 507.78l0.6 -0.18M86.64 508.82l0.6 0.19M87.06 509.18l-0.6 0.35M87.72 508.98l-0.6 -0.21M88.17 509.9l-0.6 0.69M88.57 508.46l0.6 0.32M88.79 507.65l0.8 -0.62M89.17 509.12l0.8 -0.37M89.84 508.39l0.8 0.32M90.14 509.4l0.8 -0.17M90.89 509.89l-0.6 -0.25M91.35 510.55l0.8 -0.02M91.57 509.75l0.6 0.68M91.93 509.89l0.8 0.44M92.4 509.62l-0.6 0.3M93.09 512.38l0.8 -0.43M93.87 509.82l0.8 0.08M94.3 511.08l0.6 -0.68M94.77 511.87l0.6 -0M95.31 510.16l0.8 0.31M95.72 510.2l0.6 -0.58M96.44 511.27l0.8 0.12M97.06 511.58l0.6 0.4M97.59 511.49l0.6 0.68M98.07 511.78l-0.6 -0.34M98.67 514.38l-0.6 0.36M99.35 513.46l0.6 0.14M99.99 512.43l0.6 -0.14M100.2 513.79l0.8 -0.46M100.84 513l-0.6 -0.49M101.1 512.58l0.6 0.61M101.47 513.43l-0.6 0.59M101.87 515.32l0.8 -0.24M102.27 513.39l0.6 -0.33M102.67 513.26l-0.6 0.56M103.04 513.17l0.8 0.19M103.44 513.55l0.6 -0M103.86 514.26l-0.6 -0.64M104.31 514.1l0.6 -0.24M104.59 514.91l-0.6 0.27M104.93 514.3l-0.6 -0.37M105.46 515.12l0.6 0.51M105.88 514.06l-0.6 0.68M106.19 513.83l0.8 -0.58M106.6 512.27l-0.6 -0.57M107.18 514.52l0.8 -0.28M107.73 515.95l0.6 -0.41M108.39 516.49l0.6 0.55M108.71 515.53l0.6 0.38M109.36 514.9l0.8 -0.23M109.65 513.61l0.6 0.26M110.1 514.63l0.8 -0.28M110.67 514.43l0.6 -0.28M111.2 515.95l0.6 -0.45M111.52 514.81l-0.6 0.63M112.29 515.22l-0.6 0.48M112.52 514.29l-0.6 0.22M112.87 515.46l0.6 0.59M113.23 522.05l-0.6 0.51M113.58 523.13l-0.6 0.23M114.13 513.42l0.8 -0.09M114.75 517.51l0.8 -0M115.3 516.95l0.8 -0.01M115.79 515.29l-0.6 -0.13M116.52 517.19l0.8 -0.37M117 515.96l-0.6 -0.56M117.71 517.1l0.8 -0.68M118.1 517.93l0.8 -0.63M118.41 514.14l-0.6 0.28M119.05 517.08l0.6 0.35M119.63 516.25l0.6 -0.47M120.04 515.64l0.6 0.67M120.31 518.55l-0.6 -0.23M120.82 518.32l-0.6 0.09M121.57 516.26l0.6 0.11M122.02 515.88l0.6 -0.1M122.48 516.26l0.6 -0.49M122.83 517.01l-0.6 -0.57M123.04 516.39l-0.6 -0.53M123.27 518.41l0.8 0.52M124.03 516.6l0.8 0.57M124.37 518.05l0.6 -0.34M124.99 516.67l0.8 -0.44M125.67 518.35l0.6 -0.54M126.23 517.92l0.8 0.66M126.69 516.92l-0.6 0.43M127.29 520.91l-0.6 -0.52M127.9 513.78l0.6 -0.35M128.66 519.57l0.6 -0.4M129.4 519.75l-0.6 0.44M129.71 517.58l0.8 -0.24M130.27 522.18l0.6 0.61M130.57 520.22l0.6 0.08M130.88 518.24l-0.6 -0.49M131.66 521.48l0.6 0.4M131.96 518.69l0.6 -0.4M132.52 517.29l-0.6 -0.23M132.96 521.04l0.6 0.49M133.75 519.99l-0.6 -0.35M134.54 520.82l-0.6 -0.41M135.32 522.85l-0.6 0.45M135.83 523.08l0.8 -0.45M136.23 520.83l-0.6 0.35M136.55 520.97l0.8 -0.4M137.24 520.66l0.6 0.45M137.91 522.27l-0.6 0.4M138.53 521.04l0.8 -0.67M139.07 520.97l0.8 0.45M139.62 521.86l0.6 -0.06M140.33 525.92l0.8 -0.14M141 519.72l-0.6 -0.42M141.68 521.24l-0.6 0.29M142.08 521.22l0.8 -0.58M142.51 521.41l-0.6 -0.09M143.26 523.26l-0.6 0.02M143.64 524.02l0.8 0.07M143.86 521.43l-0.6 -0.11M144.41 522.2l0.6 0.46M144.62 523.55l0.8 -0.52M145 523.9l-0.6 0.65M145.5 524.01l-0.6 0.22M145.89 520.94l0.8 -0.08M146.2 523.2l0.8 -0.13M146.88 523.32l0.6 0.15M147.35 524.39l-0.6 0.4M147.9 523.68l0.6 0.15M148.19 522.42l0.8 -0.56M148.81 521.93l0.6 -0.26M149.1 521.6l0.6 0.21M149.85 520.61l-0.6 0.44M150.26 519.37l0.8 -0.21M150.87 521.61l0.6 0.36M151.41 521.22l0.6 0.18M152.02 524.79l0.6 -0.65M152.71 519.49l0.6 0.58M153.23 520.52l0.8 -0.56M153.51 519.26l-0.6 -0.7M153.86 518.72l-0.6 -0.37M154.52 518l0.8 0.49" stroke="#111" stroke-width="0.75" fill="none"/>
<path d="M98.3 447.7 V495.4 H167.6" fill="none" stroke="#444" stroke-width="0.9"/>
<line x1="96.8" y1="495.4" x2="98.3" y2="495.4" stroke="#444" stroke-width="0.6"/>
<text x="96" y="496.6" font-size="3.4" fill="#777" text-anchor="end">0.0</text>
<line x1="96.8" y1="472.05" x2="98.3" y2="472.05" stroke="#444" stroke-width="0.6"/>
<text x="96" y="473.25" font-size="3.4" fill="#777" text-anchor="end">0.5</text>
<line x1="96.8" y1="448.7" x2="98.3" y2="448.7" stroke="#444" stroke-width="0.6"/>
<text x="96" y="449.9" font-size="3.4" fill="#777" text-anchor="end">1.0</text>
<line x1="98.3" y1="495.4" x2="98.3" y2="496.7" stroke="#444" stroke-width="0.6"/>
<text x="98.3" y="502" font-size="3.6" fill="#777" text-anchor="middle">0</text>
<line x1="111.7" y1="495.4" x2="111.7" y2="496.7" stroke="#444" stroke-width="0.6"/>
<text x="111.7" y="502" font-size="3.6" fill="#777" text-anchor="middle">50</text>
<line x1="125.1" y1="495.4" x2="125.1" y2="496.7" stroke="#444" stroke-width="0.6"/>
<text x="125.1" y="502" font-size="3.6" fill="#777" text-anchor="middle">100</text>
<line x1="138.5" y1="495.4" x2="138.5" y2="496.7" stroke="#444" stroke-width="0.6"/>
<text x="138.5" y="502" font-size="3.6" fill="#777" text-anchor="middle">150</text>
<line x1="151.9" y1="495.4" x2="151.9" y2="496.7" stroke="#444" stroke-width="0.6"/>
<text x="151.9" y="502" font-size="3.6" fill="#777" text-anchor="middle">200</text>
<line x1="165.3" y1="495.4" x2="165.3" y2="496.7" stroke="#444" stroke-width="0.6"/>
<text x="165.3" y="502" font-size="3.6" fill="#777" text-anchor="middle">250</text>
<text transform="translate(85.9 471.4) rotate(-90)" x="0" y="0" font-size="5.4" fill="#333" text-anchor="middle">P(r)</text>
<text x="132.8" y="510.7" font-size="5.6" fill="#333" text-anchor="middle">r(Å)</text>
<path d="M98.3 495.4 C98.93 492.44 100.8 483.73 102.05 477.65 C103.3 471.58 104.64 463.41 105.8 458.97 C106.97 454.54 107.9 452.75 109.02 451.03 C110.14 449.32 111.03 448.78 112.5 448.7 C113.98 448.62 116.21 449.63 117.86 450.57 C119.52 451.5 120.99 452.75 122.42 454.3 C123.85 455.86 125.01 457.42 126.44 459.91 C127.87 462.4 129.61 466.76 131 469.25 C132.38 471.74 133.32 473.06 134.75 474.85 C136.18 476.64 138.01 478.35 139.57 479.99 C141.14 481.62 142.48 483.1 144.13 484.66 C145.78 486.22 147.7 487.85 149.49 489.33 C151.27 490.81 152.93 492.52 154.85 493.53 C156.77 494.54 159.98 495.09 161.01 495.4" fill="none" stroke="#40619c" stroke-width="1.1"/>
<path d="M98.3 495.4 C98.97 492.13 100.89 482.48 102.32 475.79 C103.75 469.09 105.22 459.75 106.88 455.24 C108.53 450.72 110.45 449.24 112.24 448.7 C114.02 448.16 116.08 450.65 117.6 451.97 C119.11 453.29 120.05 454.54 121.35 456.64 C122.64 458.74 123.94 461.93 125.37 464.58 C126.8 467.22 128.41 470.18 129.92 472.52 C131.44 474.85 132.69 476.56 134.48 478.59 C136.27 480.61 138.59 482.71 140.64 484.66 C142.7 486.6 144.49 488.47 146.81 490.26 C149.13 492.05 153.28 494.54 154.58 495.4" fill="none" stroke="#5aa03c" stroke-width="1.1"/>
<path d="M98.3 495.4 C98.61 493.69 99.53 488.71 100.18 485.13 C100.82 481.55 101.53 477.81 102.16 473.92 C102.78 470.03 103.41 465.2 103.93 461.78 C104.45 458.35 104.82 455.39 105.27 453.37 C105.71 451.35 106.1 450.41 106.61 449.63 C107.12 448.86 107.79 448.23 108.32 448.7 C108.86 449.17 109.26 451.27 109.82 452.44 C110.39 453.6 111.07 454.85 111.7 455.7 C112.33 456.56 113 457.11 113.58 457.57 C114.16 458.04 114.51 457.96 115.18 458.51 C115.85 459.05 116.79 459.75 117.6 460.84 C118.4 461.93 119.25 463.18 120.01 465.05 C120.77 466.91 121.26 469.4 122.15 472.05 C123.05 474.7 124.21 478.28 125.37 480.92 C126.53 483.57 127.82 485.98 129.12 487.93 C130.42 489.87 131.71 491.35 133.14 492.6 C134.57 493.84 136.94 494.93 137.7 495.4" fill="none" stroke="#b8394f" stroke-width="1.1"/>
<path d="M206.3 450.1 V530.3 H338" fill="none" stroke="#222" stroke-width="1.1"/>
<line x1="203.1" y1="453.3" x2="206.3" y2="453.3" stroke="#222" stroke-width="0.9"/>
<text x="192.76" y="455.65" font-size="6.6" fill="#2a2a2a" textLength="7.34" lengthAdjust="spacingAndGlyphs" stroke="#2a2a2a" stroke-width="0.1">3.0</text>
<line x1="203.1" y1="468.7" x2="206.3" y2="468.7" stroke="#222" stroke-width="0.9"/>
<text x="192.76" y="471.05" font-size="6.6" fill="#2a2a2a" textLength="7.34" lengthAdjust="spacingAndGlyphs" stroke="#2a2a2a" stroke-width="0.1">2.5</text>
<line x1="203.1" y1="484.1" x2="206.3" y2="484.1" stroke="#222" stroke-width="0.9"/>
<text x="192.76" y="486.45" font-size="6.6" fill="#2a2a2a" textLength="7.34" lengthAdjust="spacingAndGlyphs" stroke="#2a2a2a" stroke-width="0.1">2.0</text>
<line x1="203.1" y1="499.5" x2="206.3" y2="499.5" stroke="#222" stroke-width="0.9"/>
<text x="192.76" y="501.85" font-size="6.6" fill="#2a2a2a" textLength="7.34" lengthAdjust="spacingAndGlyphs" stroke="#2a2a2a" stroke-width="0.1">1.5</text>
<line x1="203.1" y1="514.9" x2="206.3" y2="514.9" stroke="#222" stroke-width="0.9"/>
<text x="192.76" y="517.25" font-size="6.6" fill="#2a2a2a" textLength="7.34" lengthAdjust="spacingAndGlyphs" stroke="#2a2a2a" stroke-width="0.1">1.0</text>
<line x1="203.1" y1="530.3" x2="206.3" y2="530.3" stroke="#222" stroke-width="0.9"/>
<text x="192.76" y="532.65" font-size="6.6" fill="#2a2a2a" textLength="7.34" lengthAdjust="spacingAndGlyphs" stroke="#2a2a2a" stroke-width="0.1">0.5</text>
<line x1="206.3" y1="530.3" x2="206.3" y2="532.9" stroke="#222" stroke-width="0.9"/>
<text x="200.92" y="541.9" font-size="6.5" fill="#2a2a2a" textLength="10.75" lengthAdjust="spacingAndGlyphs" stroke="#2a2a2a" stroke-width="0.1">0.00</text>
<line x1="224.72" y1="530.3" x2="224.72" y2="532.9" stroke="#222" stroke-width="0.9"/>
<text x="219.34" y="541.9" font-size="6.5" fill="#2a2a2a" textLength="10.75" lengthAdjust="spacingAndGlyphs" stroke="#2a2a2a" stroke-width="0.1">0.05</text>
<line x1="243.13" y1="530.3" x2="243.13" y2="532.9" stroke="#222" stroke-width="0.9"/>
<text x="237.75" y="541.9" font-size="6.5" fill="#2a2a2a" textLength="10.75" lengthAdjust="spacingAndGlyphs" stroke="#2a2a2a" stroke-width="0.1">0.10</text>
<line x1="261.55" y1="530.3" x2="261.55" y2="532.9" stroke="#222" stroke-width="0.9"/>
<text x="256.17" y="541.9" font-size="6.5" fill="#2a2a2a" textLength="10.75" lengthAdjust="spacingAndGlyphs" stroke="#2a2a2a" stroke-width="0.1">0.15</text>
<line x1="279.96" y1="530.3" x2="279.96" y2="532.9" stroke="#222" stroke-width="0.9"/>
<text x="274.58" y="541.9" font-size="6.5" fill="#2a2a2a" textLength="10.75" lengthAdjust="spacingAndGlyphs" stroke="#2a2a2a" stroke-width="0.1">0.20</text>
<line x1="298.38" y1="530.3" x2="298.38" y2="532.9" stroke="#222" stroke-width="0.9"/>
<text x="293" y="541.9" font-size="6.5" fill="#2a2a2a" textLength="10.75" lengthAdjust="spacingAndGlyphs" stroke="#2a2a2a" stroke-width="0.1">0.25</text>
<line x1="316.79" y1="530.3" x2="316.79" y2="532.9" stroke="#222" stroke-width="0.9"/>
<text x="311.41" y="541.9" font-size="6.5" fill="#2a2a2a" textLength="10.75" lengthAdjust="spacingAndGlyphs" stroke="#2a2a2a" stroke-width="0.1">0.30</text>
<line x1="335.21" y1="530.3" x2="335.21" y2="532.9" stroke="#222" stroke-width="0.9"/>
<text x="329.83" y="541.9" font-size="6.5" fill="#2a2a2a" textLength="10.75" lengthAdjust="spacingAndGlyphs" stroke="#2a2a2a" stroke-width="0.1">0.35</text>
<text transform="translate(186.1 490.05) rotate(-90)" x="-11.05" y="0" font-size="9" fill="#1a1a1a" textLength="22.11" lengthAdjust="spacingAndGlyphs" stroke="#1a1a1a" stroke-width="0.1">Log (I)</text>
<text x="258.8" y="553.9" font-size="8.1" fill="#1a1a1a" textLength="18.63" lengthAdjust="spacingAndGlyphs" stroke="#1a1a1a" stroke-width="0.1">s (nm</text>
<text x="278" y="551.3" font-size="4.8" fill="#1a1a1a" textLength="3.84" lengthAdjust="spacingAndGlyphs" stroke="#1a1a1a" stroke-width="0.1">-1</text>
<text x="283.2" y="553.9" font-size="8.1" fill="#1a1a1a" textLength="2.48" lengthAdjust="spacingAndGlyphs" stroke="#1a1a1a" stroke-width="0.1">)</text>
<text x="212.2" y="525" font-size="4.8" fill="#444" font-style="italic" textLength="12.27" lengthAdjust="spacingAndGlyphs" stroke="#444" stroke-width="0.1">MT7q</text>
<path d="M210.7 458.73 L211.3 459.31 L211.9 459.96 L212.5 460.68 L213.1 461.46 L213.7 462.29 L214.3 463.16 L214.9 464.08 L215.5 465.02 L216.1 465.98 L216.7 466.95 L217.3 467.93 L217.9 468.91 L218.5 469.88 L219.1 470.83 L219.7 471.77 L220.3 472.68 L220.9 473.57 L221.5 474.44 L222.1 475.3 L222.7 476.14 L223.3 476.96 L223.9 477.76 L224.5 478.56 L225.1 479.33 L225.7 480.1 L226.3 480.85 L226.9 481.59 L227.5 482.32 L228.1 483.04 L228.7 483.75 L229.3 484.45 L229.9 485.14 L230.5 485.83 L231.1 486.51 L231.7 487.18 L232.3 487.85 L232.9 488.51 L233.5 489.17 L234.1 489.82 L234.7 490.46 L235.3 491.09 L235.9 491.72 L236.5 492.35 L237.1 492.96 L237.7 493.57 L238.3 494.17 L238.9 494.76 L239.5 495.35 L240.1 495.92 L240.7 496.49 L241.3 497.06 L241.9 497.61 L242.5 498.16 L243.1 498.69 L243.7 499.22 L244.3 499.74 L244.9 500.25" fill="none" stroke="#111" stroke-width="1.15" stroke-linejoin="round"/>
<path d="M244.9 500.25 L245.6 500.64 L246.3 502.06 L247 501.17 L247.7 501.07 L248.4 502.3 L249.1 503.6 L249.8 504.03 L250.5 504.83 L251.2 504.66 L251.9 505.2 L252.6 506.76 L253.3 506.74 L254 505.38 L254.7 507.98 L255.4 507.84 L256.1 508.74 L256.8 509.14 L257.5 509.47 L258.2 509.86 L258.9 509.19 L259.6 509.33 L260.3 509.54 L261 509.59 L261.7 511.93 L262.4 510.91 L263.1 510.53 L263.8 511.39 L264.5 512.81 L265.2 512.28 L265.9 512.85 L266.6 512.07 L267.3 512.83 L268 513.16 L268.7 511.74 L269.4 513.76 L270.1 513.58 L270.8 514.2 L271.5 513.87 L272.2 514.89 L272.9 514.1 L273.6 513.98 L274.3 514.19 L275 515.69 L275.7 516.61 L276.4 514.12 L277.1 515 L277.8 515.59 L278.5 515.32 L279.2 516.2 L279.9 518.08 L280.6 514.75 L281.3 517.17 L282 518.06 L282.7 516.44 L283.4 518.06 L284.1 517.42 L284.8 516.77 L285.5 519.2 L286.2 517.56 L286.9 518.55 L287.6 519.2 L288.3 518.77 L289 519.72 L289.7 518.43 L290.4 519.66 L291.1 520.35 L291.8 519.63 L292.5 521.16 L293.2 519.04 L293.9 518.82 L294.6 521.16 L295.3 520.4 L296 519.2 L296.7 520.21 L297.4 520.33 L298.1 519.04 L298.8 521.61 L299.5 520.83 L300.2 521.6 L300.9 522.31 L301.6 521.31 L302.3 520.93 L303 520.93 L303.7 523.61 L304.4 522.39 L305.1 524.13 L305.8 521.47 L306.5 522.57 L307.2 523.56 L307.9 521.56 L308.6 521.83 L309.3 522.19 L310 524.21 L310.7 523.97 L311.4 522.59 L312.1 523.25 L312.8 520.65 L313.5 524.12 L314.2 522.79 L314.9 523.11 L315.6 521.57 L316.3 524.9 L317 525.26 L317.7 525.94 L318.4 524.13 L319.1 524.66 L319.8 522.9 L320.5 524.92 L321.2 523.85 L321.9 524.24 L322.6 525.36 L323.3 524.84 L324 524.04 L324.7 523.26 L325.4 524.53 L326.1 523.31 L326.8 525.32" fill="none" stroke="#151515" stroke-width="0.7" stroke-linejoin="round"/>
<path d="M245.05 499.91l0.8 0.11M245.53 499.41l-0.6 -0.34M245.96 495.83l0.6 -0.68M246.1 504.34l-0.6 0.29M246.47 502.42l-0.6 -0.34M246.64 501.49l-0.6 0.7M247.06 502.78l-0.6 0.05M247.29 499.54l-0.6 -0.04M247.71 501.52l0.8 -0.58M248.2 501.96l-0.6 -0.62M248.62 502.62l-0.6 -0.29M248.82 504.29l-0.6 0.06M248.99 502.14l-0.6 -0.46M249.12 502.7l-0.6 0.48M249.37 503.6l0.8 0.67M249.57 505.94l-0.6 -0.38M249.78 502.92l0.6 -0.26M250.08 504.02l0.6 -0.04M250.27 503.12l-0.6 0.18M250.56 505.07l0.8 -0.6M250.78 505.06l-0.6 0.36M251.08 504.61l-0.6 -0.51M251.53 506.13l0.8 0.56M252.03 505.22l0.6 -0.18M252.38 505.95l0.6 0M252.69 507.29l0.8 -0.42M252.94 507.11l0.6 -0.45M253.24 506.79l-0.6 -0.04M253.52 505.82l-0.6 0.62M253.69 506.57l0.6 -0.12M254.17 505.89l0.6 -0.42M254.64 506.22l0.6 0.34M255.08 507.24l-0.6 0.43M255.24 507.42l0.6 0.66M255.68 506.41l0.8 0.59M256.08 509.89l0.8 0.12M256.27 507.86l-0.6 -0.33M256.74 507.08l0.8 -0.3M257.2 508.82l0.6 0.44M257.32 508.25l0.8 0.4M257.63 511.07l0.6 -0.68M257.79 510.38l-0.6 0.02M258 509.89l0.8 0.26M258.32 510.01l-0.6 0.11M258.82 512.42l0.8 -0.45M259.03 508.14l0.6 -0.15M259.48 509.04l0.6 -0.42M259.71 506.64l0.8 -0.23M259.99 509.26l0.6 -0.64M260.25 507.57l0.8 -0.13M260.58 512.64l0.8 -0.02M261.03 512.15l-0.6 0.16M261.24 511.46l0.8 0.17M261.52 509.1l0.6 -0.49M261.97 511.68l0.6 0.65M262.27 510.72l0.8 0.06M262.57 509.5l-0.6 0.41M262.91 510.43l-0.6 0.67M263.33 512.24l-0.6 0.2M263.77 512.31l0.8 -0.69M263.99 511.8l0.6 0.26M264.44 512.04l0.6 -0.2M264.68 515l0.6 0.23M265.05 507.31l0.6 -0.06M265.26 512.81l-0.6 -0.07M265.75 511.31l0.8 0.17M266.13 511.57l0.8 0.22M266.33 511.7l0.6 -0.59M266.74 512.25l0.6 -0.31M266.94 513.65l0.8 0.24M267.15 515.01l0.8 -0.47M267.6 514.61l-0.6 0.19M267.92 513.22l-0.6 0.63M268.13 512.27l0.6 -0.59M268.38 513.01l0.8 -0.61M268.86 512.21l-0.6 -0.57M269.19 515.85l0.8 0.61M269.48 514.95l0.6 0.62M269.75 511.05l0.8 0.38M270.08 513.19l-0.6 0.6M270.22 514.2l0.6 -0.08M270.43 514.88l0.8 0.33M270.58 513.05l0.6 0.69M271.08 514.84l0.6 0.29M271.53 516.07l-0.6 -0.66M271.83 514.92l0.6 -0.28M272.14 517.57l0.6 -0.03M272.37 513.48l-0.6 -0.51M272.5 515.87l0.6 0.39M272.75 514.47l-0.6 0.41M272.87 515.15l0.6 -0.24M273.05 516.23l-0.6 0.11M273.53 512.51l0.6 0.27M273.93 513.39l-0.6 0.09M274.39 513.59l0.6 0.59M274.65 516.17l0.8 -0.39M274.88 516.09l0.8 -0.04M275.33 515.33l-0.6 0.4M275.72 518.03l0.6 -0.01M275.93 521.27l0.6 -0.18M276.38 517.85l-0.6 0.52M276.72 517.98l0.8 -0.39M276.94 510.64l-0.6 0.31M277.26 517.51l0.8 0.64M277.6 517.74l0.8 0.2M277.96 515.41l0.6 -0.51M278.09 516.51l0.6 0.47M278.57 514.8l0.6 -0.6M278.84 516.24l0.8 -0.51M279.15 519.19l0.6 -0.47M279.4 515.73l0.8 -0.31M279.89 518.46l-0.6 -0.02M280.04 519.15l-0.6 0.53M280.25 516.64l0.8 0.21M280.66 516.05l-0.6 -0.65M280.98 516.8l0.8 -0.04M281.39 518.27l0.8 -0.53M281.55 519.17l0.6 0.13M281.89 515.13l-0.6 0.41M282.3 518.64l0.8 0.14M282.47 518.91l-0.6 0.38M282.85 519.11l0.8 0.66M283.07 518l0.6 0.56M283.41 516.88l0.8 -0.45M283.61 517.08l0.8 -0.39M283.98 517.6l0.8 -0.3M284.38 516.13l0.8 0.11M284.59 519.01l0.8 -0.18M284.88 520.41l0.8 -0.63M285.32 517.78l0.8 0.3M285.45 517.07l0.6 0.58M285.61 520.3l0.8 0.01M285.94 518.34l0.6 -0.24M286.11 516.06l-0.6 0.61M286.33 517.55l-0.6 -0.28M286.69 518.02l0.6 -0.48M286.95 517.37l0.8 -0.54M287.27 516.26l0.6 0.2M287.61 514.67l0.6 -0.68M287.86 515.15l0.8 0.61M288.17 516.82l-0.6 -0.67M288.5 519.74l0.8 0.37M288.66 516.89l-0.6 0.17M288.8 516.45l-0.6 0.47M289.15 526.1l-0.6 0.39M289.35 521.82l-0.6 0.65M289.84 520.96l-0.6 -0.5M290.29 518.71l0.8 -0.53M290.76 519.63l0.8 0.15M291.01 517.33l0.8 0.56M291.4 520.23l0.8 0.38M291.56 518.4l-0.6 -0.17M291.82 517.73l-0.6 0.32M292 523.36l0.6 0.23M292.39 519.35l-0.6 0.05M292.57 521.71l0.6 0.22M292.72 521.25l-0.6 -0.27M292.88 519.51l0.6 -0.63M293.27 517.01l-0.6 0.12M293.42 520.23l-0.6 -0.27M293.87 516.93l0.6 -0.52M294.35 519.9l-0.6 -0.21M294.49 522.55l0.8 -0.02M294.7 518.62l0.8 0.21M295.05 519.86l-0.6 0.47M295.5 524.12l0.8 -0.13M295.76 525.81l0.6 -0.09M296.07 518.34l0.8 -0.2M296.45 519.01l0.8 0.42M296.6 520.67l-0.6 0.56M297.09 519.76l0.6 -0.29M297.42 520.69l0.6 0.37M297.68 521.43l-0.6 0.5M297.83 520.58l-0.6 -0.4M298.33 518.5l0.6 0.55M298.57 527.6l-0.6 0.21M298.94 530.87l0.6 0M299.44 526.26l-0.6 0.19M299.59 521.13l0.6 0.46M300.01 520.08l-0.6 -0.44M300.31 524.97l-0.6 -0.45M300.56 520.68l-0.6 0.39M300.8 522.14l0.6 0.32M301.14 521.79l0.6 -0.19M301.29 523.56l-0.6 -0.31M301.61 519.88l0.8 -0.41M301.94 520.36l0.6 0.61M302.11 522.04l0.8 0.67M302.44 520.74l0.6 -0.09M302.73 521.79l-0.6 0.49M302.87 520.77l0.6 -0.43M303.13 518.3l0.6 -0.45M303.61 522.55l0.8 -0.31M303.98 524.64l-0.6 -0.24M304.19 520.25l0.6 -0.11M304.43 524.49l0.6 -0.44M304.62 519.58l0.8 0.42M305.06 526.22l-0.6 0.25M305.4 523.48l0.6 0.51M305.81 519.28l-0.6 -0.57M306.08 520.18l0.8 -0.14M306.22 524.65l0.6 -0.18M306.54 522.74l-0.6 0.54M306.75 523.61l0.6 0.62M307.19 532.96l0.6 0.16M307.55 527.03l0.6 0.11M307.93 523.2l0.6 0.1M308.38 524.47l-0.6 0.21M308.52 524.39l0.6 -0.62M308.7 521.64l-0.6 -0.42M308.9 523.34l-0.6 -0.51M309.22 521.3l-0.6 -0M309.38 524.97l-0.6 -0.65M309.77 522.1l0.6 0.54M310.11 522.66l-0.6 0.48M310.38 524.44l-0.6 0.23M310.7 527.34l-0.6 -0.68M310.84 517.67l-0.6 0.65M311 521.77l0.6 0.64M311.31 523.69l0.8 -0.4M311.79 530.58l-0.6 0.11M312 526.06l0.8 -0.15M312.31 516.44l0.6 0.26M312.58 524.63l-0.6 0.37M312.93 528.46l0.8 -0.23M313.36 519.99l-0.6 0.42M313.66 524.37l-0.6 0.17M313.86 520.13l0.8 -0.05M314.03 527.58l0.8 -0.57M314.29 526.03l0.6 0.41M314.43 523.36l0.6 -0.05M314.71 522.36l0.8 0.39M315 525.81l0.6 -0.56M315.16 525.07l-0.6 0.51M315.35 524.52l0.6 -0.44M315.6 521.03l-0.6 -0.36M315.88 523.22l0.6 -0.39M316.19 523.65l0.6 0.5M316.59 524.17l-0.6 -0.3M316.78 525.86l0.8 -0.41M316.96 523l0.6 0.58M317.21 523.65l0.8 0.57M317.5 522.77l-0.6 -0.69M317.85 523.09l0.6 -0.27M318.26 526.61l0.8 -0.12M318.41 522.01l0.8 -0.61M318.69 518.96l-0.6 0.55M318.83 524.85l0.8 0.17M319.09 520.28l0.8 -0.03M319.52 522.14l-0.6 0.49M320.01 524.55l0.8 -0.42M320.15 523.71l0.8 -0.43M320.37 524.42l-0.6 -0.04M320.63 526.03l0.6 0.39M320.95 521.66l0.8 0.09M321.27 523.99l0.6 -0.53M321.66 524.9l0.6 0.1M322.1 524.34l0.6 0.01M322.46 523.14l-0.6 0.64M322.68 521.57l0.8 -0.49M323.11 524.26l-0.6 -0.03M323.52 524.38l-0.6 -0.48M323.99 522.52l0.6 0.55M324.25 524.14l-0.6 0.65M324.47 528.11l0.8 0.28M324.96 523.27l0.6 0.01M325.29 525.49l0.8 -0.27M325.68 526.69l0.8 -0.6M326.12 525.29l0.6 -0.15M326.6 520.27l0.6 0.1" stroke="#111" stroke-width="0.75" fill="none"/>
<path d="M270.2 447.7 V495.4 H339.5" fill="none" stroke="#444" stroke-width="0.9"/>
<line x1="268.7" y1="495.4" x2="270.2" y2="495.4" stroke="#444" stroke-width="0.6"/>
<text x="267.9" y="496.6" font-size="3.4" fill="#777" text-anchor="end">0.0</text>
<line x1="268.7" y1="472.05" x2="270.2" y2="472.05" stroke="#444" stroke-width="0.6"/>
<text x="267.9" y="473.25" font-size="3.4" fill="#777" text-anchor="end">0.5</text>
<line x1="268.7" y1="448.7" x2="270.2" y2="448.7" stroke="#444" stroke-width="0.6"/>
<text x="267.9" y="449.9" font-size="3.4" fill="#777" text-anchor="end">1.0</text>
<line x1="270.2" y1="495.4" x2="270.2" y2="496.7" stroke="#444" stroke-width="0.6"/>
<text x="270.2" y="502" font-size="3.6" fill="#777" text-anchor="middle">0</text>
<line x1="283.6" y1="495.4" x2="283.6" y2="496.7" stroke="#444" stroke-width="0.6"/>
<text x="283.6" y="502" font-size="3.6" fill="#777" text-anchor="middle">50</text>
<line x1="297" y1="495.4" x2="297" y2="496.7" stroke="#444" stroke-width="0.6"/>
<text x="297" y="502" font-size="3.6" fill="#777" text-anchor="middle">100</text>
<line x1="310.4" y1="495.4" x2="310.4" y2="496.7" stroke="#444" stroke-width="0.6"/>
<text x="310.4" y="502" font-size="3.6" fill="#777" text-anchor="middle">150</text>
<line x1="323.8" y1="495.4" x2="323.8" y2="496.7" stroke="#444" stroke-width="0.6"/>
<text x="323.8" y="502" font-size="3.6" fill="#777" text-anchor="middle">200</text>
<line x1="337.2" y1="495.4" x2="337.2" y2="496.7" stroke="#444" stroke-width="0.6"/>
<text x="337.2" y="502" font-size="3.6" fill="#777" text-anchor="middle">250</text>
<text transform="translate(257.8 471.4) rotate(-90)" x="0" y="0" font-size="5.4" fill="#333" text-anchor="middle">P(r)</text>
<text x="304.7" y="510.7" font-size="5.6" fill="#333" text-anchor="middle">r(Å)</text>
<path d="M270.2 495.4 C270.83 492.44 272.7 483.73 273.95 477.65 C275.2 471.58 276.54 463.41 277.7 458.97 C278.87 454.54 279.8 452.75 280.92 451.03 C282.04 449.32 282.93 448.78 284.4 448.7 C285.88 448.62 288.11 449.63 289.76 450.57 C291.42 451.5 292.89 452.75 294.32 454.3 C295.75 455.86 296.91 457.42 298.34 459.91 C299.77 462.4 301.51 466.76 302.9 469.25 C304.28 471.74 305.22 473.06 306.65 474.85 C308.08 476.64 309.91 478.35 311.47 479.99 C313.04 481.62 314.38 483.1 316.03 484.66 C317.68 486.22 319.6 487.85 321.39 489.33 C323.17 490.81 324.83 492.52 326.75 493.53 C328.67 494.54 331.88 495.09 332.91 495.4" fill="none" stroke="#40619c" stroke-width="1.1"/>
<path d="M270.2 495.4 C270.87 492.13 272.79 482.48 274.22 475.79 C275.65 469.09 277.12 459.75 278.78 455.24 C280.43 450.72 282.35 449.24 284.14 448.7 C285.92 448.16 287.98 450.65 289.5 451.97 C291.01 453.29 291.95 454.54 293.25 456.64 C294.54 458.74 295.84 461.93 297.27 464.58 C298.7 467.22 300.31 470.18 301.82 472.52 C303.34 474.85 304.59 476.56 306.38 478.59 C308.17 480.61 310.49 482.71 312.54 484.66 C314.6 486.6 316.39 488.47 318.71 490.26 C321.03 492.05 325.18 494.54 326.48 495.4" fill="none" stroke="#5aa03c" stroke-width="1.1"/>
<path d="M270.2 495.4 C270.51 493.69 271.43 488.71 272.08 485.13 C272.72 481.55 273.43 477.81 274.06 473.92 C274.68 470.03 275.31 465.2 275.83 461.78 C276.35 458.35 276.72 455.39 277.17 453.37 C277.61 451.35 278 450.41 278.51 449.63 C279.02 448.86 279.69 448.23 280.22 448.7 C280.76 449.17 281.16 451.27 281.72 452.44 C282.29 453.6 282.97 454.85 283.6 455.7 C284.23 456.56 284.9 457.11 285.48 457.57 C286.06 458.04 286.41 457.96 287.08 458.51 C287.75 459.05 288.69 459.75 289.5 460.84 C290.3 461.93 291.15 463.18 291.91 465.05 C292.67 466.91 293.16 469.4 294.05 472.05 C294.95 474.7 296.11 478.28 297.27 480.92 C298.43 483.57 299.72 485.98 301.02 487.93 C302.32 489.87 303.61 491.35 305.04 492.6 C306.47 493.84 308.84 494.93 309.6 495.4" fill="none" stroke="#b8394f" stroke-width="1.1"/>
<path d="M378 450.1 V530.3 H509.7" fill="none" stroke="#222" stroke-width="1.1"/>
<line x1="374.8" y1="453.3" x2="378" y2="453.3" stroke="#222" stroke-width="0.9"/>
<text x="364.46" y="455.65" font-size="6.6" fill="#2a2a2a" textLength="7.34" lengthAdjust="spacingAndGlyphs" stroke="#2a2a2a" stroke-width="0.1">3.0</text>
<line x1="374.8" y1="468.7" x2="378" y2="468.7" stroke="#222" stroke-width="0.9"/>
<text x="364.46" y="471.05" font-size="6.6" fill="#2a2a2a" textLength="7.34" lengthAdjust="spacingAndGlyphs" stroke="#2a2a2a" stroke-width="0.1">2.5</text>
<line x1="374.8" y1="484.1" x2="378" y2="484.1" stroke="#222" stroke-width="0.9"/>
<text x="364.46" y="486.45" font-size="6.6" fill="#2a2a2a" textLength="7.34" lengthAdjust="spacingAndGlyphs" stroke="#2a2a2a" stroke-width="0.1">2.0</text>
<line x1="374.8" y1="499.5" x2="378" y2="499.5" stroke="#222" stroke-width="0.9"/>
<text x="364.46" y="501.85" font-size="6.6" fill="#2a2a2a" textLength="7.34" lengthAdjust="spacingAndGlyphs" stroke="#2a2a2a" stroke-width="0.1">1.5</text>
<line x1="374.8" y1="514.9" x2="378" y2="514.9" stroke="#222" stroke-width="0.9"/>
<text x="364.46" y="517.25" font-size="6.6" fill="#2a2a2a" textLength="7.34" lengthAdjust="spacingAndGlyphs" stroke="#2a2a2a" stroke-width="0.1">1.0</text>
<line x1="374.8" y1="530.3" x2="378" y2="530.3" stroke="#222" stroke-width="0.9"/>
<text x="364.46" y="532.65" font-size="6.6" fill="#2a2a2a" textLength="7.34" lengthAdjust="spacingAndGlyphs" stroke="#2a2a2a" stroke-width="0.1">0.5</text>
<line x1="378" y1="530.3" x2="378" y2="532.9" stroke="#222" stroke-width="0.9"/>
<text x="372.62" y="541.9" font-size="6.5" fill="#2a2a2a" textLength="10.75" lengthAdjust="spacingAndGlyphs" stroke="#2a2a2a" stroke-width="0.1">0.00</text>
<line x1="396.42" y1="530.3" x2="396.42" y2="532.9" stroke="#222" stroke-width="0.9"/>
<text x="391.04" y="541.9" font-size="6.5" fill="#2a2a2a" textLength="10.75" lengthAdjust="spacingAndGlyphs" stroke="#2a2a2a" stroke-width="0.1">0.05</text>
<line x1="414.83" y1="530.3" x2="414.83" y2="532.9" stroke="#222" stroke-width="0.9"/>
<text x="409.45" y="541.9" font-size="6.5" fill="#2a2a2a" textLength="10.75" lengthAdjust="spacingAndGlyphs" stroke="#2a2a2a" stroke-width="0.1">0.10</text>
<line x1="433.25" y1="530.3" x2="433.25" y2="532.9" stroke="#222" stroke-width="0.9"/>
<text x="427.87" y="541.9" font-size="6.5" fill="#2a2a2a" textLength="10.75" lengthAdjust="spacingAndGlyphs" stroke="#2a2a2a" stroke-width="0.1">0.15</text>
<line x1="451.66" y1="530.3" x2="451.66" y2="532.9" stroke="#222" stroke-width="0.9"/>
<text x="446.28" y="541.9" font-size="6.5" fill="#2a2a2a" textLength="10.75" lengthAdjust="spacingAndGlyphs" stroke="#2a2a2a" stroke-width="0.1">0.20</text>
<line x1="470.07" y1="530.3" x2="470.07" y2="532.9" stroke="#222" stroke-width="0.9"/>
<text x="464.7" y="541.9" font-size="6.5" fill="#2a2a2a" textLength="10.75" lengthAdjust="spacingAndGlyphs" stroke="#2a2a2a" stroke-width="0.1">0.25</text>
<line x1="488.49" y1="530.3" x2="488.49" y2="532.9" stroke="#222" stroke-width="0.9"/>
<text x="483.11" y="541.9" font-size="6.5" fill="#2a2a2a" textLength="10.75" lengthAdjust="spacingAndGlyphs" stroke="#2a2a2a" stroke-width="0.1">0.30</text>
<line x1="506.91" y1="530.3" x2="506.91" y2="532.9" stroke="#222" stroke-width="0.9"/>
<text x="501.53" y="541.9" font-size="6.5" fill="#2a2a2a" textLength="10.75" lengthAdjust="spacingAndGlyphs" stroke="#2a2a2a" stroke-width="0.1">0.35</text>
<text transform="translate(357.8 490.05) rotate(-90)" x="-11.05" y="0" font-size="9" fill="#1a1a1a" textLength="22.11" lengthAdjust="spacingAndGlyphs" stroke="#1a1a1a" stroke-width="0.1">Log (I)</text>
<text x="430.5" y="553.9" font-size="8.1" fill="#1a1a1a" textLength="18.63" lengthAdjust="spacingAndGlyphs" stroke="#1a1a1a" stroke-width="0.1">s (nm</text>
<text x="449.7" y="551.3" font-size="4.8" fill="#1a1a1a" textLength="3.84" lengthAdjust="spacingAndGlyphs" stroke="#1a1a1a" stroke-width="0.1">-1</text>
<text x="454.9" y="553.9" font-size="8.1" fill="#1a1a1a" textLength="2.48" lengthAdjust="spacingAndGlyphs" stroke="#1a1a1a" stroke-width="0.1">)</text>
<text x="383.9" y="525" font-size="5" fill="#444" textLength="15.25" lengthAdjust="spacingAndGlyphs" stroke="#444" stroke-width="0.1">MT8Lq</text>
<path d="M381.4 451.74 L382 452.35 L382.6 453.01 L383.2 453.7 L383.8 454.43 L384.4 455.19 L385 455.98 L385.6 456.79 L386.2 457.62 L386.8 458.47 L387.4 459.34 L388 460.23 L388.6 461.12 L389.2 462.02 L389.8 462.92 L390.4 463.83 L391 464.73 L391.6 465.64 L392.2 466.53 L392.8 467.43 L393.4 468.31 L394 469.19 L394.6 470.06 L395.2 470.92 L395.8 471.78 L396.4 472.62 L397 473.45 L397.6 474.27 L398.2 475.08 L398.8 475.87 L399.4 476.65 L400 477.42 L400.6 478.16 L401.2 478.89 L401.8 479.61 L402.4 480.3 L403 480.97 L403.6 481.63 L404.2 482.26 L404.8 482.88 L405.4 483.48 L406 484.06 L406.6 484.63 L407.2 485.19 L407.8 485.74 L408.4 486.27 L409 486.79 L409.6 487.3 L410.2 487.81 L410.8 488.31 L411.4 488.8 L412 489.29 L412.6 489.77 L413.2 490.25 L413.8 490.73 L414.4 491.21 L415 491.69 L415.6 492.17 L416.2 492.66 L416.8 493.15 L417.4 493.64 L418 494.13 L418.6 494.63 L419.2 495.12 L419.8 495.62" fill="none" stroke="#111" stroke-width="1.15" stroke-linejoin="round"/>
<path d="M419.8 495.62 L420.5 496.12 L421.2 496.01 L421.9 496.84 L422.6 498.25 L423.3 498.07 L424 498.95 L424.7 499.42 L425.4 501.05 L426.1 500.99 L426.8 500.3 L427.5 501.23 L428.2 501.33 L428.9 501.66 L429.6 502.49 L430.3 503.94 L431 503.77 L431.7 504.56 L432.4 504.5 L433.1 504.75 L433.8 505.43 L434.5 505.73 L435.2 507.29 L435.9 507.6 L436.6 507.1 L437.3 507.6 L438 506.34 L438.7 507.84 L439.4 509.74 L440.1 508.05 L440.8 509.39 L441.5 509.97 L442.2 509.21 L442.9 509.62 L443.6 509.74 L444.3 510.86 L445 510.61 L445.7 511.88 L446.4 511.92 L447.1 511.37 L447.8 513.41 L448.5 511.65 L449.2 511.66 L449.9 512.16 L450.6 511.91 L451.3 512.46 L452 512.92 L452.7 513.83 L453.4 512.22 L454.1 512.55 L454.8 513.19 L455.5 513.74 L456.2 514.48 L456.9 513.73 L457.6 515.65 L458.3 514.27 L459 514.67 L459.7 515.06 L460.4 516.09 L461.1 515.57 L461.8 515.5 L462.5 515.21 L463.2 515.92 L463.9 516.27 L464.6 515.79 L465.3 516.21 L466 514.84 L466.7 516.07 L467.4 517.62 L468.1 517.97 L468.8 516.84 L469.5 515.2 L470.2 518.74 L470.9 517.16 L471.6 519.65 L472.3 517.2 L473 518.56 L473.7 517.27 L474.4 519.15 L475.1 519.1 L475.8 517.22 L476.5 519.48 L477.2 521.04 L477.9 518.36 L478.6 517.56 L479.3 519.07 L480 518.56 L480.7 517.67 L481.4 518.2 L482.1 519.57 L482.8 518 L483.5 520.63 L484.2 520.16 L484.9 519.7 L485.6 521.37 L486.3 519.25 L487 520.96 L487.7 519.11 L488.4 520.26 L489.1 521.38 L489.8 520.35 L490.5 520.94 L491.2 521.87 L491.9 522.93 L492.6 522.88 L493.3 522.19 L494 521.62 L494.7 520.57 L495.4 524.05 L496.1 524.41 L496.8 520.34 L497.5 523.75 L498.2 522.98" fill="none" stroke="#151515" stroke-width="0.8" stroke-linejoin="round"/>
<path d="M419.98 495.63l0.6 0.48M420.4 496.11l0.8 0.01M420.98 496.06l-0.6 -0.64M421.5 495.41l-0.6 0.16M421.71 496.76l0.6 -0.39M422.28 497.71l0.8 0.12M422.63 497.92l0.6 -0.38M423.01 497.48l-0.6 0.21M423.54 497.99l-0.6 -0.41M423.97 500l-0.6 0.05M424.25 499.18l-0.6 0.23M424.78 499.64l-0.6 0.01M425.21 498.81l-0.6 -0.06M425.36 500.66l0.8 0.25M425.57 499.8l0.6 0.64M425.94 501.19l0.6 -0.18M426.42 501.44l0.6 0.03M426.62 501.99l-0.6 -0.5M427.15 500.62l-0.6 -0.12M427.48 502.33l0.6 -0.45M427.81 502.36l0.8 0.23M428.19 502.79l-0.6 -0.12M428.46 502.02l0.8 0.36M429.01 502.68l0.6 -0.35M429.36 503.09l0.8 -0.63M429.64 502.76l-0.6 -0.5M430.07 507.29l-0.6 -0.48M430.34 502.57l-0.6 0.31M430.59 506.54l0.8 -0.3M431.19 504.61l0.8 -0.58M431.63 504.16l0.6 0.42M431.94 504.18l0.8 0.07M432.15 505.44l-0.6 -0.4M432.7 504.56l0.8 -0.52M433.21 504.96l-0.6 0.31M433.68 504.68l0.8 -0.04M434 506.5l-0.6 -0.19M434.39 507.39l-0.6 0.34M434.76 506.6l0.6 -0.12M435.07 505.91l0.8 0.5M435.59 506l-0.6 -0.52M435.98 505.82l0.6 -0.07M436.56 506.34l0.8 -0.66M436.8 506.98l0.6 0.23M437.3 507.23l0.8 0.11M437.73 506.81l0.8 -0.33M438.24 505.46l0.6 0.2M438.81 506.35l0.8 -0.68M439.26 509.28l-0.6 -0.58M439.79 508.98l-0.6 0.41M440 509.54l0.8 0.43M440.23 508.19l0.8 0.29M440.82 510.12l-0.6 0.4M441.01 508.01l0.8 -0.51M441.54 508.72l-0.6 -0.36M441.93 510.81l0.8 -0.13M442.13 506l0.8 0.14M442.32 513.07l-0.6 0.64M442.83 508.57l0.6 0.29M443.26 509.61l0.6 -0.28M443.67 505.33l0.8 0.68M444.01 511.71l0.6 0.44M444.5 510.19l-0.6 -0.38M444.92 509.71l0.6 -0.21M445.41 511.78l0.6 0.63M445.85 510.5l-0.6 -0.07M446.4 512.05l0.6 -0.49M446.59 509.27l-0.6 0.03M446.94 510.76l0.8 0.45M447.53 512.3l0.6 0.63M448.13 511.9l0.8 0.6M448.5 513.65l0.6 0.09M449.07 511.67l0.8 -0.69M449.64 510.73l0.8 -0.14M450.23 512.35l-0.6 -0.2M450.82 511.8l-0.6 0.48M451.14 512.97l0.6 0.17M451.62 511.57l0.8 0.12M452.08 516.01l-0.6 -0.51M452.43 509.34l-0.6 -0.34M452.86 512.03l-0.6 0.3M453.28 515.7l0.6 -0.23M453.76 512.5l0.6 0.27M454 513.61l0.6 -0.01M454.38 514.45l0.8 0.25M454.59 514.44l-0.6 0.6M454.93 515.81l-0.6 0.15M455.37 515.49l0.6 -0.43M455.74 514.8l0.6 -0.23M456.32 516.51l0.8 -0.58M456.79 514.98l0.8 0.43M456.97 516.25l0.8 -0.45M457.33 515.62l0.8 -0.3M457.51 512.77l0.6 -0.67M457.74 513.08l0.6 0.18M458.16 510.51l0.8 0.04M458.46 515.19l0.6 -0.55M458.9 514.65l0.8 0.47M459.37 513.02l0.6 -0.22M459.65 513.95l-0.6 0.59M460.23 517.24l-0.6 -0.62M460.55 514.49l-0.6 0.34M460.91 514.08l0.6 -0.22M461.23 514.88l-0.6 -0.09M461.59 513.64l0.6 -0.28M462.07 517.8l0.8 -0.46M462.36 515.02l-0.6 -0.25M462.86 515.86l0.8 -0.01M463.07 514.32l0.8 0.04M463.36 510.78l-0.6 0.08M463.94 517.34l0.8 -0.52M464.1 514.75l-0.6 -0.46M464.7 514.12l-0.6 0.54M464.89 516.29l-0.6 -0.23M465.15 516.41l0.6 -0.54M465.68 515.35l0.6 0.41M466.28 514.76l-0.6 -0.62M466.69 517.85l-0.6 0.5M467.1 515.96l-0.6 0.56M467.43 518.01l0.6 -0.17M467.94 514.78l0.6 -0.48M468.54 518.39l-0.6 -0.49M469.13 514.78l0.6 0.67M469.55 514.5l0.8 -0.6M470.03 517.91l0.8 -0.32M470.44 518.27l-0.6 -0.5M470.72 514.75l-0.6 0.36M471.31 518.81l0.8 -0.38M471.76 519.75l0.6 0.31M472.37 515.74l0.6 0.27M472.82 516.24l0.6 -0.04M473 528.54l-0.6 0.63M473.61 517.97l0.6 0.48M474.04 519.02l0.8 0.25M474.2 516.83l0.8 -0.19M474.69 518.09l0.8 -0.11M475.14 514.97l0.6 -0.5M475.37 515.52l-0.6 -0.64M475.92 517.94l0.6 0.41M476.22 520.49l-0.6 -0.57M476.7 517.15l0.6 -0.19M476.96 517.65l0.6 0.13M477.33 520.67l0.8 0.5M477.67 521.59l0.6 0.36M478.15 522.92l-0.6 0.64M478.38 516.23l0.6 -0.2M478.54 517.02l0.8 0.29M479.06 529.69l-0.6 -0.22M479.58 516.04l-0.6 -0.48M479.93 517.64l-0.6 -0.02M480.42 517.21l0.6 0.25M480.96 526.77l-0.6 0.62M481.47 517.9l-0.6 0.1M481.97 521.08l-0.6 -0.61M482.54 522.75l-0.6 -0.64M482.9 519.42l0.8 0.5M483.46 520.08l-0.6 0.66M483.98 522.12l0.6 0.67M484.42 520.88l0.8 -0.17M484.85 519.13l-0.6 -0.24M485.28 522.09l-0.6 0.2M485.89 516.5l0.8 -0.27M486.06 521.63l-0.6 -0.16M486.67 523.87l-0.6 0.62M486.93 519.09l0.8 -0.12M487.48 532.37l0.8 0.41M487.89 519.33l0.6 0.56M488.41 524.16l0.8 0.49M488.86 519.78l0.8 0.36M489.34 519.69l0.8 0.06M489.64 520.72l-0.6 -0.43M490.09 518.84l-0.6 0.48M490.5 519.93l0.6 -0.69M491.1 518.56l0.6 -0.21M491.36 523.15l0.8 -0.12M491.78 525.14l0.8 -0.03M492.03 524.58l0.6 -0.33M492.43 524.03l0.8 -0.07M492.62 517.44l-0.6 -0.49M492.79 525.28l-0.6 -0.55M493.33 520.77l0.8 0.27M493.56 523.36l0.8 0.61M494.12 527.24l-0.6 -0.07M494.42 523.17l0.6 0.69M495 524.49l-0.6 0.65M495.31 520.32l0.6 0.56M495.5 521.74l0.8 -0.3M495.92 519.01l0.8 0.17M496.38 519.46l0.6 -0.38M496.67 519.18l0.6 -0.15M497.03 517.02l0.8 0.39M497.43 524.25l-0.6 -0.28M497.81 520.28l-0.6 -0" stroke="#111" stroke-width="0.75" fill="none"/>
<path d="M441.9 447.7 V495.4 H511.2" fill="none" stroke="#444" stroke-width="0.9"/>
<line x1="440.4" y1="495.4" x2="441.9" y2="495.4" stroke="#444" stroke-width="0.6"/>
<text x="439.6" y="496.6" font-size="3.4" fill="#777" text-anchor="end">0.0</text>
<line x1="440.4" y1="472.05" x2="441.9" y2="472.05" stroke="#444" stroke-width="0.6"/>
<text x="439.6" y="473.25" font-size="3.4" fill="#777" text-anchor="end">0.5</text>
<line x1="440.4" y1="448.7" x2="441.9" y2="448.7" stroke="#444" stroke-width="0.6"/>
<text x="439.6" y="449.9" font-size="3.4" fill="#777" text-anchor="end">1.0</text>
<line x1="441.9" y1="495.4" x2="441.9" y2="496.7" stroke="#444" stroke-width="0.6"/>
<text x="441.9" y="502" font-size="3.6" fill="#777" text-anchor="middle">0</text>
<line x1="455.3" y1="495.4" x2="455.3" y2="496.7" stroke="#444" stroke-width="0.6"/>
<text x="455.3" y="502" font-size="3.6" fill="#777" text-anchor="middle">50</text>
<line x1="468.7" y1="495.4" x2="468.7" y2="496.7" stroke="#444" stroke-width="0.6"/>
<text x="468.7" y="502" font-size="3.6" fill="#777" text-anchor="middle">100</text>
<line x1="482.1" y1="495.4" x2="482.1" y2="496.7" stroke="#444" stroke-width="0.6"/>
<text x="482.1" y="502" font-size="3.6" fill="#777" text-anchor="middle">150</text>
<line x1="495.5" y1="495.4" x2="495.5" y2="496.7" stroke="#444" stroke-width="0.6"/>
<text x="495.5" y="502" font-size="3.6" fill="#777" text-anchor="middle">200</text>
<line x1="508.9" y1="495.4" x2="508.9" y2="496.7" stroke="#444" stroke-width="0.6"/>
<text x="508.9" y="502" font-size="3.6" fill="#777" text-anchor="middle">250</text>
<text transform="translate(429.5 471.4) rotate(-90)" x="0" y="0" font-size="5.4" fill="#333" text-anchor="middle">P(r)</text>
<text x="476.4" y="510.7" font-size="5.6" fill="#333" text-anchor="middle">r(Å)</text>
<path d="M441.9 495.4 C442.53 492.44 444.4 483.73 445.65 477.65 C446.9 471.58 448.24 463.41 449.4 458.97 C450.57 454.54 451.5 452.75 452.62 451.03 C453.74 449.32 454.63 448.78 456.1 448.7 C457.58 448.62 459.81 449.63 461.46 450.57 C463.12 451.5 464.59 452.75 466.02 454.3 C467.45 455.86 468.61 457.42 470.04 459.91 C471.47 462.4 473.21 466.76 474.6 469.25 C475.98 471.74 476.92 473.06 478.35 474.85 C479.78 476.64 481.61 478.35 483.17 479.99 C484.74 481.62 486.08 483.1 487.73 484.66 C489.38 486.22 491.3 487.85 493.09 489.33 C494.87 490.81 496.53 492.52 498.45 493.53 C500.37 494.54 503.58 495.09 504.61 495.4" fill="none" stroke="#40619c" stroke-width="1.1"/>
<path d="M441.9 495.4 C442.57 492.13 444.49 482.48 445.92 475.79 C447.35 469.09 448.82 459.75 450.48 455.24 C452.13 450.72 454.05 449.24 455.84 448.7 C457.62 448.16 459.68 450.65 461.2 451.97 C462.71 453.29 463.65 454.54 464.95 456.64 C466.24 458.74 467.54 461.93 468.97 464.58 C470.4 467.22 472.01 470.18 473.52 472.52 C475.04 474.85 476.29 476.56 478.08 478.59 C479.87 480.61 482.19 482.71 484.24 484.66 C486.3 486.6 488.09 488.47 490.41 490.26 C492.73 492.05 496.88 494.54 498.18 495.4" fill="none" stroke="#5aa03c" stroke-width="1.1"/>
<path d="M441.9 495.4 C442.21 493.69 443.13 488.71 443.78 485.13 C444.42 481.55 445.13 477.81 445.76 473.92 C446.38 470.03 447.01 465.2 447.53 461.78 C448.05 458.35 448.42 455.39 448.87 453.37 C449.31 451.35 449.7 450.41 450.21 449.63 C450.72 448.86 451.39 448.23 451.92 448.7 C452.46 449.17 452.86 451.27 453.42 452.44 C453.99 453.6 454.67 454.85 455.3 455.7 C455.93 456.56 456.6 457.11 457.18 457.57 C457.76 458.04 458.11 457.96 458.78 458.51 C459.45 459.05 460.39 459.75 461.2 460.84 C462 461.93 462.85 463.18 463.61 465.05 C464.37 466.91 464.86 469.4 465.75 472.05 C466.65 474.7 467.81 478.28 468.97 480.92 C470.13 483.57 471.42 485.98 472.72 487.93 C474.02 489.87 475.31 491.35 476.74 492.6 C478.17 493.84 480.54 494.93 481.3 495.4" fill="none" stroke="#b8394f" stroke-width="1.1"/>
<rect x="0" y="0" width="1" height="563" fill="#555"/>
<rect x="1" y="1" width="0.5" height="561" fill="#999" opacity="0.5"/>
<rect x="519" y="0" width="1" height="563" fill="#4a4a4a"/>
<rect x="0" y="0" width="520" height="1" fill="#2b2b2b"/>
<rect x="0" y="562" width="520" height="1" fill="#222"/>
</svg>
</body></html>
